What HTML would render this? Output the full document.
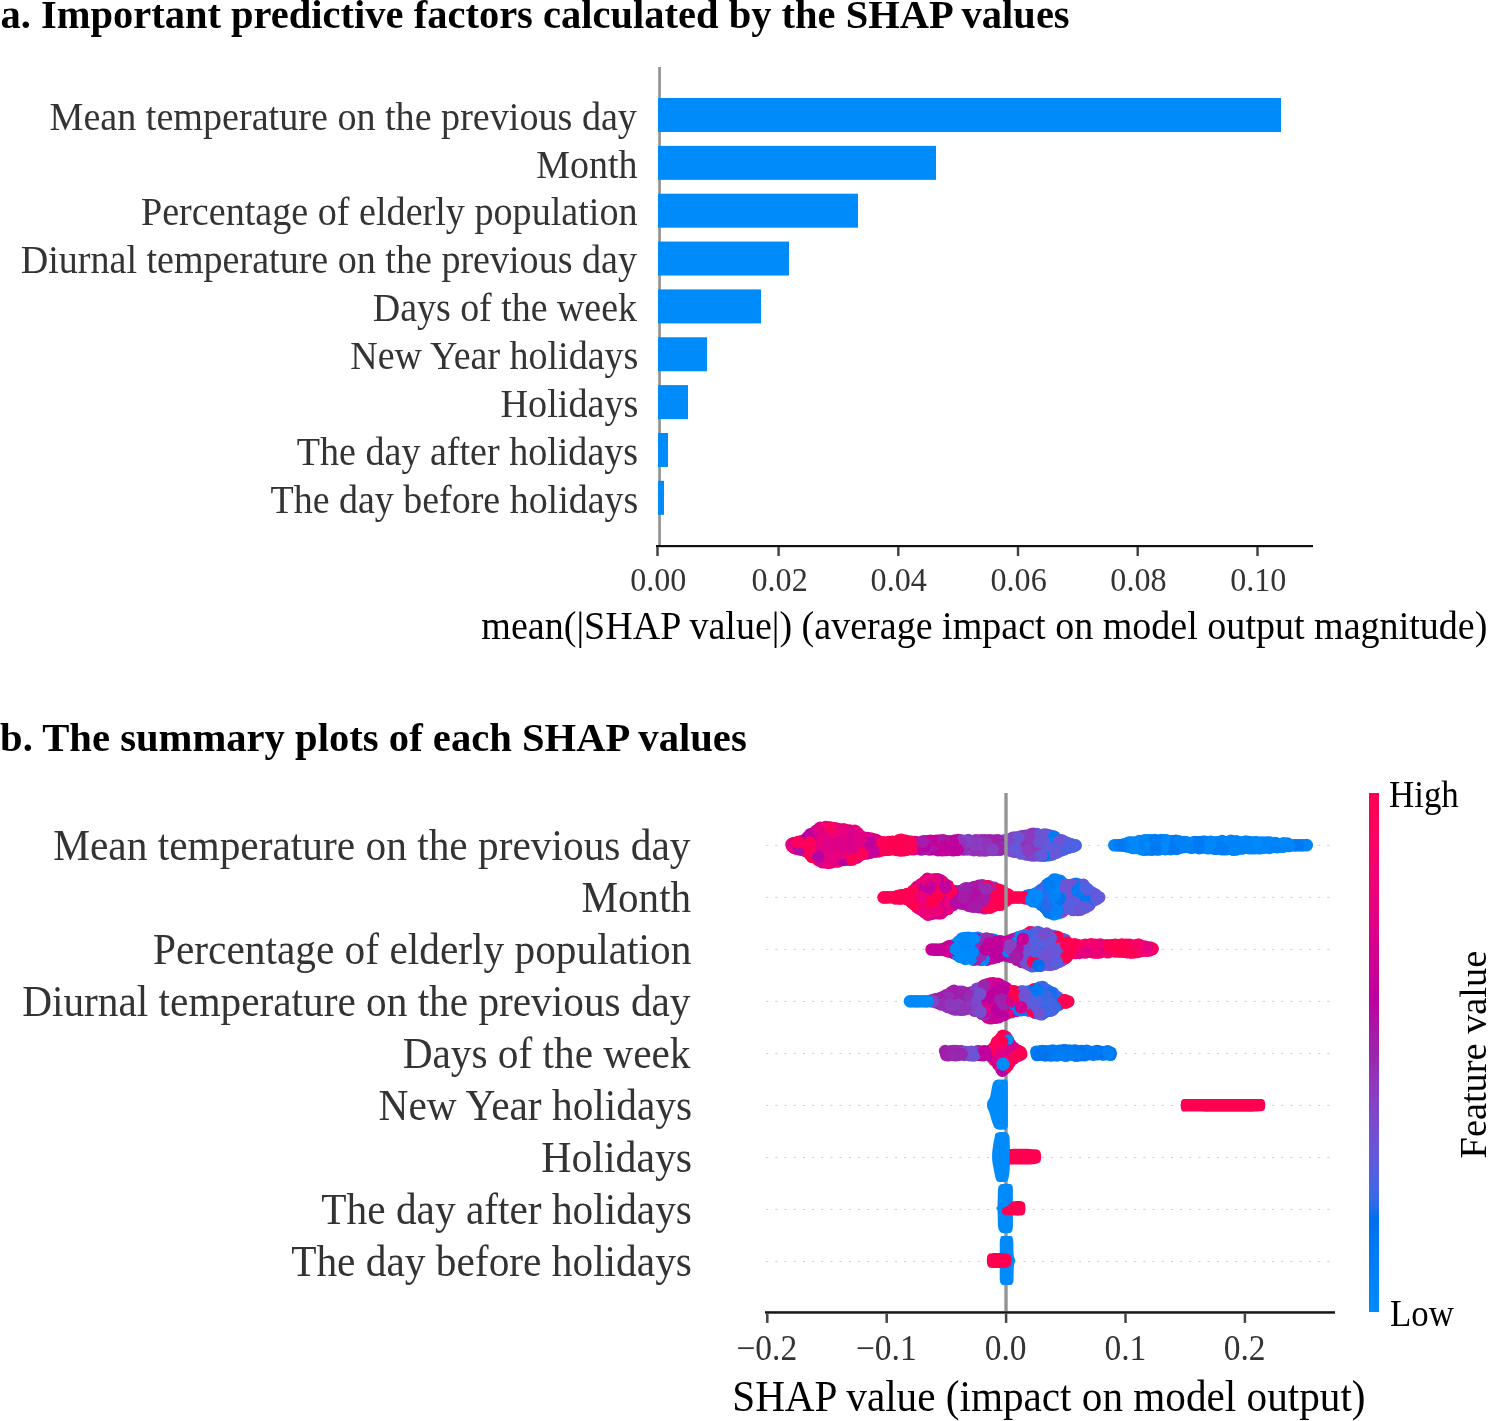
<!DOCTYPE html>
<html><head><meta charset="utf-8"><title>SHAP figure</title>
<style>
html,body{margin:0;padding:0;background:#fff;}
body{width:1490px;height:1421px;overflow:hidden;}
svg{display:block;font-family:"Liberation Serif", serif;}
svg{will-change:transform;}
</style></head><body>
<svg width="1490" height="1421" viewBox="0 0 1490 1421">
<rect width="1490" height="1421" fill="#fff"/>
<defs><linearGradient id="cb" x1="0" y1="0" x2="0" y2="1"><stop offset="0.000" stop-color="#ff0051"/><stop offset="0.020" stop-color="#ff0056"/><stop offset="0.040" stop-color="#ff005a"/><stop offset="0.060" stop-color="#fd005e"/><stop offset="0.080" stop-color="#fb0063"/><stop offset="0.100" stop-color="#f90067"/><stop offset="0.120" stop-color="#f6006b"/><stop offset="0.140" stop-color="#f30070"/><stop offset="0.160" stop-color="#f00074"/><stop offset="0.180" stop-color="#ed0078"/><stop offset="0.200" stop-color="#e9007c"/><stop offset="0.220" stop-color="#e60080"/><stop offset="0.240" stop-color="#e20084"/><stop offset="0.260" stop-color="#de0088"/><stop offset="0.280" stop-color="#d9008b"/><stop offset="0.300" stop-color="#d5008f"/><stop offset="0.320" stop-color="#d00093"/><stop offset="0.340" stop-color="#cb0096"/><stop offset="0.360" stop-color="#c60099"/><stop offset="0.380" stop-color="#c0009c"/><stop offset="0.400" stop-color="#bb00a0"/><stop offset="0.420" stop-color="#b508a3"/><stop offset="0.440" stop-color="#af11a5"/><stop offset="0.460" stop-color="#a819a8"/><stop offset="0.480" stop-color="#a21eaa"/><stop offset="0.500" stop-color="#9b23ad"/><stop offset="0.520" stop-color="#972bb2"/><stop offset="0.540" stop-color="#9332b7"/><stop offset="0.560" stop-color="#8e38bc"/><stop offset="0.580" stop-color="#893dc1"/><stop offset="0.600" stop-color="#8443c6"/><stop offset="0.620" stop-color="#7e48ca"/><stop offset="0.640" stop-color="#784ccf"/><stop offset="0.660" stop-color="#7251d3"/><stop offset="0.680" stop-color="#6a55d7"/><stop offset="0.700" stop-color="#6359da"/><stop offset="0.720" stop-color="#5a5dde"/><stop offset="0.740" stop-color="#5061e1"/><stop offset="0.760" stop-color="#4565e5"/><stop offset="0.780" stop-color="#3769e8"/><stop offset="0.800" stop-color="#236cea"/><stop offset="0.820" stop-color="#006fed"/><stop offset="0.840" stop-color="#0073ef"/><stop offset="0.860" stop-color="#0076f1"/><stop offset="0.880" stop-color="#0079f3"/><stop offset="0.900" stop-color="#007cf5"/><stop offset="0.920" stop-color="#007ff7"/><stop offset="0.940" stop-color="#0082f8"/><stop offset="0.960" stop-color="#0085f9"/><stop offset="0.980" stop-color="#0088fa"/><stop offset="1.000" stop-color="#008bfb"/></linearGradient></defs>
<text transform="translate(0.38,28.20) scale(1.0004,1.0000)" font-size="40.5" font-weight="bold" fill="#000">a. Important predictive factors calculated by the SHAP values</text>
<rect x="658.20" y="67.00" width="2.70" height="478.50" fill="#949494"/>
<rect x="658.00" y="98.00" width="623.00" height="34.00" fill="#008bfb"/>
<rect x="658.00" y="145.85" width="278.00" height="34.00" fill="#008bfb"/>
<rect x="658.00" y="193.70" width="200.00" height="34.00" fill="#008bfb"/>
<rect x="658.00" y="241.55" width="131.00" height="34.00" fill="#008bfb"/>
<rect x="658.00" y="289.40" width="103.00" height="34.00" fill="#008bfb"/>
<rect x="658.00" y="337.25" width="49.00" height="34.00" fill="#008bfb"/>
<rect x="658.00" y="385.10" width="30.00" height="34.00" fill="#008bfb"/>
<rect x="658.00" y="432.95" width="10.00" height="34.00" fill="#008bfb"/>
<rect x="658.00" y="480.80" width="6.00" height="34.00" fill="#008bfb"/>
<text transform="translate(49.56,129.75) scale(0.9346,1.0000)" font-size="40.8" font-weight="normal" fill="#333333">Mean temperature on the previous day</text>
<text transform="translate(536.26,177.60) scale(0.9300,1.0000)" font-size="40.8" font-weight="normal" fill="#333333">Month</text>
<text transform="translate(140.96,225.45) scale(0.9349,1.0000)" font-size="40.8" font-weight="normal" fill="#333333">Percentage of elderly population</text>
<text transform="translate(20.66,273.30) scale(0.9334,1.0000)" font-size="40.8" font-weight="normal" fill="#333333">Diurnal temperature on the previous day</text>
<text transform="translate(372.76,321.15) scale(0.9292,1.0000)" font-size="40.8" font-weight="normal" fill="#333333">Days of the week</text>
<text transform="translate(350.26,369.00) scale(0.9315,1.0000)" font-size="40.8" font-weight="normal" fill="#333333">New Year holidays</text>
<text transform="translate(500.56,416.85) scale(0.9355,1.0000)" font-size="40.8" font-weight="normal" fill="#333333">Holidays</text>
<text transform="translate(296.84,464.70) scale(0.9331,1.0000)" font-size="40.8" font-weight="normal" fill="#333333">The day after holidays</text>
<text transform="translate(270.54,512.55) scale(0.9303,1.0000)" font-size="40.8" font-weight="normal" fill="#333333">The day before holidays</text>
<rect x="656.00" y="545.00" width="657.00" height="2.20" fill="#111111"/>
<rect x="656.30" y="547.00" width="2.40" height="9.00" fill="#404040"/>
<text transform="translate(630.14,590.90) scale(0.9300,1.0000)" font-size="34.6" font-weight="normal" fill="#333333">0.00</text>
<rect x="777.40" y="547.00" width="2.40" height="9.00" fill="#404040"/>
<text transform="translate(751.49,590.90) scale(0.9300,1.0000)" font-size="34.6" font-weight="normal" fill="#333333">0.02</text>
<rect x="897.10" y="547.00" width="2.40" height="9.00" fill="#404040"/>
<text transform="translate(870.54,590.90) scale(0.9300,1.0000)" font-size="34.6" font-weight="normal" fill="#333333">0.04</text>
<rect x="1016.80" y="547.00" width="2.40" height="9.00" fill="#404040"/>
<text transform="translate(990.48,590.90) scale(0.9300,1.0000)" font-size="34.6" font-weight="normal" fill="#333333">0.06</text>
<rect x="1136.50" y="547.00" width="2.40" height="9.00" fill="#404040"/>
<text transform="translate(1110.34,590.90) scale(0.9300,1.0000)" font-size="34.6" font-weight="normal" fill="#333333">0.08</text>
<rect x="1256.30" y="547.00" width="2.40" height="9.00" fill="#404040"/>
<text transform="translate(1230.14,590.90) scale(0.9300,1.0000)" font-size="34.6" font-weight="normal" fill="#333333">0.10</text>
<text transform="translate(481.34,638.80) scale(0.9516,1.0000)" font-size="40" font-weight="normal" fill="#000">mean(|SHAP value|) (average impact on model output magnitude)</text>
<text transform="translate(0.03,750.70) scale(1.0039,1.0000)" font-size="40.5" font-weight="bold" fill="#000">b. The summary plots of each SHAP values</text>
<text transform="translate(53.16,860.20) scale(0.9404,1.0000)" font-size="44" font-weight="normal" fill="#333333">Mean temperature on the previous day</text>
<text transform="translate(581.57,912.16) scale(0.9333,1.0000)" font-size="44" font-weight="normal" fill="#333333">Month</text>
<text transform="translate(152.96,964.12) scale(0.9396,1.0000)" font-size="44" font-weight="normal" fill="#333333">Percentage of elderly population</text>
<text transform="translate(22.16,1016.08) scale(0.9386,1.0000)" font-size="44" font-weight="normal" fill="#333333">Diurnal temperature on the previous day</text>
<text transform="translate(402.66,1068.04) scale(0.9389,1.0000)" font-size="44" font-weight="normal" fill="#333333">Days of the week</text>
<text transform="translate(378.56,1120.00) scale(0.9399,1.0000)" font-size="44" font-weight="normal" fill="#333333">New Year holidays</text>
<text transform="translate(541.25,1171.96) scale(0.9495,1.0000)" font-size="44" font-weight="normal" fill="#333333">Holidays</text>
<text transform="translate(321.37,1223.92) scale(0.9392,1.0000)" font-size="44" font-weight="normal" fill="#333333">The day after holidays</text>
<text transform="translate(291.17,1275.88) scale(0.9402,1.0000)" font-size="44" font-weight="normal" fill="#333333">The day before holidays</text>
<line x1="766" y1="845.40" x2="1335" y2="845.40" stroke="#cfcfcf" stroke-width="1" stroke-dasharray="2.2,7.0"/>
<line x1="766" y1="897.41" x2="1335" y2="897.41" stroke="#cfcfcf" stroke-width="1" stroke-dasharray="2.2,7.0"/>
<line x1="766" y1="949.42" x2="1335" y2="949.42" stroke="#cfcfcf" stroke-width="1" stroke-dasharray="2.2,7.0"/>
<line x1="766" y1="1001.43" x2="1335" y2="1001.43" stroke="#cfcfcf" stroke-width="1" stroke-dasharray="2.2,7.0"/>
<line x1="766" y1="1053.44" x2="1335" y2="1053.44" stroke="#cfcfcf" stroke-width="1" stroke-dasharray="2.2,7.0"/>
<line x1="766" y1="1105.45" x2="1335" y2="1105.45" stroke="#cfcfcf" stroke-width="1" stroke-dasharray="2.2,7.0"/>
<line x1="766" y1="1157.46" x2="1335" y2="1157.46" stroke="#cfcfcf" stroke-width="1" stroke-dasharray="2.2,7.0"/>
<line x1="766" y1="1209.47" x2="1335" y2="1209.47" stroke="#cfcfcf" stroke-width="1" stroke-dasharray="2.2,7.0"/>
<line x1="766" y1="1261.48" x2="1335" y2="1261.48" stroke="#cfcfcf" stroke-width="1" stroke-dasharray="2.2,7.0"/>
<circle cx="958.3" cy="840.1" r="6.3" fill="#b409a3"/>
<circle cx="1129.0" cy="846.4" r="6.3" fill="#0083f8"/>
<circle cx="877.6" cy="846.6" r="6.3" fill="#e50080"/>
<circle cx="940.5" cy="847.2" r="6.3" fill="#a31daa"/>
<circle cx="1052.6" cy="854.4" r="6.3" fill="#5c5cdd"/>
<circle cx="955.5" cy="846.3" r="6.3" fill="#af10a5"/>
<circle cx="854.4" cy="851.5" r="6.3" fill="#dc0089"/>
<circle cx="1246.3" cy="845.2" r="6.3" fill="#0085f9"/>
<circle cx="1147.9" cy="840.4" r="6.3" fill="#007ef6"/>
<circle cx="1158.2" cy="849.5" r="6.3" fill="#0079f3"/>
<circle cx="1024.0" cy="846.1" r="6.3" fill="#8c3abe"/>
<circle cx="1226.1" cy="842.4" r="6.3" fill="#0085f9"/>
<circle cx="870.4" cy="838.9" r="6.3" fill="#c60099"/>
<circle cx="1264.8" cy="847.2" r="6.3" fill="#0086f9"/>
<circle cx="1228.8" cy="848.7" r="6.3" fill="#0087fa"/>
<circle cx="859.3" cy="849.8" r="6.3" fill="#e20083"/>
<circle cx="836.7" cy="861.5" r="6.3" fill="#ee0077"/>
<circle cx="981.9" cy="847.2" r="6.3" fill="#8a3cc0"/>
<circle cx="807.8" cy="848.7" r="6.3" fill="#fd005f"/>
<circle cx="854.2" cy="835.2" r="6.3" fill="#e00085"/>
<circle cx="990.0" cy="840.2" r="6.3" fill="#9c23ad"/>
<circle cx="1030.5" cy="855.0" r="6.3" fill="#8344c7"/>
<circle cx="1161.1" cy="840.1" r="6.3" fill="#0089fa"/>
<circle cx="1013.1" cy="844.6" r="6.3" fill="#7d49cb"/>
<circle cx="877.5" cy="851.5" r="6.3" fill="#e50081"/>
<circle cx="1126.5" cy="843.8" r="6.3" fill="#0086f9"/>
<circle cx="857.0" cy="844.1" r="6.3" fill="#e20083"/>
<circle cx="1059.0" cy="843.6" r="6.3" fill="#3d67e6"/>
<circle cx="1257.4" cy="848.0" r="6.3" fill="#0085f9"/>
<circle cx="1056.7" cy="841.8" r="6.3" fill="#3e67e6"/>
<circle cx="837.9" cy="843.0" r="6.3" fill="#dd0088"/>
<circle cx="825.8" cy="831.8" r="6.3" fill="#d7008d"/>
<circle cx="884.7" cy="842.5" r="6.3" fill="#ff0052"/>
<circle cx="814.6" cy="857.4" r="6.3" fill="#b408a3"/>
<circle cx="1186.5" cy="842.3" r="6.3" fill="#0082f8"/>
<circle cx="966.5" cy="846.6" r="6.3" fill="#9b24ae"/>
<circle cx="1238.8" cy="848.4" r="6.3" fill="#0089fa"/>
<circle cx="1204.2" cy="844.9" r="6.3" fill="#0078f3"/>
<circle cx="1142.3" cy="845.3" r="6.3" fill="#0089fa"/>
<circle cx="827.9" cy="859.4" r="6.3" fill="#d7008d"/>
<circle cx="943.1" cy="846.2" r="6.3" fill="#c60099"/>
<circle cx="799.8" cy="842.0" r="6.3" fill="#fc0060"/>
<circle cx="796.8" cy="844.9" r="6.3" fill="#da008b"/>
<circle cx="914.7" cy="846.4" r="6.3" fill="#b704a1"/>
<circle cx="1236.0" cy="849.5" r="6.3" fill="#0086f9"/>
<circle cx="854.7" cy="830.7" r="6.3" fill="#e00086"/>
<circle cx="1155.3" cy="847.3" r="6.3" fill="#0089fa"/>
<circle cx="1000.3" cy="844.6" r="6.3" fill="#9b24ad"/>
<circle cx="1150.9" cy="849.3" r="6.3" fill="#0079f3"/>
<circle cx="993.9" cy="846.2" r="6.3" fill="#9926af"/>
<circle cx="849.1" cy="838.5" r="6.3" fill="#fe005c"/>
<circle cx="979.7" cy="850.4" r="6.3" fill="#8b3bbf"/>
<circle cx="1028.7" cy="846.3" r="6.3" fill="#615adb"/>
<circle cx="1219.8" cy="842.4" r="6.3" fill="#007bf4"/>
<circle cx="1002.8" cy="845.6" r="6.3" fill="#8740c3"/>
<circle cx="1230.1" cy="848.5" r="6.3" fill="#0089fa"/>
<circle cx="898.8" cy="840.4" r="6.3" fill="#ff0054"/>
<circle cx="1010.6" cy="839.1" r="6.3" fill="#774dcf"/>
<circle cx="817.1" cy="834.0" r="6.3" fill="#df0086"/>
<circle cx="1132.4" cy="847.9" r="6.3" fill="#0089fa"/>
<circle cx="845.8" cy="833.4" r="6.3" fill="#e50081"/>
<circle cx="1005.9" cy="845.3" r="6.3" fill="#8443c6"/>
<circle cx="1227.7" cy="842.1" r="6.3" fill="#007df5"/>
<circle cx="831.1" cy="841.5" r="6.3" fill="#db0089"/>
<circle cx="921.3" cy="849.5" r="6.3" fill="#ab16a7"/>
<circle cx="913.6" cy="849.2" r="6.3" fill="#b605a2"/>
<circle cx="984.2" cy="842.9" r="6.3" fill="#9134b9"/>
<circle cx="818.4" cy="860.1" r="6.3" fill="#fd005f"/>
<circle cx="1033.6" cy="833.7" r="6.3" fill="#6657d9"/>
<circle cx="1136.6" cy="845.7" r="6.3" fill="#0089fa"/>
<circle cx="848.6" cy="834.4" r="6.3" fill="#e10085"/>
<circle cx="1144.5" cy="849.8" r="6.3" fill="#0083f8"/>
<circle cx="1194.6" cy="842.1" r="6.3" fill="#007df5"/>
<circle cx="846.4" cy="851.6" r="6.3" fill="#c0009d"/>
<circle cx="873.2" cy="851.8" r="6.3" fill="#ff0051"/>
<circle cx="1126.9" cy="846.4" r="6.3" fill="#0087fa"/>
<circle cx="994.5" cy="840.5" r="6.3" fill="#9c23ad"/>
<circle cx="901.9" cy="843.7" r="6.3" fill="#ff0051"/>
<circle cx="1050.0" cy="842.7" r="6.3" fill="#0079f3"/>
<circle cx="826.4" cy="834.6" r="6.3" fill="#dd0088"/>
<circle cx="1017.5" cy="840.8" r="6.3" fill="#6757d8"/>
<circle cx="1035.8" cy="848.2" r="6.3" fill="#605bdc"/>
<circle cx="1041.7" cy="841.8" r="6.3" fill="#6a55d7"/>
<circle cx="975.8" cy="844.4" r="6.3" fill="#9233b8"/>
<circle cx="893.0" cy="846.5" r="6.3" fill="#ff0051"/>
<circle cx="831.3" cy="833.8" r="6.3" fill="#d30090"/>
<circle cx="1222.7" cy="845.4" r="6.3" fill="#0078f2"/>
<circle cx="836.1" cy="840.0" r="6.3" fill="#d4008f"/>
<circle cx="1226.2" cy="849.2" r="6.3" fill="#0088fa"/>
<circle cx="835.9" cy="849.6" r="6.3" fill="#da008b"/>
<circle cx="796.8" cy="848.7" r="6.3" fill="#fc0060"/>
<circle cx="1004.6" cy="840.4" r="6.3" fill="#7f47ca"/>
<circle cx="1015.4" cy="841.4" r="6.3" fill="#6b55d7"/>
<circle cx="830.6" cy="830.7" r="6.3" fill="#ee0076"/>
<circle cx="984.7" cy="840.2" r="6.3" fill="#952db4"/>
<circle cx="827.7" cy="840.9" r="6.3" fill="#d6008e"/>
<circle cx="1032.9" cy="855.5" r="6.3" fill="#7350d2"/>
<circle cx="1020.5" cy="836.6" r="6.3" fill="#6856d8"/>
<circle cx="1139.6" cy="844.3" r="6.3" fill="#0085f9"/>
<circle cx="942.3" cy="850.2" r="6.3" fill="#aa17a7"/>
<circle cx="1139.3" cy="841.1" r="6.3" fill="#0084f9"/>
<circle cx="1047.1" cy="850.5" r="6.3" fill="#5f5bdc"/>
<circle cx="1032.9" cy="841.8" r="6.3" fill="#6757d8"/>
<circle cx="1020.3" cy="842.7" r="6.3" fill="#6658d9"/>
<circle cx="1241.5" cy="844.9" r="6.3" fill="#0084f9"/>
<circle cx="1195.0" cy="846.4" r="6.3" fill="#007ff7"/>
<circle cx="1228.0" cy="845.2" r="6.3" fill="#0082f8"/>
<circle cx="820.0" cy="846.8" r="6.3" fill="#be009e"/>
<circle cx="895.5" cy="845.5" r="6.3" fill="#ff0054"/>
<circle cx="815.9" cy="831.3" r="6.3" fill="#de0087"/>
<circle cx="1301.0" cy="845.2" r="6.3" fill="#007df5"/>
<circle cx="848.8" cy="851.4" r="6.3" fill="#ff005b"/>
<circle cx="816.1" cy="854.5" r="6.3" fill="#b30ba3"/>
<circle cx="963.0" cy="849.4" r="6.3" fill="#9d22ac"/>
<circle cx="1025.7" cy="835.9" r="6.3" fill="#6558d9"/>
<circle cx="1052.2" cy="842.7" r="6.3" fill="#595ede"/>
<circle cx="1165.2" cy="845.0" r="6.3" fill="#008afb"/>
<circle cx="954.9" cy="843.5" r="6.3" fill="#bf009d"/>
<circle cx="864.7" cy="838.1" r="6.3" fill="#e10085"/>
<circle cx="1051.7" cy="847.1" r="6.3" fill="#555fe0"/>
<circle cx="873.1" cy="849.1" r="6.3" fill="#bf009d"/>
<circle cx="1269.7" cy="842.6" r="6.3" fill="#0085f9"/>
<circle cx="812.7" cy="840.8" r="6.3" fill="#d5008e"/>
<circle cx="1233.5" cy="845.0" r="6.3" fill="#008bfb"/>
<circle cx="1025.6" cy="846.5" r="6.3" fill="#972bb2"/>
<circle cx="1027.7" cy="842.0" r="6.3" fill="#9430b6"/>
<circle cx="932.2" cy="849.2" r="6.3" fill="#c1009c"/>
<circle cx="1057.3" cy="839.2" r="6.3" fill="#4565e4"/>
<circle cx="820.5" cy="860.5" r="6.3" fill="#e40081"/>
<circle cx="813.3" cy="833.7" r="6.3" fill="#c2009b"/>
<circle cx="1044.6" cy="848.4" r="6.3" fill="#007cf5"/>
<circle cx="1253.8" cy="848.2" r="6.3" fill="#0082f8"/>
<circle cx="1174.0" cy="841.2" r="6.3" fill="#007ef6"/>
<circle cx="1039.6" cy="855.3" r="6.3" fill="#7251d2"/>
<circle cx="898.2" cy="844.1" r="6.3" fill="#ff0051"/>
<circle cx="925.0" cy="848.5" r="6.3" fill="#ab16a7"/>
<circle cx="919.5" cy="843.1" r="6.3" fill="#bc009f"/>
<circle cx="830.3" cy="848.0" r="6.3" fill="#d9008c"/>
<circle cx="832.8" cy="839.9" r="6.3" fill="#d40090"/>
<circle cx="828.3" cy="831.8" r="6.3" fill="#e7007f"/>
<circle cx="1174.1" cy="844.7" r="6.3" fill="#0078f3"/>
<circle cx="828.4" cy="838.7" r="6.3" fill="#e50080"/>
<circle cx="851.5" cy="834.3" r="6.3" fill="#ff0058"/>
<circle cx="1279.9" cy="844.3" r="6.3" fill="#0086fa"/>
<circle cx="1114.4" cy="845.2" r="6.3" fill="#0084f9"/>
<circle cx="989.5" cy="847.2" r="6.3" fill="#8f37bb"/>
<circle cx="1202.2" cy="847.2" r="6.3" fill="#007ef6"/>
<circle cx="839.5" cy="836.2" r="6.3" fill="#d4008f"/>
<circle cx="839.4" cy="839.3" r="6.3" fill="#d5008f"/>
<circle cx="1030.6" cy="845.1" r="6.3" fill="#952fb5"/>
<circle cx="986.7" cy="847.0" r="6.3" fill="#8c3bbf"/>
<circle cx="833.5" cy="861.2" r="6.3" fill="#ee0076"/>
<circle cx="1027.9" cy="839.4" r="6.3" fill="#8c3bbf"/>
<circle cx="851.3" cy="840.7" r="6.3" fill="#de0087"/>
<circle cx="1007.6" cy="842.7" r="6.3" fill="#8640c4"/>
<circle cx="804.8" cy="843.5" r="6.3" fill="#de0087"/>
<circle cx="1183.9" cy="845.1" r="6.3" fill="#0080f7"/>
<circle cx="831.3" cy="851.4" r="6.3" fill="#d6008e"/>
<circle cx="815.1" cy="850.6" r="6.3" fill="#c3009b"/>
<circle cx="1254.8" cy="842.3" r="6.3" fill="#0086f9"/>
<circle cx="815.1" cy="843.7" r="6.3" fill="#be009e"/>
<circle cx="1220.0" cy="844.6" r="6.3" fill="#007cf5"/>
<circle cx="971.9" cy="849.4" r="6.3" fill="#9b23ad"/>
<circle cx="1012.8" cy="837.9" r="6.3" fill="#8740c4"/>
<circle cx="852.2" cy="844.6" r="6.3" fill="#ff0052"/>
<circle cx="879.6" cy="850.9" r="6.3" fill="#ff0051"/>
<circle cx="1007.0" cy="849.7" r="6.3" fill="#7f47ca"/>
<circle cx="810.7" cy="850.8" r="6.3" fill="#fe005d"/>
<circle cx="1210.5" cy="841.9" r="6.3" fill="#0084f9"/>
<circle cx="1131.7" cy="842.6" r="6.3" fill="#0085f9"/>
<circle cx="870.6" cy="849.1" r="6.3" fill="#c70098"/>
<circle cx="1005.8" cy="848.6" r="6.3" fill="#784cce"/>
<circle cx="825.6" cy="827.1" r="6.3" fill="#d9008c"/>
<circle cx="1181.9" cy="845.4" r="6.3" fill="#007cf5"/>
<circle cx="838.7" cy="861.1" r="6.3" fill="#ff005b"/>
<circle cx="1179.6" cy="847.3" r="6.3" fill="#007bf4"/>
<circle cx="861.4" cy="844.5" r="6.3" fill="#dd0088"/>
<circle cx="1153.0" cy="846.7" r="6.3" fill="#0086f9"/>
<circle cx="958.8" cy="846.5" r="6.3" fill="#a21eaa"/>
<circle cx="869.5" cy="846.0" r="6.3" fill="#be009d"/>
<circle cx="1262.6" cy="847.7" r="6.3" fill="#0087fa"/>
<circle cx="805.3" cy="850.9" r="6.3" fill="#ff005b"/>
<circle cx="822.7" cy="862.2" r="6.3" fill="#db008a"/>
<circle cx="1028.3" cy="853.9" r="6.3" fill="#8c3bbf"/>
<circle cx="860.3" cy="852.0" r="6.3" fill="#da008b"/>
<circle cx="930.1" cy="844.6" r="6.3" fill="#a918a8"/>
<circle cx="838.4" cy="856.7" r="6.3" fill="#fc0062"/>
<circle cx="825.1" cy="851.9" r="6.3" fill="#d30090"/>
<circle cx="1233.3" cy="849.7" r="6.3" fill="#0086f9"/>
<circle cx="984.0" cy="847.0" r="6.3" fill="#8443c6"/>
<circle cx="1282.8" cy="846.7" r="6.3" fill="#0089fa"/>
<circle cx="1023.8" cy="850.4" r="6.3" fill="#9035ba"/>
<circle cx="1036.0" cy="841.9" r="6.3" fill="#6956d7"/>
<circle cx="1295.0" cy="845.2" r="6.3" fill="#007ff7"/>
<circle cx="817.4" cy="848.8" r="6.3" fill="#bf009d"/>
<circle cx="1248.7" cy="842.1" r="6.3" fill="#0088fa"/>
<circle cx="950.0" cy="847.1" r="6.3" fill="#b20ca4"/>
<circle cx="1056.7" cy="852.5" r="6.3" fill="#5d5cdd"/>
<circle cx="1129.1" cy="842.5" r="6.3" fill="#0083f8"/>
<circle cx="1049.5" cy="851.3" r="6.3" fill="#4c63e3"/>
<circle cx="1225.3" cy="844.6" r="6.3" fill="#007df6"/>
<circle cx="898.1" cy="849.5" r="6.3" fill="#ff0051"/>
<circle cx="987.5" cy="840.9" r="6.3" fill="#a01fab"/>
<circle cx="1169.1" cy="845.2" r="6.3" fill="#0084f9"/>
<circle cx="817.5" cy="830.1" r="6.3" fill="#dd0089"/>
<circle cx="843.5" cy="852.7" r="6.3" fill="#ff0051"/>
<circle cx="862.8" cy="847.8" r="6.3" fill="#db008a"/>
<circle cx="940.1" cy="840.5" r="6.3" fill="#cc0095"/>
<circle cx="1049.5" cy="839.5" r="6.3" fill="#5d5cdd"/>
<circle cx="901.6" cy="847.4" r="6.3" fill="#ff0052"/>
<circle cx="1166.2" cy="840.4" r="6.3" fill="#0082f8"/>
<circle cx="978.4" cy="841.0" r="6.3" fill="#8e38bc"/>
<circle cx="952.5" cy="846.9" r="6.3" fill="#b010a5"/>
<circle cx="1007.1" cy="846.1" r="6.3" fill="#8443c6"/>
<circle cx="917.3" cy="842.5" r="6.3" fill="#b30aa3"/>
<circle cx="1237.9" cy="842.0" r="6.3" fill="#0087fa"/>
<circle cx="849.5" cy="859.7" r="6.3" fill="#c0009d"/>
<circle cx="841.8" cy="841.7" r="6.3" fill="#ea007b"/>
<circle cx="856.7" cy="850.1" r="6.3" fill="#d9008b"/>
<circle cx="1026.3" cy="842.4" r="6.3" fill="#9134b9"/>
<circle cx="831.0" cy="862.4" r="6.3" fill="#d7008d"/>
<circle cx="1243.6" cy="842.2" r="6.3" fill="#0083f8"/>
<circle cx="1148.1" cy="844.7" r="6.3" fill="#0084f9"/>
<circle cx="1306.8" cy="845.1" r="6.3" fill="#0084f9"/>
<circle cx="1049.9" cy="835.6" r="6.3" fill="#6e53d5"/>
<circle cx="1275.4" cy="843.0" r="6.3" fill="#0088fa"/>
<circle cx="999.3" cy="841.2" r="6.3" fill="#a41ca9"/>
<circle cx="1010.1" cy="847.1" r="6.3" fill="#8245c8"/>
<circle cx="818.3" cy="851.8" r="6.3" fill="#fc0061"/>
<circle cx="1134.9" cy="848.0" r="6.3" fill="#0088fa"/>
<circle cx="1002.4" cy="841.3" r="6.3" fill="#8146c9"/>
<circle cx="979.4" cy="844.1" r="6.3" fill="#893dc1"/>
<circle cx="981.4" cy="849.1" r="6.3" fill="#893dc1"/>
<circle cx="1031.2" cy="851.2" r="6.3" fill="#5f5bdc"/>
<circle cx="1038.6" cy="850.9" r="6.3" fill="#7450d1"/>
<circle cx="955.8" cy="849.2" r="6.3" fill="#b30aa3"/>
<circle cx="1171.5" cy="841.0" r="6.3" fill="#0089fa"/>
<circle cx="1015.0" cy="844.9" r="6.3" fill="#794cce"/>
<circle cx="966.0" cy="849.3" r="6.3" fill="#9f20ab"/>
<circle cx="825.8" cy="859.1" r="6.3" fill="#da008b"/>
<circle cx="1197.3" cy="847.1" r="6.3" fill="#007ff7"/>
<circle cx="1037.0" cy="834.1" r="6.3" fill="#6c54d6"/>
<circle cx="801.9" cy="849.7" r="6.3" fill="#fe005d"/>
<circle cx="1051.8" cy="850.2" r="6.3" fill="#4665e4"/>
<circle cx="1041.8" cy="844.8" r="6.3" fill="#007bf4"/>
<circle cx="984.0" cy="850.4" r="6.3" fill="#8b3cc0"/>
<circle cx="1217.6" cy="842.2" r="6.3" fill="#007ef6"/>
<circle cx="828.6" cy="848.8" r="6.3" fill="#e7007e"/>
<circle cx="953.9" cy="840.8" r="6.3" fill="#bb009f"/>
<circle cx="972.0" cy="847.1" r="6.3" fill="#a21eaa"/>
<circle cx="932.5" cy="841.0" r="6.3" fill="#c0009c"/>
<circle cx="997.4" cy="845.6" r="6.3" fill="#9c22ac"/>
<circle cx="1186.1" cy="846.7" r="6.3" fill="#007ef6"/>
<circle cx="845.7" cy="859.4" r="6.3" fill="#b508a3"/>
<circle cx="1204.1" cy="847.5" r="6.3" fill="#0088fa"/>
<circle cx="1072.0" cy="845.5" r="6.3" fill="#3d67e6"/>
<circle cx="1189.1" cy="843.2" r="6.3" fill="#0079f3"/>
<circle cx="838.6" cy="832.2" r="6.3" fill="#ff005b"/>
<circle cx="833.1" cy="846.2" r="6.3" fill="#ed0077"/>
<circle cx="934.8" cy="844.8" r="6.3" fill="#ad14a6"/>
<circle cx="1211.8" cy="842.1" r="6.3" fill="#0088fa"/>
<circle cx="822.5" cy="847.6" r="6.3" fill="#e9007d"/>
<circle cx="922.4" cy="846.2" r="6.3" fill="#be009e"/>
<circle cx="1197.3" cy="842.3" r="6.3" fill="#007bf4"/>
<circle cx="815.5" cy="847.2" r="6.3" fill="#bd009e"/>
<circle cx="827.7" cy="855.8" r="6.3" fill="#e9007c"/>
<circle cx="811.9" cy="844.4" r="6.3" fill="#fb0062"/>
<circle cx="1165.3" cy="849.1" r="6.3" fill="#0083f8"/>
<circle cx="1057.6" cy="849.1" r="6.3" fill="#3b68e7"/>
<circle cx="824.9" cy="841.9" r="6.3" fill="#db008a"/>
<circle cx="974.4" cy="847.0" r="6.3" fill="#8146c8"/>
<circle cx="995.3" cy="843.0" r="6.3" fill="#962cb3"/>
<circle cx="844.0" cy="833.9" r="6.3" fill="#ff0057"/>
<circle cx="864.4" cy="845.7" r="6.3" fill="#ba00a0"/>
<circle cx="943.4" cy="843.0" r="6.3" fill="#a31daa"/>
<circle cx="835.6" cy="856.9" r="6.3" fill="#fe005d"/>
<circle cx="1041.7" cy="838.3" r="6.3" fill="#6c54d6"/>
<circle cx="936.8" cy="845.4" r="6.3" fill="#c3009b"/>
<circle cx="1230.3" cy="845.9" r="6.3" fill="#0087fa"/>
<circle cx="1031.5" cy="848.1" r="6.3" fill="#8a3cc0"/>
<circle cx="1046.7" cy="834.9" r="6.3" fill="#6259db"/>
<circle cx="832.8" cy="853.8" r="6.3" fill="#dc0089"/>
<circle cx="814.5" cy="840.5" r="6.3" fill="#dd0088"/>
<circle cx="1204.9" cy="841.7" r="6.3" fill="#007cf5"/>
<circle cx="1013.1" cy="847.2" r="6.3" fill="#784ccf"/>
<circle cx="974.6" cy="840.9" r="6.3" fill="#8344c6"/>
<circle cx="1075.7" cy="845.4" r="6.3" fill="#4266e5"/>
<circle cx="1171.2" cy="845.5" r="6.3" fill="#007bf4"/>
<circle cx="1176.4" cy="845.4" r="6.3" fill="#0078f3"/>
<circle cx="820.3" cy="827.7" r="6.3" fill="#d4008f"/>
<circle cx="1054.7" cy="848.8" r="6.3" fill="#3968e7"/>
<circle cx="853.8" cy="854.6" r="6.3" fill="#b40aa3"/>
<circle cx="1015.4" cy="837.5" r="6.3" fill="#7f47ca"/>
<circle cx="1150.5" cy="840.6" r="6.3" fill="#007ef6"/>
<circle cx="1117.0" cy="845.2" r="6.3" fill="#008afb"/>
<circle cx="916.2" cy="847.7" r="6.3" fill="#c0009c"/>
<circle cx="1061.9" cy="850.1" r="6.3" fill="#5261e1"/>
<circle cx="1010.2" cy="842.3" r="6.3" fill="#8542c5"/>
<circle cx="836.6" cy="847.0" r="6.3" fill="#dd0088"/>
<circle cx="1287.4" cy="843.5" r="6.3" fill="#0086fa"/>
<circle cx="1148.3" cy="849.4" r="6.3" fill="#0079f3"/>
<circle cx="1168.0" cy="848.2" r="6.3" fill="#008afb"/>
<circle cx="866.9" cy="846.0" r="6.3" fill="#c70098"/>
<circle cx="968.8" cy="846.6" r="6.3" fill="#9c22ad"/>
<circle cx="888.0" cy="845.8" r="6.3" fill="#ff0051"/>
<circle cx="991.7" cy="841.4" r="6.3" fill="#9d22ac"/>
<circle cx="898.9" cy="846.6" r="6.3" fill="#ff0051"/>
<circle cx="1038.9" cy="835.3" r="6.3" fill="#744fd1"/>
<circle cx="1158.4" cy="844.5" r="6.3" fill="#007af4"/>
<circle cx="833.2" cy="843.1" r="6.3" fill="#e7007e"/>
<circle cx="1018.4" cy="844.6" r="6.3" fill="#972bb2"/>
<circle cx="908.6" cy="845.0" r="6.3" fill="#ff0051"/>
<circle cx="830.8" cy="837.2" r="6.3" fill="#de0087"/>
<circle cx="821.0" cy="853.2" r="6.3" fill="#ec0079"/>
<circle cx="1271.7" cy="846.4" r="6.3" fill="#0086f9"/>
<circle cx="871.8" cy="845.3" r="6.3" fill="#bd009e"/>
<circle cx="810.4" cy="834.3" r="6.3" fill="#bd009e"/>
<circle cx="862.5" cy="840.5" r="6.3" fill="#e00086"/>
<circle cx="1269.9" cy="847.9" r="6.3" fill="#0086f9"/>
<circle cx="1046.1" cy="838.3" r="6.3" fill="#6a56d7"/>
<circle cx="1052.5" cy="836.2" r="6.3" fill="#605adb"/>
<circle cx="812.8" cy="849.1" r="6.3" fill="#fd005f"/>
<circle cx="901.2" cy="839.9" r="6.3" fill="#ff0054"/>
<circle cx="1026.6" cy="854.5" r="6.3" fill="#7d49cb"/>
<circle cx="909.0" cy="849.0" r="6.3" fill="#ff0056"/>
<circle cx="1160.2" cy="848.9" r="6.3" fill="#0082f8"/>
<circle cx="1069.9" cy="847.0" r="6.3" fill="#4964e3"/>
<circle cx="934.3" cy="848.9" r="6.3" fill="#ba00a0"/>
<circle cx="1020.6" cy="846.1" r="6.3" fill="#9331b7"/>
<circle cx="851.2" cy="851.6" r="6.3" fill="#ff0051"/>
<circle cx="1249.1" cy="845.9" r="6.3" fill="#0082f8"/>
<circle cx="820.1" cy="831.7" r="6.3" fill="#d9008c"/>
<circle cx="1041.9" cy="852.3" r="6.3" fill="#0075f1"/>
<circle cx="1163.1" cy="840.3" r="6.3" fill="#0088fa"/>
<circle cx="856.4" cy="836.0" r="6.3" fill="#da008b"/>
<circle cx="832.8" cy="828.4" r="6.3" fill="#c3009b"/>
<circle cx="1026.1" cy="850.5" r="6.3" fill="#9233b9"/>
<circle cx="848.8" cy="856.1" r="6.3" fill="#ff0053"/>
<circle cx="882.5" cy="850.1" r="6.3" fill="#ff0057"/>
<circle cx="1266.9" cy="842.6" r="6.3" fill="#0085f9"/>
<circle cx="918.7" cy="848.3" r="6.3" fill="#bd009e"/>
<circle cx="1057.6" cy="845.9" r="6.3" fill="#5161e1"/>
<circle cx="846.2" cy="848.6" r="6.3" fill="#dc0089"/>
<circle cx="1040.9" cy="847.8" r="6.3" fill="#6558d9"/>
<circle cx="867.6" cy="838.0" r="6.3" fill="#db008a"/>
<circle cx="825.3" cy="855.7" r="6.3" fill="#dc0089"/>
<circle cx="916.5" cy="846.2" r="6.3" fill="#bb009f"/>
<circle cx="882.5" cy="846.6" r="6.3" fill="#ff0051"/>
<circle cx="919.5" cy="845.3" r="6.3" fill="#bc009f"/>
<circle cx="1018.6" cy="848.4" r="6.3" fill="#6d53d5"/>
<circle cx="817.3" cy="837.1" r="6.3" fill="#db0089"/>
<circle cx="888.8" cy="842.1" r="6.3" fill="#ff0056"/>
<circle cx="1155.7" cy="843.8" r="6.3" fill="#0079f3"/>
<circle cx="1246.1" cy="847.7" r="6.3" fill="#0086f9"/>
<circle cx="1189.9" cy="847.3" r="6.3" fill="#008afb"/>
<circle cx="1241.7" cy="842.6" r="6.3" fill="#008afb"/>
<circle cx="1070.6" cy="844.0" r="6.3" fill="#4166e6"/>
<circle cx="1184.0" cy="842.0" r="6.3" fill="#0087fa"/>
<circle cx="844.2" cy="837.4" r="6.3" fill="#e20083"/>
<circle cx="874.8" cy="847.0" r="6.3" fill="#e30082"/>
<circle cx="1142.5" cy="841.6" r="6.3" fill="#0082f8"/>
<circle cx="1290.1" cy="845.2" r="6.3" fill="#0084f9"/>
<circle cx="825.7" cy="845.3" r="6.3" fill="#d4008f"/>
<circle cx="791.6" cy="844.1" r="6.3" fill="#e50081"/>
<circle cx="1236.3" cy="841.4" r="6.3" fill="#0083f8"/>
<circle cx="1141.6" cy="849.3" r="6.3" fill="#0086f9"/>
<circle cx="904.2" cy="840.9" r="6.3" fill="#ff0054"/>
<circle cx="851.8" cy="837.7" r="6.3" fill="#e20083"/>
<circle cx="1152.4" cy="843.5" r="6.3" fill="#007bf4"/>
<circle cx="1243.6" cy="848.0" r="6.3" fill="#0085f9"/>
<circle cx="856.9" cy="857.5" r="6.3" fill="#bc009f"/>
<circle cx="1303.5" cy="845.2" r="6.3" fill="#0085f9"/>
<circle cx="1020.5" cy="849.1" r="6.3" fill="#893dc1"/>
<circle cx="968.7" cy="849.3" r="6.3" fill="#8f37bb"/>
<circle cx="857.7" cy="833.1" r="6.3" fill="#e30082"/>
<circle cx="854.0" cy="837.4" r="6.3" fill="#ff0055"/>
<circle cx="973.8" cy="850.1" r="6.3" fill="#8b3bbf"/>
<circle cx="864.3" cy="853.2" r="6.3" fill="#c4009a"/>
<circle cx="838.5" cy="852.9" r="6.3" fill="#d30090"/>
<circle cx="858.9" cy="855.8" r="6.3" fill="#ff005b"/>
<circle cx="818.2" cy="844.2" r="6.3" fill="#ff005b"/>
<circle cx="989.5" cy="849.5" r="6.3" fill="#8245c8"/>
<circle cx="1170.5" cy="849.1" r="6.3" fill="#0080f7"/>
<circle cx="1010.2" cy="850.6" r="6.3" fill="#8443c6"/>
<circle cx="975.7" cy="846.1" r="6.3" fill="#7d49cb"/>
<circle cx="846.8" cy="845.2" r="6.3" fill="#ff0059"/>
<circle cx="880.1" cy="842.0" r="6.3" fill="#ff0054"/>
<circle cx="869.8" cy="852.8" r="6.3" fill="#c5009a"/>
<circle cx="929.1" cy="849.4" r="6.3" fill="#bc009f"/>
<circle cx="867.3" cy="842.3" r="6.3" fill="#c50099"/>
<circle cx="1192.1" cy="842.7" r="6.3" fill="#0087fa"/>
<circle cx="831.7" cy="845.4" r="6.3" fill="#e6007f"/>
<circle cx="991.5" cy="846.9" r="6.3" fill="#962cb3"/>
<circle cx="1021.5" cy="839.3" r="6.3" fill="#7151d3"/>
<circle cx="858.8" cy="842.8" r="6.3" fill="#db008a"/>
<circle cx="833.1" cy="849.9" r="6.3" fill="#d30090"/>
<circle cx="848.7" cy="845.5" r="6.3" fill="#df0086"/>
<circle cx="1042.0" cy="835.4" r="6.3" fill="#5e5cdc"/>
<circle cx="1031.6" cy="834.0" r="6.3" fill="#9134b9"/>
<circle cx="1008.5" cy="840.4" r="6.3" fill="#7b4acd"/>
<circle cx="1033.0" cy="852.1" r="6.3" fill="#615adb"/>
<circle cx="1266.9" cy="847.2" r="6.3" fill="#0088fa"/>
<circle cx="817.9" cy="841.6" r="6.3" fill="#b703a1"/>
<circle cx="979.6" cy="847.2" r="6.3" fill="#952eb5"/>
<circle cx="844.4" cy="841.6" r="6.3" fill="#ff005c"/>
<circle cx="791.9" cy="846.0" r="6.3" fill="#e30083"/>
<circle cx="846.0" cy="856.6" r="6.3" fill="#b802a1"/>
<circle cx="849.8" cy="830.6" r="6.3" fill="#ff0057"/>
<circle cx="1163.1" cy="844.8" r="6.3" fill="#008afb"/>
<circle cx="844.3" cy="856.9" r="6.3" fill="#c1009c"/>
<circle cx="981.1" cy="840.2" r="6.3" fill="#972ab1"/>
<circle cx="821.2" cy="835.6" r="6.3" fill="#e60080"/>
<circle cx="802.0" cy="845.7" r="6.3" fill="#ff0057"/>
<circle cx="1054.8" cy="841.8" r="6.3" fill="#4365e5"/>
<circle cx="940.9" cy="849.7" r="6.3" fill="#ce0094"/>
<circle cx="1222.2" cy="841.1" r="6.3" fill="#0085f9"/>
<circle cx="812.0" cy="856.7" r="6.3" fill="#ff0057"/>
<circle cx="1072.7" cy="846.6" r="6.3" fill="#5161e1"/>
<circle cx="808.0" cy="851.9" r="6.3" fill="#ff005b"/>
<circle cx="968.3" cy="840.0" r="6.3" fill="#8146c9"/>
<circle cx="1137.5" cy="847.3" r="6.3" fill="#0089fa"/>
<circle cx="1049.6" cy="846.2" r="6.3" fill="#3c67e7"/>
<circle cx="1150.4" cy="843.4" r="6.3" fill="#0088fa"/>
<circle cx="1179.1" cy="844.4" r="6.3" fill="#007af4"/>
<circle cx="1152.1" cy="840.5" r="6.3" fill="#007ff7"/>
<circle cx="825.7" cy="837.2" r="6.3" fill="#d9008c"/>
<circle cx="937.9" cy="850.1" r="6.3" fill="#b703a1"/>
<circle cx="880.7" cy="845.0" r="6.3" fill="#ff0052"/>
<circle cx="1285.2" cy="844.9" r="6.3" fill="#0083f8"/>
<circle cx="1044.0" cy="850.8" r="6.3" fill="#5e5cdc"/>
<circle cx="969.3" cy="844.0" r="6.3" fill="#9a26af"/>
<circle cx="864.9" cy="850.3" r="6.3" fill="#c1009c"/>
<circle cx="1025.8" cy="838.6" r="6.3" fill="#6e53d5"/>
<circle cx="1222.4" cy="849.2" r="6.3" fill="#0079f3"/>
<circle cx="970.9" cy="843.3" r="6.3" fill="#942fb5"/>
<circle cx="976.3" cy="849.1" r="6.3" fill="#962db3"/>
<circle cx="877.5" cy="844.4" r="6.3" fill="#ff0055"/>
<circle cx="854.0" cy="845.3" r="6.3" fill="#e50080"/>
<circle cx="836.5" cy="832.3" r="6.3" fill="#ff0058"/>
<circle cx="867.2" cy="853.4" r="6.3" fill="#bf009d"/>
<circle cx="822.6" cy="858.3" r="6.3" fill="#de0088"/>
<circle cx="823.4" cy="844.7" r="6.3" fill="#d4008f"/>
<circle cx="1046.0" cy="855.3" r="6.3" fill="#5b5dde"/>
<circle cx="1046.1" cy="843.7" r="6.3" fill="#5c5cdd"/>
<circle cx="1272.6" cy="843.9" r="6.3" fill="#0089fa"/>
<circle cx="820.1" cy="842.5" r="6.3" fill="#d4008f"/>
<circle cx="1208.2" cy="848.2" r="6.3" fill="#0083f8"/>
<circle cx="805.5" cy="839.6" r="6.3" fill="#c2009b"/>
<circle cx="960.2" cy="846.8" r="6.3" fill="#972cb3"/>
<circle cx="1033.7" cy="837.8" r="6.3" fill="#6f52d4"/>
<circle cx="903.2" cy="844.4" r="6.3" fill="#ff0054"/>
<circle cx="1054.7" cy="845.9" r="6.3" fill="#4166e5"/>
<circle cx="926.9" cy="845.4" r="6.3" fill="#b605a2"/>
<circle cx="840.9" cy="859.4" r="6.3" fill="#e40081"/>
<circle cx="1014.8" cy="851.7" r="6.3" fill="#8146c8"/>
<circle cx="1133.8" cy="842.7" r="6.3" fill="#0089fa"/>
<circle cx="894.1" cy="848.6" r="6.3" fill="#ff0057"/>
<circle cx="828.9" cy="835.3" r="6.3" fill="#d8008c"/>
<circle cx="856.2" cy="839.7" r="6.3" fill="#da008a"/>
<circle cx="1207.3" cy="842.7" r="6.3" fill="#0089fa"/>
<circle cx="853.9" cy="848.5" r="6.3" fill="#dc0089"/>
<circle cx="822.5" cy="838.7" r="6.3" fill="#ed0077"/>
<circle cx="1243.5" cy="846.0" r="6.3" fill="#008afb"/>
<circle cx="1213.2" cy="848.3" r="6.3" fill="#008afb"/>
<circle cx="1169.1" cy="841.4" r="6.3" fill="#0089fa"/>
<circle cx="1039.4" cy="844.1" r="6.3" fill="#8d39bd"/>
<circle cx="809.4" cy="839.3" r="6.3" fill="#c2009b"/>
<circle cx="924.5" cy="841.3" r="6.3" fill="#ac14a6"/>
<circle cx="815.5" cy="833.5" r="6.3" fill="#de0088"/>
<circle cx="1036.9" cy="837.1" r="6.3" fill="#6757d8"/>
<circle cx="1217.2" cy="848.4" r="6.3" fill="#007bf4"/>
<circle cx="1049.0" cy="855.1" r="6.3" fill="#4764e4"/>
<circle cx="1285.8" cy="845.7" r="6.3" fill="#0086f9"/>
<circle cx="1280.1" cy="846.3" r="6.3" fill="#0087fa"/>
<circle cx="841.0" cy="834.2" r="6.3" fill="#d6008e"/>
<circle cx="844.0" cy="845.2" r="6.3" fill="#e30082"/>
<circle cx="1059.3" cy="851.1" r="6.3" fill="#555fe0"/>
<circle cx="848.3" cy="847.7" r="6.3" fill="#e00086"/>
<circle cx="945.3" cy="841.4" r="6.3" fill="#bf009d"/>
<circle cx="834.0" cy="834.9" r="6.3" fill="#ee0077"/>
<circle cx="966.4" cy="842.9" r="6.3" fill="#9036ba"/>
<circle cx="1207.7" cy="845.4" r="6.3" fill="#0082f8"/>
<circle cx="1212.3" cy="845.4" r="6.3" fill="#008afb"/>
<circle cx="1236.0" cy="844.9" r="6.3" fill="#0088fa"/>
<circle cx="854.3" cy="858.0" r="6.3" fill="#b605a2"/>
<circle cx="890.2" cy="849.5" r="6.3" fill="#ff0051"/>
<circle cx="976.2" cy="840.2" r="6.3" fill="#9233b9"/>
<circle cx="875.8" cy="839.8" r="6.3" fill="#e30082"/>
<circle cx="926.5" cy="848.7" r="6.3" fill="#a61ba9"/>
<circle cx="873.3" cy="841.6" r="6.3" fill="#ff0059"/>
<circle cx="825.9" cy="862.1" r="6.3" fill="#d4008f"/>
<circle cx="1062.2" cy="840.5" r="6.3" fill="#6a56d7"/>
<circle cx="890.5" cy="846.3" r="6.3" fill="#ff0051"/>
<circle cx="793.8" cy="843.1" r="6.3" fill="#e30082"/>
<circle cx="939.5" cy="844.3" r="6.3" fill="#c3009b"/>
<circle cx="951.0" cy="849.3" r="6.3" fill="#cd0094"/>
<circle cx="887.6" cy="849.8" r="6.3" fill="#ff0051"/>
<circle cx="835.3" cy="828.2" r="6.3" fill="#fb0063"/>
<circle cx="802.0" cy="841.0" r="6.3" fill="#da008b"/>
<circle cx="1018.8" cy="851.8" r="6.3" fill="#8a3dc0"/>
<circle cx="950.1" cy="841.5" r="6.3" fill="#af11a5"/>
<circle cx="852.3" cy="855.8" r="6.3" fill="#c2009b"/>
<circle cx="856.5" cy="854.6" r="6.3" fill="#e10085"/>
<circle cx="1036.8" cy="851.5" r="6.3" fill="#962db4"/>
<circle cx="1064.4" cy="849.3" r="6.3" fill="#4066e6"/>
<circle cx="986.4" cy="850.3" r="6.3" fill="#9134b9"/>
<circle cx="905.8" cy="846.6" r="6.3" fill="#ff0051"/>
<circle cx="885.7" cy="846.5" r="6.3" fill="#ff0051"/>
<circle cx="970.8" cy="841.3" r="6.3" fill="#8e38bc"/>
<circle cx="1293.9" cy="845.2" r="6.3" fill="#0089fa"/>
<circle cx="864.3" cy="842.1" r="6.3" fill="#e40082"/>
<circle cx="828.6" cy="827.6" r="6.3" fill="#ed0077"/>
<circle cx="914.8" cy="842.0" r="6.3" fill="#b901a0"/>
<circle cx="1231.0" cy="840.8" r="6.3" fill="#0087fa"/>
<circle cx="947.7" cy="844.3" r="6.3" fill="#c3009b"/>
<circle cx="950.3" cy="844.1" r="6.3" fill="#ae13a6"/>
<circle cx="1264.1" cy="842.9" r="6.3" fill="#0086fa"/>
<circle cx="841.7" cy="837.5" r="6.3" fill="#d5008f"/>
<circle cx="1044.0" cy="838.0" r="6.3" fill="#5c5cdd"/>
<circle cx="1277.2" cy="847.1" r="6.3" fill="#0085f9"/>
<circle cx="1181.3" cy="847.4" r="6.3" fill="#007ff6"/>
<circle cx="844.3" cy="848.2" r="6.3" fill="#de0088"/>
<circle cx="961.1" cy="840.6" r="6.3" fill="#9233b8"/>
<circle cx="1277.7" cy="844.0" r="6.3" fill="#0087fa"/>
<circle cx="823.3" cy="851.8" r="6.3" fill="#e50081"/>
<circle cx="812.2" cy="836.4" r="6.3" fill="#c3009b"/>
<circle cx="946.0" cy="850.0" r="6.3" fill="#cf0093"/>
<circle cx="1033.8" cy="845.1" r="6.3" fill="#8c3bbf"/>
<circle cx="861.5" cy="850.7" r="6.3" fill="#ff0057"/>
<circle cx="927.6" cy="841.2" r="6.3" fill="#a819a8"/>
<circle cx="827.7" cy="852.1" r="6.3" fill="#d5008f"/>
<circle cx="991.6" cy="844.0" r="6.3" fill="#8e37bc"/>
<circle cx="905.7" cy="840.9" r="6.3" fill="#ff0051"/>
<circle cx="809.7" cy="854.0" r="6.3" fill="#fc0061"/>
<circle cx="1013.2" cy="842.1" r="6.3" fill="#8542c5"/>
<circle cx="1215.9" cy="842.5" r="6.3" fill="#0086fa"/>
<circle cx="1259.9" cy="848.2" r="6.3" fill="#0087fa"/>
<circle cx="1051.7" cy="839.9" r="6.3" fill="#575edf"/>
<circle cx="1191.9" cy="847.8" r="6.3" fill="#0080f7"/>
<circle cx="963.5" cy="846.9" r="6.3" fill="#952db4"/>
<circle cx="1180.9" cy="842.3" r="6.3" fill="#0080f7"/>
<circle cx="1039.4" cy="837.7" r="6.3" fill="#6956d7"/>
<circle cx="997.9" cy="840.3" r="6.3" fill="#9c22ac"/>
<circle cx="997.5" cy="849.4" r="6.3" fill="#a31daa"/>
<circle cx="1260.1" cy="843.1" r="6.3" fill="#0084f9"/>
<circle cx="906.5" cy="849.7" r="6.3" fill="#ff0054"/>
<circle cx="1123.5" cy="845.8" r="6.3" fill="#0080f7"/>
<circle cx="1044.2" cy="834.5" r="6.3" fill="#6d54d5"/>
<circle cx="1152.1" cy="849.6" r="6.3" fill="#007df5"/>
<circle cx="849.1" cy="842.0" r="6.3" fill="#ff0055"/>
<circle cx="981.0" cy="844.3" r="6.3" fill="#8344c7"/>
<circle cx="804.9" cy="846.2" r="6.3" fill="#fb0062"/>
<circle cx="935.1" cy="841.1" r="6.3" fill="#c4009a"/>
<circle cx="990.3" cy="842.9" r="6.3" fill="#9f20ab"/>
<circle cx="947.4" cy="841.2" r="6.3" fill="#b010a5"/>
<circle cx="962.9" cy="843.2" r="6.3" fill="#942fb5"/>
<circle cx="812.7" cy="852.4" r="6.3" fill="#fd005e"/>
<circle cx="1124.0" cy="844.2" r="6.3" fill="#0083f8"/>
<circle cx="1176.8" cy="848.9" r="6.3" fill="#0080f7"/>
<circle cx="821.0" cy="850.2" r="6.3" fill="#e40082"/>
<circle cx="1215.6" cy="844.8" r="6.3" fill="#007df6"/>
<circle cx="1061.6" cy="847.5" r="6.3" fill="#4665e4"/>
<circle cx="821.3" cy="840.1" r="6.3" fill="#d6008e"/>
<circle cx="995.3" cy="849.7" r="6.3" fill="#8f37bb"/>
<circle cx="1013.2" cy="851.3" r="6.3" fill="#7b4bcd"/>
<circle cx="905.8" cy="843.6" r="6.3" fill="#ff0051"/>
<circle cx="948.0" cy="847.3" r="6.3" fill="#c60099"/>
<circle cx="836.4" cy="843.9" r="6.3" fill="#d20091"/>
<circle cx="846.9" cy="837.3" r="6.3" fill="#ff0056"/>
<circle cx="835.5" cy="836.3" r="6.3" fill="#d7008d"/>
<circle cx="1022.8" cy="838.7" r="6.3" fill="#9233b8"/>
<circle cx="843.7" cy="829.3" r="6.3" fill="#ff0052"/>
<circle cx="877.1" cy="841.1" r="6.3" fill="#da008b"/>
<circle cx="1121.2" cy="845.2" r="6.3" fill="#007df6"/>
<circle cx="957.7" cy="843.9" r="6.3" fill="#b20ca4"/>
<circle cx="1054.2" cy="836.7" r="6.3" fill="#007cf5"/>
<circle cx="1157.7" cy="841.1" r="6.3" fill="#007ef6"/>
<circle cx="1001.9" cy="848.9" r="6.3" fill="#7c4acc"/>
<circle cx="823.0" cy="855.8" r="6.3" fill="#df0087"/>
<circle cx="1239.2" cy="845.7" r="6.3" fill="#0089fa"/>
<circle cx="814.8" cy="837.1" r="6.3" fill="#d30090"/>
<circle cx="1044.2" cy="844.2" r="6.3" fill="#6857d8"/>
<circle cx="794.1" cy="847.7" r="6.3" fill="#e50080"/>
<circle cx="1039.5" cy="848.4" r="6.3" fill="#605bdc"/>
<circle cx="1065.5" cy="842.2" r="6.3" fill="#605bdc"/>
<circle cx="875.4" cy="843.3" r="6.3" fill="#ff0051"/>
<circle cx="852.0" cy="831.7" r="6.3" fill="#e40081"/>
<circle cx="1062.7" cy="844.4" r="6.3" fill="#3e67e6"/>
<circle cx="908.6" cy="841.5" r="6.3" fill="#ff0052"/>
<circle cx="1140.0" cy="847.9" r="6.3" fill="#0088fa"/>
<circle cx="892.6" cy="841.8" r="6.3" fill="#ff0051"/>
<circle cx="807.4" cy="841.5" r="6.3" fill="#fc0061"/>
<circle cx="838.7" cy="846.2" r="6.3" fill="#ec0079"/>
<circle cx="841.9" cy="856.6" r="6.3" fill="#fc0060"/>
<circle cx="807.8" cy="837.3" r="6.3" fill="#b901a0"/>
<circle cx="1251.4" cy="845.7" r="6.3" fill="#0083f8"/>
<circle cx="1000.3" cy="849.6" r="6.3" fill="#9a25ae"/>
<circle cx="828.3" cy="862.9" r="6.3" fill="#ed0077"/>
<circle cx="1144.7" cy="840.2" r="6.3" fill="#0089fa"/>
<circle cx="1218.2" cy="844.4" r="6.3" fill="#0081f7"/>
<circle cx="1283.5" cy="843.4" r="6.3" fill="#0089fa"/>
<circle cx="930.3" cy="840.8" r="6.3" fill="#c80098"/>
<circle cx="1059.2" cy="847.6" r="6.3" fill="#4964e4"/>
<circle cx="1065.0" cy="845.1" r="6.3" fill="#595ede"/>
<circle cx="843.7" cy="859.8" r="6.3" fill="#ba00a0"/>
<circle cx="1067.6" cy="843.2" r="6.3" fill="#595ede"/>
<circle cx="986.8" cy="843.6" r="6.3" fill="#9134b9"/>
<circle cx="911.3" cy="841.8" r="6.3" fill="#ff0056"/>
<circle cx="1023.8" cy="843.0" r="6.3" fill="#9332b7"/>
<circle cx="1261.4" cy="842.5" r="6.3" fill="#0085f9"/>
<circle cx="1044.2" cy="855.6" r="6.3" fill="#0076f1"/>
<circle cx="841.8" cy="853.1" r="6.3" fill="#ea007b"/>
<circle cx="948.1" cy="849.5" r="6.3" fill="#c60099"/>
<circle cx="822.9" cy="831.0" r="6.3" fill="#e6007f"/>
<circle cx="1033.5" cy="848.2" r="6.3" fill="#8d39bd"/>
<circle cx="955.3" cy="840.9" r="6.3" fill="#ba00a0"/>
<circle cx="845.7" cy="840.6" r="6.3" fill="#e40081"/>
<circle cx="911.4" cy="848.9" r="6.3" fill="#ff0054"/>
<circle cx="851.3" cy="848.0" r="6.3" fill="#da008b"/>
<circle cx="799.8" cy="844.6" r="6.3" fill="#fc0062"/>
<circle cx="862.8" cy="837.4" r="6.3" fill="#e00086"/>
<circle cx="866.9" cy="848.6" r="6.3" fill="#be009e"/>
<circle cx="932.4" cy="845.2" r="6.3" fill="#a918a8"/>
<circle cx="992.6" cy="850.0" r="6.3" fill="#8740c3"/>
<circle cx="822.8" cy="828.2" r="6.3" fill="#ee0077"/>
<circle cx="1298.0" cy="845.2" r="6.3" fill="#0079f3"/>
<circle cx="1202.8" cy="841.8" r="6.3" fill="#0080f7"/>
<circle cx="874.7" cy="851.3" r="6.3" fill="#c60099"/>
<circle cx="1022.9" cy="836.2" r="6.3" fill="#952eb5"/>
<circle cx="1209.3" cy="847.5" r="6.3" fill="#0089fa"/>
<circle cx="1249.7" cy="848.2" r="6.3" fill="#008bfb"/>
<circle cx="1023.4" cy="852.8" r="6.3" fill="#9134b9"/>
<circle cx="1137.0" cy="842.2" r="6.3" fill="#0087fa"/>
<circle cx="1199.1" cy="848.1" r="6.3" fill="#007cf5"/>
<circle cx="1215.5" cy="848.7" r="6.3" fill="#007cf5"/>
<circle cx="960.5" cy="849.0" r="6.3" fill="#9133b9"/>
<circle cx="900.5" cy="850.5" r="6.3" fill="#ff0051"/>
<circle cx="1031.3" cy="838.4" r="6.3" fill="#7151d3"/>
<circle cx="904.4" cy="846.9" r="6.3" fill="#ff0051"/>
<circle cx="833.2" cy="858.4" r="6.3" fill="#e7007e"/>
<circle cx="1144.6" cy="844.4" r="6.3" fill="#0083f8"/>
<circle cx="799.2" cy="849.2" r="6.3" fill="#b30ba3"/>
<circle cx="838.4" cy="829.1" r="6.3" fill="#e6007f"/>
<circle cx="1036.1" cy="855.3" r="6.3" fill="#8046c9"/>
<circle cx="1031.7" cy="841.8" r="6.3" fill="#9233b8"/>
<circle cx="924.7" cy="846.0" r="6.3" fill="#bc009f"/>
<circle cx="1150.5" cy="846.6" r="6.3" fill="#0087fa"/>
<circle cx="825.4" cy="848.4" r="6.3" fill="#e6007f"/>
<circle cx="1252.2" cy="847.3" r="6.3" fill="#0086fa"/>
<circle cx="871.9" cy="838.7" r="6.3" fill="#de0088"/>
<circle cx="974.2" cy="844.5" r="6.3" fill="#8c3abe"/>
<circle cx="1175.8" cy="840.9" r="6.3" fill="#0079f3"/>
<circle cx="1220.9" cy="848.6" r="6.3" fill="#007cf5"/>
<circle cx="1288.7" cy="846.0" r="6.3" fill="#0086fa"/>
<circle cx="1184.6" cy="847.0" r="6.3" fill="#0081f7"/>
<circle cx="1055.1" cy="852.8" r="6.3" fill="#6757d9"/>
<circle cx="1233.3" cy="841.7" r="6.3" fill="#0082f8"/>
<circle cx="1119.0" cy="845.2" r="6.3" fill="#007bf4"/>
<circle cx="823.5" cy="834.1" r="6.3" fill="#df0086"/>
<circle cx="962.7" cy="840.8" r="6.3" fill="#8344c7"/>
<circle cx="910.8" cy="845.0" r="6.3" fill="#ff0056"/>
<circle cx="830.5" cy="858.1" r="6.3" fill="#e6007f"/>
<circle cx="965.4" cy="841.3" r="6.3" fill="#8244c7"/>
<circle cx="961.3" cy="843.3" r="6.3" fill="#9035ba"/>
<circle cx="1047.3" cy="846.3" r="6.3" fill="#5a5dde"/>
<circle cx="1245.8" cy="841.5" r="6.3" fill="#0088fa"/>
<circle cx="1160.4" cy="844.6" r="6.3" fill="#0083f8"/>
<circle cx="859.0" cy="835.4" r="6.3" fill="#e00085"/>
<circle cx="895.9" cy="842.1" r="6.3" fill="#ff0051"/>
<circle cx="821.2" cy="857.9" r="6.3" fill="#e60080"/>
<circle cx="809.7" cy="842.5" r="6.3" fill="#ff005a"/>
<circle cx="1021.1" cy="853.5" r="6.3" fill="#6658d9"/>
<circle cx="852.4" cy="859.5" r="6.3" fill="#ff0056"/>
<circle cx="1199.5" cy="842.3" r="6.3" fill="#007af4"/>
<circle cx="841.3" cy="848.7" r="6.3" fill="#ed0078"/>
<circle cx="832.8" cy="832.5" r="6.3" fill="#ee0076"/>
<circle cx="1044.3" cy="842.3" r="6.3" fill="#605bdc"/>
<circle cx="1241.6" cy="848.5" r="6.3" fill="#0084f9"/>
<circle cx="797.9" cy="842.0" r="6.3" fill="#fd005f"/>
<circle cx="944.9" cy="843.7" r="6.3" fill="#a41caa"/>
<circle cx="1274.9" cy="846.9" r="6.3" fill="#0083f8"/>
<circle cx="1068.3" cy="847.8" r="6.3" fill="#4b63e3"/>
<circle cx="859.5" cy="845.9" r="6.3" fill="#e40081"/>
<circle cx="1060.0" cy="840.4" r="6.3" fill="#6b55d7"/>
<circle cx="1173.7" cy="848.2" r="6.3" fill="#007af4"/>
<circle cx="1036.3" cy="844.9" r="6.3" fill="#8f37bb"/>
<circle cx="1210.4" cy="844.4" r="6.3" fill="#0088fa"/>
<circle cx="936.8" cy="840.8" r="6.3" fill="#c5009a"/>
<circle cx="856.8" cy="846.8" r="6.3" fill="#dc0089"/>
<circle cx="896.2" cy="849.9" r="6.3" fill="#ff0051"/>
<circle cx="862.4" cy="854.0" r="6.3" fill="#ff005a"/>
<circle cx="1027.9" cy="850.1" r="6.3" fill="#8b3cc0"/>
<circle cx="846.9" cy="830.5" r="6.3" fill="#d9008b"/>
<circle cx="809.4" cy="846.4" r="6.3" fill="#fe005e"/>
<circle cx="1038.6" cy="841.6" r="6.3" fill="#6d54d5"/>
<circle cx="822.5" cy="842.0" r="6.3" fill="#ed0077"/>
<circle cx="841.6" cy="830.2" r="6.3" fill="#e9007c"/>
<circle cx="922.6" cy="841.6" r="6.3" fill="#a61ba9"/>
<circle cx="830.4" cy="827.6" r="6.3" fill="#fc0061"/>
<circle cx="837.9" cy="849.8" r="6.3" fill="#d5008f"/>
<circle cx="1162.5" cy="848.4" r="6.3" fill="#008afb"/>
<circle cx="1156.0" cy="849.1" r="6.3" fill="#0079f3"/>
<circle cx="1015.3" cy="848.1" r="6.3" fill="#6359da"/>
<circle cx="885.1" cy="849.5" r="6.3" fill="#ff0058"/>
<circle cx="1029.0" cy="835.6" r="6.3" fill="#8b3bbf"/>
<circle cx="835.4" cy="854.3" r="6.3" fill="#e60080"/>
<circle cx="853.7" cy="841.5" r="6.3" fill="#d9008b"/>
<circle cx="869.6" cy="842.6" r="6.3" fill="#c1009c"/>
<circle cx="1018.6" cy="837.6" r="6.3" fill="#6d54d5"/>
<circle cx="1041.3" cy="855.6" r="6.3" fill="#6359da"/>
<circle cx="818.4" cy="856.6" r="6.3" fill="#b703a1"/>
<circle cx="891.2" cy="843.0" r="6.3" fill="#ff0051"/>
<circle cx="1154.9" cy="840.1" r="6.3" fill="#007cf5"/>
<circle cx="1251.1" cy="842.6" r="6.3" fill="#0084f9"/>
<circle cx="860.2" cy="839.7" r="6.3" fill="#e20083"/>
<circle cx="830.8" cy="855.9" r="6.3" fill="#e7007f"/>
<circle cx="952.8" cy="842.9" r="6.3" fill="#bf009d"/>
<circle cx="1256.6" cy="842.3" r="6.3" fill="#0089fa"/>
<circle cx="943.4" cy="840.2" r="6.3" fill="#aa17a7"/>
<circle cx="827.6" cy="844.5" r="6.3" fill="#de0088"/>
<circle cx="883.3" cy="842.5" r="6.3" fill="#ff0053"/>
<circle cx="807.5" cy="845.0" r="6.3" fill="#ff0056"/>
<circle cx="953.1" cy="850.3" r="6.3" fill="#bf009d"/>
<circle cx="1178.8" cy="841.3" r="6.3" fill="#007ff6"/>
<circle cx="957.5" cy="849.9" r="6.3" fill="#bf009d"/>
<circle cx="944.6" cy="846.2" r="6.3" fill="#c4009a"/>
<circle cx="903.6" cy="850.2" r="6.3" fill="#ff0056"/>
<circle cx="841.7" cy="845.4" r="6.3" fill="#dc0089"/>
<circle cx="883.5" cy="897.4" r="6.3" fill="#ff0053"/>
<circle cx="932.4" cy="894.5" r="6.3" fill="#ff0051"/>
<circle cx="966.8" cy="900.6" r="6.3" fill="#ac15a7"/>
<circle cx="989.5" cy="890.9" r="6.3" fill="#972ab2"/>
<circle cx="945.5" cy="894.7" r="6.3" fill="#c4009a"/>
<circle cx="1000.4" cy="890.3" r="6.3" fill="#ff0056"/>
<circle cx="927.9" cy="896.5" r="6.3" fill="#ed0078"/>
<circle cx="1072.0" cy="888.5" r="6.3" fill="#0077f2"/>
<circle cx="1041.6" cy="901.6" r="6.3" fill="#0079f3"/>
<circle cx="972.0" cy="888.0" r="6.3" fill="#a71aa9"/>
<circle cx="992.2" cy="891.1" r="6.3" fill="#9b24ad"/>
<circle cx="944.8" cy="891.0" r="6.3" fill="#ff0052"/>
<circle cx="978.8" cy="899.8" r="6.3" fill="#a71aa8"/>
<circle cx="986.7" cy="896.2" r="6.3" fill="#ff0051"/>
<circle cx="1083.4" cy="896.5" r="6.3" fill="#6558d9"/>
<circle cx="1088.0" cy="897.1" r="6.3" fill="#6e53d5"/>
<circle cx="986.4" cy="903.6" r="6.3" fill="#ff0056"/>
<circle cx="1041.5" cy="904.8" r="6.3" fill="#007bf4"/>
<circle cx="978.6" cy="903.9" r="6.3" fill="#b20da4"/>
<circle cx="1062.1" cy="885.9" r="6.3" fill="#565fe0"/>
<circle cx="1052.1" cy="881.7" r="6.3" fill="#0083f8"/>
<circle cx="994.5" cy="891.2" r="6.3" fill="#ff0056"/>
<circle cx="1066.8" cy="901.0" r="6.3" fill="#575fdf"/>
<circle cx="996.6" cy="900.5" r="6.3" fill="#ff0051"/>
<circle cx="916.5" cy="887.4" r="6.3" fill="#ff0056"/>
<circle cx="911.7" cy="892.7" r="6.3" fill="#ff0055"/>
<circle cx="1090.2" cy="903.0" r="6.3" fill="#0075f1"/>
<circle cx="927.4" cy="878.9" r="6.3" fill="#df0087"/>
<circle cx="941.9" cy="912.4" r="6.3" fill="#df0087"/>
<circle cx="1094.2" cy="896.5" r="6.3" fill="#784ccf"/>
<circle cx="1085.2" cy="898.3" r="6.3" fill="#7350d2"/>
<circle cx="893.3" cy="897.2" r="6.3" fill="#ff0056"/>
<circle cx="900.8" cy="895.2" r="6.3" fill="#ff0051"/>
<circle cx="943.0" cy="894.8" r="6.3" fill="#ff0053"/>
<circle cx="897.9" cy="896.1" r="6.3" fill="#ff0051"/>
<circle cx="1047.1" cy="884.6" r="6.3" fill="#306ae9"/>
<circle cx="992.7" cy="906.2" r="6.3" fill="#ff0051"/>
<circle cx="1002.5" cy="902.0" r="6.3" fill="#ff0051"/>
<circle cx="996.9" cy="904.7" r="6.3" fill="#ff0053"/>
<circle cx="1026.5" cy="896.4" r="6.3" fill="#ff0051"/>
<circle cx="1095.4" cy="894.5" r="6.3" fill="#7052d4"/>
<circle cx="934.1" cy="905.8" r="6.3" fill="#bc009f"/>
<circle cx="929.5" cy="880.0" r="6.3" fill="#ea007b"/>
<circle cx="1044.4" cy="892.0" r="6.3" fill="#0078f3"/>
<circle cx="950.4" cy="896.3" r="6.3" fill="#e8007d"/>
<circle cx="1074.9" cy="898.2" r="6.3" fill="#625adb"/>
<circle cx="1078.6" cy="884.7" r="6.3" fill="#007bf4"/>
<circle cx="984.7" cy="908.3" r="6.3" fill="#9829b1"/>
<circle cx="947.9" cy="894.2" r="6.3" fill="#ff0055"/>
<circle cx="1049.2" cy="883.2" r="6.3" fill="#007ef6"/>
<circle cx="1054.9" cy="902.6" r="6.3" fill="#0075f0"/>
<circle cx="937.8" cy="901.6" r="6.3" fill="#bd009e"/>
<circle cx="958.8" cy="901.7" r="6.3" fill="#a51ba9"/>
<circle cx="908.2" cy="894.1" r="6.3" fill="#ff0051"/>
<circle cx="926.5" cy="890.4" r="6.3" fill="#ec0079"/>
<circle cx="964.2" cy="889.2" r="6.3" fill="#9926af"/>
<circle cx="1007.8" cy="899.2" r="6.3" fill="#ff0051"/>
<circle cx="1057.3" cy="895.1" r="6.3" fill="#0088fa"/>
<circle cx="921.2" cy="890.3" r="6.3" fill="#ee0076"/>
<circle cx="1028.9" cy="898.6" r="6.3" fill="#0081f8"/>
<circle cx="935.3" cy="901.7" r="6.3" fill="#c5009a"/>
<circle cx="940.4" cy="895.2" r="6.3" fill="#c1009c"/>
<circle cx="1054.8" cy="883.3" r="6.3" fill="#0086f9"/>
<circle cx="1077.6" cy="902.6" r="6.3" fill="#6359da"/>
<circle cx="1051.7" cy="909.0" r="6.3" fill="#007cf5"/>
<circle cx="1056.5" cy="906.7" r="6.3" fill="#0078f2"/>
<circle cx="1044.4" cy="906.7" r="6.3" fill="#316ae8"/>
<circle cx="937.4" cy="891.8" r="6.3" fill="#bf009d"/>
<circle cx="931.7" cy="910.4" r="6.3" fill="#dd0088"/>
<circle cx="988.7" cy="904.1" r="6.3" fill="#ff0051"/>
<circle cx="966.5" cy="896.3" r="6.3" fill="#a41caa"/>
<circle cx="1032.9" cy="901.2" r="6.3" fill="#0082f8"/>
<circle cx="968.4" cy="902.1" r="6.3" fill="#aa17a7"/>
<circle cx="942.9" cy="909.5" r="6.3" fill="#e50080"/>
<circle cx="1000.4" cy="896.4" r="6.3" fill="#ff0051"/>
<circle cx="917.2" cy="898.6" r="6.3" fill="#ff0056"/>
<circle cx="942.3" cy="885.0" r="6.3" fill="#c60099"/>
<circle cx="916.1" cy="895.1" r="6.3" fill="#ff0054"/>
<circle cx="978.8" cy="885.7" r="6.3" fill="#b010a5"/>
<circle cx="934.5" cy="891.7" r="6.3" fill="#ff0056"/>
<circle cx="898.5" cy="897.9" r="6.3" fill="#ff0051"/>
<circle cx="943.2" cy="901.8" r="6.3" fill="#ee0076"/>
<circle cx="966.1" cy="892.8" r="6.3" fill="#a31daa"/>
<circle cx="958.5" cy="891.9" r="6.3" fill="#972bb2"/>
<circle cx="947.4" cy="901.5" r="6.3" fill="#ec0078"/>
<circle cx="887.7" cy="897.4" r="6.3" fill="#ff0055"/>
<circle cx="1062.2" cy="893.8" r="6.3" fill="#4d62e2"/>
<circle cx="1076.1" cy="909.4" r="6.3" fill="#7251d2"/>
<circle cx="1057.7" cy="913.2" r="6.3" fill="#0086fa"/>
<circle cx="934.9" cy="883.4" r="6.3" fill="#e8007e"/>
<circle cx="925.0" cy="909.8" r="6.3" fill="#ec0079"/>
<circle cx="992.6" cy="888.1" r="6.3" fill="#a41ca9"/>
<circle cx="942.1" cy="881.7" r="6.3" fill="#bf009d"/>
<circle cx="929.2" cy="914.2" r="6.3" fill="#dc0089"/>
<circle cx="939.6" cy="884.0" r="6.3" fill="#c4009a"/>
<circle cx="942.7" cy="892.1" r="6.3" fill="#ff0055"/>
<circle cx="925.2" cy="895.1" r="6.3" fill="#ee0077"/>
<circle cx="999.5" cy="901.3" r="6.3" fill="#ff0058"/>
<circle cx="1020.1" cy="897.5" r="6.3" fill="#ff0051"/>
<circle cx="981.8" cy="893.0" r="6.3" fill="#aa16a7"/>
<circle cx="974.4" cy="894.2" r="6.3" fill="#b010a5"/>
<circle cx="994.6" cy="901.4" r="6.3" fill="#ff0051"/>
<circle cx="918.6" cy="886.1" r="6.3" fill="#d5008f"/>
<circle cx="947.7" cy="885.7" r="6.3" fill="#ff0051"/>
<circle cx="1089.0" cy="905.4" r="6.3" fill="#6857d8"/>
<circle cx="999.2" cy="893.0" r="6.3" fill="#ff0051"/>
<circle cx="1039.7" cy="891.3" r="6.3" fill="#0079f3"/>
<circle cx="1046.2" cy="888.1" r="6.3" fill="#4864e4"/>
<circle cx="935.0" cy="913.0" r="6.3" fill="#d30090"/>
<circle cx="919.3" cy="896.4" r="6.3" fill="#ed0078"/>
<circle cx="944.8" cy="909.9" r="6.3" fill="#c50099"/>
<circle cx="934.6" cy="910.3" r="6.3" fill="#d30090"/>
<circle cx="948.0" cy="908.7" r="6.3" fill="#ed0077"/>
<circle cx="947.4" cy="897.2" r="6.3" fill="#ec0079"/>
<circle cx="923.8" cy="891.7" r="6.3" fill="#e6007f"/>
<circle cx="1093.9" cy="900.4" r="6.3" fill="#585edf"/>
<circle cx="1034.1" cy="898.1" r="6.3" fill="#0088fa"/>
<circle cx="1061.5" cy="890.2" r="6.3" fill="#605adb"/>
<circle cx="962.9" cy="892.8" r="6.3" fill="#a31daa"/>
<circle cx="940.6" cy="899.2" r="6.3" fill="#ff0056"/>
<circle cx="940.6" cy="886.9" r="6.3" fill="#ff0054"/>
<circle cx="958.6" cy="895.2" r="6.3" fill="#ad14a6"/>
<circle cx="1056.7" cy="902.5" r="6.3" fill="#0078f3"/>
<circle cx="971.9" cy="894.9" r="6.3" fill="#9a25ae"/>
<circle cx="1059.2" cy="888.9" r="6.3" fill="#0086f9"/>
<circle cx="976.1" cy="890.1" r="6.3" fill="#a51ba9"/>
<circle cx="930.0" cy="905.4" r="6.3" fill="#e50080"/>
<circle cx="1039.3" cy="898.9" r="6.3" fill="#0082f8"/>
<circle cx="987.3" cy="893.3" r="6.3" fill="#9a25ae"/>
<circle cx="934.7" cy="886.9" r="6.3" fill="#bc009f"/>
<circle cx="960.9" cy="891.1" r="6.3" fill="#a31daa"/>
<circle cx="896.7" cy="896.5" r="6.3" fill="#ff0054"/>
<circle cx="1062.0" cy="883.1" r="6.3" fill="#5061e2"/>
<circle cx="942.2" cy="887.9" r="6.3" fill="#c3009b"/>
<circle cx="913.4" cy="890.7" r="6.3" fill="#ff0053"/>
<circle cx="991.4" cy="902.2" r="6.3" fill="#ff0055"/>
<circle cx="981.7" cy="906.6" r="6.3" fill="#af11a5"/>
<circle cx="1056.4" cy="883.9" r="6.3" fill="#0083f8"/>
<circle cx="1049.0" cy="890.6" r="6.3" fill="#0089fa"/>
<circle cx="997.5" cy="893.4" r="6.3" fill="#ff0052"/>
<circle cx="921.6" cy="903.9" r="6.3" fill="#e7007f"/>
<circle cx="1080.1" cy="885.1" r="6.3" fill="#0075f1"/>
<circle cx="1078.2" cy="909.9" r="6.3" fill="#007bf5"/>
<circle cx="1067.1" cy="896.9" r="6.3" fill="#5061e1"/>
<circle cx="1046.1" cy="901.8" r="6.3" fill="#4465e5"/>
<circle cx="924.0" cy="904.9" r="6.3" fill="#ed0077"/>
<circle cx="981.8" cy="896.2" r="6.3" fill="#a31daa"/>
<circle cx="981.4" cy="904.5" r="6.3" fill="#b10ea4"/>
<circle cx="1067.5" cy="908.0" r="6.3" fill="#6359da"/>
<circle cx="1086.4" cy="895.6" r="6.3" fill="#6d54d5"/>
<circle cx="1039.3" cy="895.7" r="6.3" fill="#007af4"/>
<circle cx="1044.8" cy="887.4" r="6.3" fill="#316ae8"/>
<circle cx="1080.8" cy="892.2" r="6.3" fill="#0075f1"/>
<circle cx="988.9" cy="896.1" r="6.3" fill="#ff0051"/>
<circle cx="984.0" cy="888.9" r="6.3" fill="#ab16a7"/>
<circle cx="1051.2" cy="884.2" r="6.3" fill="#0075f1"/>
<circle cx="950.5" cy="905.7" r="6.3" fill="#e6007f"/>
<circle cx="932.4" cy="884.0" r="6.3" fill="#eb007a"/>
<circle cx="1072.5" cy="903.0" r="6.3" fill="#774dcf"/>
<circle cx="960.2" cy="898.4" r="6.3" fill="#b00fa5"/>
<circle cx="927.6" cy="892.7" r="6.3" fill="#c4009a"/>
<circle cx="904.2" cy="898.0" r="6.3" fill="#ff0054"/>
<circle cx="953.8" cy="904.6" r="6.3" fill="#da008b"/>
<circle cx="1046.9" cy="892.1" r="6.3" fill="#3968e7"/>
<circle cx="1070.8" cy="897.7" r="6.3" fill="#4b63e3"/>
<circle cx="1073.0" cy="910.0" r="6.3" fill="#6a55d7"/>
<circle cx="979.6" cy="907.3" r="6.3" fill="#b30aa3"/>
<circle cx="968.5" cy="892.2" r="6.3" fill="#972bb2"/>
<circle cx="1077.6" cy="887.6" r="6.3" fill="#0077f2"/>
<circle cx="1080.6" cy="901.6" r="6.3" fill="#7450d2"/>
<circle cx="990.0" cy="893.4" r="6.3" fill="#9927b0"/>
<circle cx="1051.6" cy="902.1" r="6.3" fill="#4864e4"/>
<circle cx="1059.0" cy="884.9" r="6.3" fill="#0086f9"/>
<circle cx="974.0" cy="887.1" r="6.3" fill="#a21eaa"/>
<circle cx="945.6" cy="905.7" r="6.3" fill="#ea007c"/>
<circle cx="917.0" cy="907.0" r="6.3" fill="#ff0053"/>
<circle cx="1060.5" cy="909.1" r="6.3" fill="#0088fa"/>
<circle cx="952.4" cy="891.3" r="6.3" fill="#bd009e"/>
<circle cx="966.3" cy="904.1" r="6.3" fill="#b30aa3"/>
<circle cx="1062.3" cy="904.6" r="6.3" fill="#6359da"/>
<circle cx="1060.4" cy="912.4" r="6.3" fill="#0088fa"/>
<circle cx="1080.6" cy="898.1" r="6.3" fill="#6657d9"/>
<circle cx="955.3" cy="899.3" r="6.3" fill="#a51ca9"/>
<circle cx="1065.4" cy="906.5" r="6.3" fill="#6558d9"/>
<circle cx="918.9" cy="905.4" r="6.3" fill="#e40082"/>
<circle cx="922.6" cy="900.5" r="6.3" fill="#ed0078"/>
<circle cx="927.2" cy="902.9" r="6.3" fill="#eb007a"/>
<circle cx="940.8" cy="913.2" r="6.3" fill="#e9007c"/>
<circle cx="1080.1" cy="894.6" r="6.3" fill="#0077f2"/>
<circle cx="1075.9" cy="891.6" r="6.3" fill="#0075f1"/>
<circle cx="1049.8" cy="897.5" r="6.3" fill="#007cf5"/>
<circle cx="977.0" cy="894.3" r="6.3" fill="#ad13a6"/>
<circle cx="1056.4" cy="879.9" r="6.3" fill="#0089fa"/>
<circle cx="971.3" cy="906.2" r="6.3" fill="#a41daa"/>
<circle cx="936.9" cy="905.4" r="6.3" fill="#eb007a"/>
<circle cx="1009.5" cy="897.5" r="6.3" fill="#ff0051"/>
<circle cx="911.3" cy="895.5" r="6.3" fill="#ff0051"/>
<circle cx="1036.2" cy="893.2" r="6.3" fill="#0082f8"/>
<circle cx="890.5" cy="897.3" r="6.3" fill="#ff0051"/>
<circle cx="917.1" cy="903.1" r="6.3" fill="#ff0051"/>
<circle cx="1048.5" cy="900.4" r="6.3" fill="#286bea"/>
<circle cx="1051.3" cy="898.4" r="6.3" fill="#007df5"/>
<circle cx="987.7" cy="900.0" r="6.3" fill="#ff0054"/>
<circle cx="1092.8" cy="893.3" r="6.3" fill="#6558d9"/>
<circle cx="922.4" cy="910.3" r="6.3" fill="#be009e"/>
<circle cx="1083.7" cy="892.6" r="6.3" fill="#774dcf"/>
<circle cx="930.4" cy="882.7" r="6.3" fill="#e7007e"/>
<circle cx="991.4" cy="899.3" r="6.3" fill="#ff0051"/>
<circle cx="906.8" cy="899.1" r="6.3" fill="#ff0051"/>
<circle cx="1067.0" cy="893.9" r="6.3" fill="#4f61e2"/>
<circle cx="994.8" cy="898.9" r="6.3" fill="#ff0051"/>
<circle cx="974.5" cy="902.7" r="6.3" fill="#a61aa9"/>
<circle cx="1014.9" cy="897.5" r="6.3" fill="#ff0056"/>
<circle cx="919.4" cy="890.4" r="6.3" fill="#e8007d"/>
<circle cx="1085.7" cy="902.6" r="6.3" fill="#007bf5"/>
<circle cx="965.8" cy="888.2" r="6.3" fill="#962db4"/>
<circle cx="968.8" cy="895.3" r="6.3" fill="#9e21ac"/>
<circle cx="1064.8" cy="891.1" r="6.3" fill="#6459da"/>
<circle cx="1075.7" cy="883.7" r="6.3" fill="#007af4"/>
<circle cx="1073.2" cy="906.0" r="6.3" fill="#7152d3"/>
<circle cx="1064.3" cy="894.6" r="6.3" fill="#5d5cdd"/>
<circle cx="1072.8" cy="891.6" r="6.3" fill="#007af4"/>
<circle cx="1044.9" cy="902.1" r="6.3" fill="#306ae9"/>
<circle cx="992.6" cy="895.5" r="6.3" fill="#ff0051"/>
<circle cx="1041.2" cy="889.9" r="6.3" fill="#3868e7"/>
<circle cx="925.1" cy="883.8" r="6.3" fill="#e8007d"/>
<circle cx="944.7" cy="884.1" r="6.3" fill="#b802a1"/>
<circle cx="945.6" cy="903.1" r="6.3" fill="#d40090"/>
<circle cx="1070.6" cy="889.1" r="6.3" fill="#744fd1"/>
<circle cx="944.9" cy="899.1" r="6.3" fill="#e9007d"/>
<circle cx="932.3" cy="913.6" r="6.3" fill="#de0087"/>
<circle cx="990.2" cy="907.6" r="6.3" fill="#ff0052"/>
<circle cx="1070.5" cy="900.6" r="6.3" fill="#625adb"/>
<circle cx="1060.3" cy="880.9" r="6.3" fill="#0081f7"/>
<circle cx="918.9" cy="900.6" r="6.3" fill="#ea007b"/>
<circle cx="1049.8" cy="893.2" r="6.3" fill="#0076f2"/>
<circle cx="1083.3" cy="889.5" r="6.3" fill="#007af4"/>
<circle cx="1030.5" cy="895.1" r="6.3" fill="#0085f9"/>
<circle cx="931.7" cy="891.2" r="6.3" fill="#c60099"/>
<circle cx="1085.0" cy="891.1" r="6.3" fill="#6459da"/>
<circle cx="1012.1" cy="897.5" r="6.3" fill="#ff0051"/>
<circle cx="1063.0" cy="900.3" r="6.3" fill="#5f5bdc"/>
<circle cx="1091.7" cy="896.1" r="6.3" fill="#5460e0"/>
<circle cx="1027.9" cy="895.5" r="6.3" fill="#007bf4"/>
<circle cx="1061.7" cy="896.8" r="6.3" fill="#5b5dde"/>
<circle cx="906.9" cy="894.1" r="6.3" fill="#ff0052"/>
<circle cx="942.9" cy="906.0" r="6.3" fill="#eb007a"/>
<circle cx="940.5" cy="902.7" r="6.3" fill="#c2009c"/>
<circle cx="1075.8" cy="887.9" r="6.3" fill="#007bf5"/>
<circle cx="930.4" cy="897.8" r="6.3" fill="#c60099"/>
<circle cx="969.0" cy="905.7" r="6.3" fill="#ad13a6"/>
<circle cx="940.2" cy="905.7" r="6.3" fill="#c60099"/>
<circle cx="1002.0" cy="899.5" r="6.3" fill="#ff0051"/>
<circle cx="1074.9" cy="906.0" r="6.3" fill="#784ccf"/>
<circle cx="1080.1" cy="905.4" r="6.3" fill="#7052d4"/>
<circle cx="1023.4" cy="897.5" r="6.3" fill="#ff0051"/>
<circle cx="884.9" cy="897.5" r="6.3" fill="#ff0056"/>
<circle cx="984.4" cy="904.3" r="6.3" fill="#b00fa4"/>
<circle cx="1005.1" cy="901.3" r="6.3" fill="#ff0054"/>
<circle cx="1051.9" cy="913.3" r="6.3" fill="#0077f2"/>
<circle cx="977.3" cy="903.0" r="6.3" fill="#a61ba9"/>
<circle cx="964.0" cy="903.9" r="6.3" fill="#ab15a7"/>
<circle cx="943.2" cy="898.7" r="6.3" fill="#be009e"/>
<circle cx="978.5" cy="889.5" r="6.3" fill="#b00fa5"/>
<circle cx="1051.5" cy="905.3" r="6.3" fill="#007af4"/>
<circle cx="935.0" cy="898.8" r="6.3" fill="#b802a1"/>
<circle cx="976.8" cy="905.8" r="6.3" fill="#9d22ac"/>
<circle cx="1078.6" cy="906.4" r="6.3" fill="#6e53d5"/>
<circle cx="938.0" cy="887.2" r="6.3" fill="#ff0052"/>
<circle cx="1043.3" cy="898.5" r="6.3" fill="#2a6bea"/>
<circle cx="1057.9" cy="891.4" r="6.3" fill="#0088fa"/>
<circle cx="1090.8" cy="899.2" r="6.3" fill="#6b55d6"/>
<circle cx="1062.4" cy="911.6" r="6.3" fill="#744fd1"/>
<circle cx="1087.9" cy="893.6" r="6.3" fill="#4e62e2"/>
<circle cx="940.8" cy="880.6" r="6.3" fill="#ed0077"/>
<circle cx="911.3" cy="902.0" r="6.3" fill="#ff0051"/>
<circle cx="963.0" cy="900.8" r="6.3" fill="#a21eaa"/>
<circle cx="1083.4" cy="905.4" r="6.3" fill="#007df5"/>
<circle cx="1052.3" cy="891.3" r="6.3" fill="#0085f9"/>
<circle cx="1041.2" cy="897.2" r="6.3" fill="#0078f3"/>
<circle cx="929.0" cy="890.4" r="6.3" fill="#e8007e"/>
<circle cx="1043.6" cy="894.7" r="6.3" fill="#4365e5"/>
<circle cx="933.0" cy="902.0" r="6.3" fill="#ff0053"/>
<circle cx="1059.7" cy="903.1" r="6.3" fill="#0074f0"/>
<circle cx="1077.4" cy="894.5" r="6.3" fill="#0078f3"/>
<circle cx="927.5" cy="906.9" r="6.3" fill="#be009e"/>
<circle cx="981.0" cy="889.8" r="6.3" fill="#b409a3"/>
<circle cx="973.5" cy="891.6" r="6.3" fill="#9927af"/>
<circle cx="1001.9" cy="896.2" r="6.3" fill="#ff0053"/>
<circle cx="921.8" cy="893.6" r="6.3" fill="#e7007e"/>
<circle cx="1049.6" cy="907.5" r="6.3" fill="#007bf5"/>
<circle cx="1074.5" cy="895.2" r="6.3" fill="#0076f2"/>
<circle cx="994.2" cy="887.9" r="6.3" fill="#972bb2"/>
<circle cx="950.8" cy="899.3" r="6.3" fill="#eb0079"/>
<circle cx="1083.5" cy="884.9" r="6.3" fill="#7052d4"/>
<circle cx="932.6" cy="898.0" r="6.3" fill="#bf009d"/>
<circle cx="924.8" cy="912.2" r="6.3" fill="#bc009f"/>
<circle cx="1054.0" cy="914.3" r="6.3" fill="#0088fa"/>
<circle cx="936.8" cy="883.9" r="6.3" fill="#bb009f"/>
<circle cx="971.8" cy="891.0" r="6.3" fill="#a71aa8"/>
<circle cx="1054.5" cy="887.2" r="6.3" fill="#0088fa"/>
<circle cx="1067.6" cy="887.0" r="6.3" fill="#6558da"/>
<circle cx="1038.8" cy="902.6" r="6.3" fill="#007bf4"/>
<circle cx="922.5" cy="886.4" r="6.3" fill="#ed0077"/>
<circle cx="1048.8" cy="904.7" r="6.3" fill="#1a6deb"/>
<circle cx="1025.7" cy="898.4" r="6.3" fill="#ff0051"/>
<circle cx="1003.2" cy="891.4" r="6.3" fill="#ff0051"/>
<circle cx="987.4" cy="907.4" r="6.3" fill="#ff0055"/>
<circle cx="921.6" cy="884.0" r="6.3" fill="#ea007b"/>
<circle cx="978.5" cy="896.2" r="6.3" fill="#af10a5"/>
<circle cx="895.9" cy="898.5" r="6.3" fill="#ff0051"/>
<circle cx="976.1" cy="898.0" r="6.3" fill="#b30ba3"/>
<circle cx="932.2" cy="886.5" r="6.3" fill="#b801a1"/>
<circle cx="1059.2" cy="906.3" r="6.3" fill="#0083f8"/>
<circle cx="929.6" cy="909.5" r="6.3" fill="#ee0077"/>
<circle cx="1078.2" cy="898.5" r="6.3" fill="#007cf5"/>
<circle cx="984.0" cy="892.5" r="6.3" fill="#9e21ac"/>
<circle cx="1082.7" cy="901.2" r="6.3" fill="#0077f2"/>
<circle cx="939.9" cy="890.6" r="6.3" fill="#ff0051"/>
<circle cx="914.5" cy="893.0" r="6.3" fill="#ff0054"/>
<circle cx="1033.9" cy="894.5" r="6.3" fill="#0088fa"/>
<circle cx="1065.5" cy="884.8" r="6.3" fill="#7052d4"/>
<circle cx="938.2" cy="894.7" r="6.3" fill="#ff0051"/>
<circle cx="953.7" cy="897.8" r="6.3" fill="#ec0079"/>
<circle cx="1041.6" cy="892.6" r="6.3" fill="#4864e4"/>
<circle cx="994.1" cy="894.7" r="6.3" fill="#ff0057"/>
<circle cx="955.8" cy="891.4" r="6.3" fill="#ab15a7"/>
<circle cx="1072.6" cy="894.8" r="6.3" fill="#774dcf"/>
<circle cx="989.5" cy="899.7" r="6.3" fill="#ff0055"/>
<circle cx="1074.8" cy="903.0" r="6.3" fill="#6259db"/>
<circle cx="1071.9" cy="899.1" r="6.3" fill="#6658d9"/>
<circle cx="997.6" cy="889.5" r="6.3" fill="#ff0053"/>
<circle cx="982.1" cy="885.3" r="6.3" fill="#a31daa"/>
<circle cx="1057.1" cy="899.2" r="6.3" fill="#007cf5"/>
<circle cx="1048.7" cy="912.4" r="6.3" fill="#0077f2"/>
<circle cx="1090.3" cy="891.8" r="6.3" fill="#5e5bdc"/>
<circle cx="922.0" cy="906.9" r="6.3" fill="#e8007e"/>
<circle cx="1054.1" cy="879.5" r="6.3" fill="#0082f8"/>
<circle cx="1080.6" cy="909.6" r="6.3" fill="#764ed0"/>
<circle cx="1061.6" cy="907.6" r="6.3" fill="#585edf"/>
<circle cx="1064.6" cy="899.8" r="6.3" fill="#555fe0"/>
<circle cx="1017.6" cy="897.5" r="6.3" fill="#ff0053"/>
<circle cx="926.9" cy="900.3" r="6.3" fill="#e7007f"/>
<circle cx="948.4" cy="904.1" r="6.3" fill="#d5008e"/>
<circle cx="1051.3" cy="889.2" r="6.3" fill="#0081f8"/>
<circle cx="931.6" cy="879.8" r="6.3" fill="#db0089"/>
<circle cx="1054.6" cy="898.1" r="6.3" fill="#0084f9"/>
<circle cx="1054.4" cy="890.8" r="6.3" fill="#0082f8"/>
<circle cx="911.0" cy="899.3" r="6.3" fill="#ff0056"/>
<circle cx="952.4" cy="900.4" r="6.3" fill="#d5008f"/>
<circle cx="1057.4" cy="887.5" r="6.3" fill="#0084f9"/>
<circle cx="1066.8" cy="890.7" r="6.3" fill="#5c5ddd"/>
<circle cx="914.0" cy="897.8" r="6.3" fill="#ff0054"/>
<circle cx="961.6" cy="903.5" r="6.3" fill="#b20ca4"/>
<circle cx="1046.2" cy="908.7" r="6.3" fill="#0077f2"/>
<circle cx="968.0" cy="888.5" r="6.3" fill="#9c22ac"/>
<circle cx="1070.3" cy="885.2" r="6.3" fill="#744fd1"/>
<circle cx="1049.7" cy="885.8" r="6.3" fill="#007cf5"/>
<circle cx="984.3" cy="896.6" r="6.3" fill="#b508a3"/>
<circle cx="935.5" cy="894.0" r="6.3" fill="#ff0053"/>
<circle cx="900.6" cy="898.6" r="6.3" fill="#ff0051"/>
<circle cx="1072.1" cy="884.7" r="6.3" fill="#7052d4"/>
<circle cx="938.0" cy="913.2" r="6.3" fill="#d9008c"/>
<circle cx="982.5" cy="900.7" r="6.3" fill="#a31daa"/>
<circle cx="976.8" cy="887.2" r="6.3" fill="#ac15a7"/>
<circle cx="957.8" cy="898.5" r="6.3" fill="#b10ea4"/>
<circle cx="1070.8" cy="892.8" r="6.3" fill="#6e53d5"/>
<circle cx="1031.1" cy="900.1" r="6.3" fill="#0086f9"/>
<circle cx="955.5" cy="895.5" r="6.3" fill="#9e21ac"/>
<circle cx="919.9" cy="892.8" r="6.3" fill="#dd0088"/>
<circle cx="1064.3" cy="909.5" r="6.3" fill="#764ed0"/>
<circle cx="925.0" cy="881.2" r="6.3" fill="#e8007e"/>
<circle cx="937.8" cy="879.3" r="6.3" fill="#c4009a"/>
<circle cx="934.8" cy="879.4" r="6.3" fill="#e6007f"/>
<circle cx="979.0" cy="893.3" r="6.3" fill="#af10a5"/>
<circle cx="1058.9" cy="896.1" r="6.3" fill="#0087fa"/>
<circle cx="903.2" cy="895.4" r="6.3" fill="#ff0051"/>
<circle cx="1055.2" cy="906.8" r="6.3" fill="#0089fa"/>
<circle cx="988.9" cy="886.2" r="6.3" fill="#962db3"/>
<circle cx="1064.8" cy="902.7" r="6.3" fill="#575fdf"/>
<circle cx="1088.7" cy="900.7" r="6.3" fill="#0077f2"/>
<circle cx="1079.9" cy="888.3" r="6.3" fill="#007df5"/>
<circle cx="1035.9" cy="898.7" r="6.3" fill="#0087fa"/>
<circle cx="974.3" cy="898.5" r="6.3" fill="#b00fa5"/>
<circle cx="924.0" cy="902.6" r="6.3" fill="#c2009b"/>
<circle cx="950.3" cy="889.4" r="6.3" fill="#ff0051"/>
<circle cx="1036.0" cy="901.5" r="6.3" fill="#0085f9"/>
<circle cx="961.3" cy="894.1" r="6.3" fill="#9c22ad"/>
<circle cx="927.2" cy="886.0" r="6.3" fill="#ee0076"/>
<circle cx="984.6" cy="899.8" r="6.3" fill="#a818a8"/>
<circle cx="971.6" cy="899.1" r="6.3" fill="#ac15a7"/>
<circle cx="1077.5" cy="890.7" r="6.3" fill="#007bf5"/>
<circle cx="916.8" cy="892.3" r="6.3" fill="#ff0051"/>
<circle cx="1047.0" cy="895.1" r="6.3" fill="#007bf5"/>
<circle cx="927.8" cy="914.6" r="6.3" fill="#e50080"/>
<circle cx="1060.4" cy="891.8" r="6.3" fill="#0087fa"/>
<circle cx="919.3" cy="908.5" r="6.3" fill="#ec0079"/>
<circle cx="953.2" cy="894.0" r="6.3" fill="#bd009e"/>
<circle cx="1051.5" cy="895.2" r="6.3" fill="#0081f8"/>
<circle cx="914.1" cy="901.4" r="6.3" fill="#ff0051"/>
<circle cx="1046.0" cy="898.1" r="6.3" fill="#2e6ae9"/>
<circle cx="947.7" cy="889.8" r="6.3" fill="#ff0053"/>
<circle cx="1000.2" cy="904.8" r="6.3" fill="#ff0051"/>
<circle cx="984.6" cy="886.0" r="6.3" fill="#972bb2"/>
<circle cx="930.3" cy="895.3" r="6.3" fill="#c60099"/>
<circle cx="1069.6" cy="908.0" r="6.3" fill="#5e5bdc"/>
<circle cx="950.5" cy="902.8" r="6.3" fill="#ee0077"/>
<circle cx="950.8" cy="891.5" r="6.3" fill="#ff0052"/>
<circle cx="971.0" cy="901.4" r="6.3" fill="#ab16a7"/>
<circle cx="1067.5" cy="904.4" r="6.3" fill="#5f5bdc"/>
<circle cx="924.8" cy="898.8" r="6.3" fill="#e8007d"/>
<circle cx="1008.2" cy="894.6" r="6.3" fill="#ff0051"/>
<circle cx="987.3" cy="886.3" r="6.3" fill="#ff0055"/>
<circle cx="1099.1" cy="897.3" r="6.3" fill="#615adb"/>
<circle cx="1059.7" cy="898.9" r="6.3" fill="#0075f0"/>
<circle cx="940.6" cy="910.0" r="6.3" fill="#d9008b"/>
<circle cx="1055.2" cy="910.0" r="6.3" fill="#0089fa"/>
<circle cx="968.6" cy="898.9" r="6.3" fill="#b10ea4"/>
<circle cx="937.2" cy="910.3" r="6.3" fill="#ed0077"/>
<circle cx="955.8" cy="902.6" r="6.3" fill="#b409a3"/>
<circle cx="932.9" cy="906.0" r="6.3" fill="#ec0079"/>
<circle cx="1096.6" cy="899.0" r="6.3" fill="#625adb"/>
<circle cx="1005.7" cy="897.4" r="6.3" fill="#ff0052"/>
<circle cx="936.8" cy="898.1" r="6.3" fill="#ff0051"/>
<circle cx="1082.8" cy="908.2" r="6.3" fill="#6956d7"/>
<circle cx="1085.7" cy="907.2" r="6.3" fill="#605bdc"/>
<circle cx="924.7" cy="887.3" r="6.3" fill="#ba00a0"/>
<circle cx="945.5" cy="887.3" r="6.3" fill="#c2009c"/>
<circle cx="914.1" cy="904.3" r="6.3" fill="#ff0051"/>
<circle cx="974.1" cy="906.7" r="6.3" fill="#a71aa9"/>
<circle cx="926.5" cy="910.9" r="6.3" fill="#ed0078"/>
<circle cx="996.7" cy="897.7" r="6.3" fill="#ff0053"/>
<circle cx="1005.7" cy="894.2" r="6.3" fill="#ff0052"/>
<circle cx="909.2" cy="898.8" r="6.3" fill="#ff0056"/>
<circle cx="986.4" cy="888.7" r="6.3" fill="#972bb2"/>
<circle cx="1087.6" cy="889.3" r="6.3" fill="#5e5cdc"/>
<circle cx="963.3" cy="897.4" r="6.3" fill="#a61ba9"/>
<circle cx="927.6" cy="882.6" r="6.3" fill="#ec0078"/>
<circle cx="1037.0" cy="895.7" r="6.3" fill="#0089fa"/>
<circle cx="1065.6" cy="887.8" r="6.3" fill="#6d54d5"/>
<circle cx="1047.5" cy="906.2" r="6.3" fill="#236cea"/>
<circle cx="930.4" cy="902.1" r="6.3" fill="#ff0051"/>
<circle cx="994.0" cy="905.5" r="6.3" fill="#ff0052"/>
<circle cx="1057.5" cy="910.5" r="6.3" fill="#0081f7"/>
<circle cx="1070.5" cy="904.0" r="6.3" fill="#585edf"/>
<circle cx="1085.0" cy="887.4" r="6.3" fill="#4e62e2"/>
<circle cx="1054.3" cy="895.1" r="6.3" fill="#0083f8"/>
<circle cx="930.3" cy="887.3" r="6.3" fill="#c50099"/>
<circle cx="921.7" cy="897.5" r="6.3" fill="#ed0078"/>
<rect x="1004.30" y="793.00" width="3.40" height="518.00" fill="#959595"/>
<circle cx="1037.9" cy="932.1" r="6.3" fill="#595ede"/>
<circle cx="1106.7" cy="948.1" r="6.3" fill="#f7006a"/>
<circle cx="988.7" cy="954.7" r="6.3" fill="#c70098"/>
<circle cx="1050.6" cy="964.7" r="6.3" fill="#7e48ca"/>
<circle cx="1054.3" cy="956.6" r="6.3" fill="#6956d7"/>
<circle cx="1027.2" cy="934.4" r="6.3" fill="#ff0054"/>
<circle cx="991.5" cy="939.5" r="6.3" fill="#952eb4"/>
<circle cx="1100.8" cy="947.8" r="6.3" fill="#de0087"/>
<circle cx="1126.7" cy="944.9" r="6.3" fill="#ff0055"/>
<circle cx="975.6" cy="944.6" r="6.3" fill="#982ab1"/>
<circle cx="1035.3" cy="957.5" r="6.3" fill="#6e53d5"/>
<circle cx="1003.7" cy="942.7" r="6.3" fill="#ad14a6"/>
<circle cx="1036.1" cy="935.9" r="6.3" fill="#5d5cdd"/>
<circle cx="967.6" cy="945.8" r="6.3" fill="#008bfb"/>
<circle cx="1023.2" cy="943.2" r="6.3" fill="#b409a3"/>
<circle cx="1032.6" cy="958.1" r="6.3" fill="#6d54d6"/>
<circle cx="986.9" cy="959.6" r="6.3" fill="#bd009f"/>
<circle cx="1056.0" cy="954.4" r="6.3" fill="#6956d8"/>
<circle cx="1058.3" cy="953.8" r="6.3" fill="#605bdc"/>
<circle cx="1040.2" cy="936.6" r="6.3" fill="#0070ed"/>
<circle cx="1001.1" cy="948.3" r="6.3" fill="#a818a8"/>
<circle cx="1014.9" cy="938.7" r="6.3" fill="#b408a3"/>
<circle cx="1075.2" cy="949.3" r="6.3" fill="#e60080"/>
<circle cx="1017.1" cy="959.8" r="6.3" fill="#b20ca4"/>
<circle cx="999.9" cy="941.3" r="6.3" fill="#bc009f"/>
<circle cx="1056.8" cy="941.1" r="6.3" fill="#2d6be9"/>
<circle cx="1079.2" cy="952.9" r="6.3" fill="#dd0088"/>
<circle cx="1132.6" cy="948.6" r="6.3" fill="#e10084"/>
<circle cx="1046.7" cy="940.5" r="6.3" fill="#6359da"/>
<circle cx="1011.6" cy="946.6" r="6.3" fill="#8740c3"/>
<circle cx="996.5" cy="952.1" r="6.3" fill="#ba00a0"/>
<circle cx="1069.5" cy="947.4" r="6.3" fill="#ff0054"/>
<circle cx="1139.1" cy="944.9" r="6.3" fill="#e20084"/>
<circle cx="981.1" cy="959.7" r="6.3" fill="#9927af"/>
<circle cx="952.2" cy="945.7" r="6.3" fill="#c3009b"/>
<circle cx="1030.5" cy="953.9" r="6.3" fill="#6b55d6"/>
<circle cx="1134.9" cy="948.3" r="6.3" fill="#f90066"/>
<circle cx="983.1" cy="942.0" r="6.3" fill="#c1009c"/>
<circle cx="1093.3" cy="952.4" r="6.3" fill="#f80068"/>
<circle cx="1040.6" cy="965.7" r="6.3" fill="#595ede"/>
<circle cx="1064.5" cy="951.4" r="6.3" fill="#7c49cc"/>
<circle cx="1048.1" cy="935.0" r="6.3" fill="#565fdf"/>
<circle cx="1050.6" cy="935.6" r="6.3" fill="#5b5dde"/>
<circle cx="955.8" cy="954.0" r="6.3" fill="#0088fa"/>
<circle cx="968.4" cy="954.5" r="6.3" fill="#cd0094"/>
<circle cx="1119.4" cy="945.4" r="6.3" fill="#ff0054"/>
<circle cx="1033.8" cy="942.8" r="6.3" fill="#794cce"/>
<circle cx="988.5" cy="958.2" r="6.3" fill="#c80098"/>
<circle cx="1012.1" cy="953.5" r="6.3" fill="#ae12a6"/>
<circle cx="1020.4" cy="944.2" r="6.3" fill="#b00fa4"/>
<circle cx="1098.2" cy="952.4" r="6.3" fill="#f5006c"/>
<circle cx="1012.7" cy="943.1" r="6.3" fill="#8443c6"/>
<circle cx="1088.4" cy="948.6" r="6.3" fill="#f90066"/>
<circle cx="1096.0" cy="947.9" r="6.3" fill="#de0087"/>
<circle cx="1025.8" cy="958.7" r="6.3" fill="#6956d7"/>
<circle cx="958.4" cy="946.3" r="6.3" fill="#0089fa"/>
<circle cx="1045.5" cy="937.5" r="6.3" fill="#246cea"/>
<circle cx="1059.8" cy="950.6" r="6.3" fill="#7250d2"/>
<circle cx="981.8" cy="951.6" r="6.3" fill="#9927af"/>
<circle cx="1066.6" cy="950.0" r="6.3" fill="#ff0057"/>
<circle cx="1031.0" cy="960.9" r="6.3" fill="#1d6deb"/>
<circle cx="1129.6" cy="944.8" r="6.3" fill="#f5006e"/>
<circle cx="1062.2" cy="948.8" r="6.3" fill="#794cce"/>
<circle cx="1066.8" cy="953.4" r="6.3" fill="#ff0051"/>
<circle cx="1071.8" cy="949.3" r="6.3" fill="#f5006d"/>
<circle cx="968.6" cy="941.2" r="6.3" fill="#0089fa"/>
<circle cx="1137.0" cy="948.5" r="6.3" fill="#df0087"/>
<circle cx="1103.8" cy="951.1" r="6.3" fill="#f90066"/>
<circle cx="980.4" cy="938.8" r="6.3" fill="#c2009c"/>
<circle cx="1053.5" cy="936.1" r="6.3" fill="#595ede"/>
<circle cx="1006.7" cy="955.8" r="6.3" fill="#b30ba3"/>
<circle cx="993.9" cy="939.9" r="6.3" fill="#008bfb"/>
<circle cx="1115.5" cy="951.4" r="6.3" fill="#ff0051"/>
<circle cx="1141.8" cy="946.8" r="6.3" fill="#df0086"/>
<circle cx="991.1" cy="943.7" r="6.3" fill="#bd009e"/>
<circle cx="1107.9" cy="952.3" r="6.3" fill="#f7006a"/>
<circle cx="960.4" cy="944.1" r="6.3" fill="#0087fa"/>
<circle cx="976.6" cy="951.9" r="6.3" fill="#952eb5"/>
<circle cx="1024.6" cy="944.5" r="6.3" fill="#774dcf"/>
<circle cx="977.8" cy="937.7" r="6.3" fill="#0088fa"/>
<circle cx="972.9" cy="949.2" r="6.3" fill="#0088fa"/>
<circle cx="977.9" cy="949.2" r="6.3" fill="#a020ab"/>
<circle cx="1014.7" cy="953.5" r="6.3" fill="#c5009a"/>
<circle cx="1064.7" cy="958.5" r="6.3" fill="#7151d3"/>
<circle cx="1139.8" cy="948.4" r="6.3" fill="#e40082"/>
<circle cx="971.1" cy="948.7" r="6.3" fill="#ce0094"/>
<circle cx="1054.1" cy="946.5" r="6.3" fill="#794cce"/>
<circle cx="1040.8" cy="957.8" r="6.3" fill="#6259da"/>
<circle cx="1001.7" cy="945.4" r="6.3" fill="#b010a5"/>
<circle cx="1142.4" cy="950.9" r="6.3" fill="#ff0056"/>
<circle cx="1118.7" cy="951.4" r="6.3" fill="#ff0054"/>
<circle cx="1074.1" cy="944.4" r="6.3" fill="#ff0051"/>
<circle cx="1108.1" cy="948.0" r="6.3" fill="#ff0051"/>
<circle cx="1059.0" cy="944.1" r="6.3" fill="#7450d1"/>
<circle cx="1009.9" cy="956.6" r="6.3" fill="#b20da4"/>
<circle cx="1124.8" cy="945.0" r="6.3" fill="#ff0052"/>
<circle cx="979.1" cy="958.6" r="6.3" fill="#9c23ad"/>
<circle cx="1004.6" cy="954.1" r="6.3" fill="#a41ca9"/>
<circle cx="1004.2" cy="945.9" r="6.3" fill="#ab16a7"/>
<circle cx="1043.2" cy="951.9" r="6.3" fill="#5d5cdd"/>
<circle cx="1062.5" cy="939.0" r="6.3" fill="#6e53d5"/>
<circle cx="971.3" cy="951.6" r="6.3" fill="#008bfb"/>
<circle cx="1049.4" cy="945.7" r="6.3" fill="#6c55d6"/>
<circle cx="1029.9" cy="950.2" r="6.3" fill="#6c54d6"/>
<circle cx="1030.8" cy="936.1" r="6.3" fill="#0f6eec"/>
<circle cx="1046.7" cy="933.6" r="6.3" fill="#7c49cc"/>
<circle cx="985.7" cy="952.0" r="6.3" fill="#c60099"/>
<circle cx="1053.4" cy="950.3" r="6.3" fill="#7a4bce"/>
<circle cx="1023.3" cy="957.2" r="6.3" fill="#b40aa3"/>
<circle cx="984.4" cy="939.1" r="6.3" fill="#0089fa"/>
<circle cx="1152.4" cy="949.1" r="6.3" fill="#f5006d"/>
<circle cx="1137.8" cy="951.9" r="6.3" fill="#fa0065"/>
<circle cx="1035.4" cy="961.7" r="6.3" fill="#326ae8"/>
<circle cx="1014.6" cy="946.7" r="6.3" fill="#873fc3"/>
<circle cx="958.1" cy="942.3" r="6.3" fill="#008afb"/>
<circle cx="947.7" cy="951.1" r="6.3" fill="#c70098"/>
<circle cx="1097.7" cy="945.1" r="6.3" fill="#e30083"/>
<circle cx="988.9" cy="950.8" r="6.3" fill="#bc009f"/>
<circle cx="989.6" cy="939.5" r="6.3" fill="#a01fab"/>
<circle cx="986.2" cy="941.4" r="6.3" fill="#bc009f"/>
<circle cx="1006.8" cy="948.3" r="6.3" fill="#a41daa"/>
<circle cx="986.7" cy="946.1" r="6.3" fill="#c0009c"/>
<circle cx="960.1" cy="956.7" r="6.3" fill="#0089fa"/>
<circle cx="955.5" cy="945.0" r="6.3" fill="#0089fa"/>
<circle cx="1080.1" cy="949.3" r="6.3" fill="#e10084"/>
<circle cx="1012.4" cy="939.6" r="6.3" fill="#a918a8"/>
<circle cx="963.5" cy="954.4" r="6.3" fill="#008bfb"/>
<circle cx="1057.1" cy="943.7" r="6.3" fill="#6657d9"/>
<circle cx="963.1" cy="957.6" r="6.3" fill="#008bfb"/>
<circle cx="978.7" cy="941.2" r="6.3" fill="#9e21ac"/>
<circle cx="965.4" cy="958.9" r="6.3" fill="#0089fa"/>
<circle cx="1032.3" cy="966.2" r="6.3" fill="#2a6bea"/>
<circle cx="983.0" cy="955.8" r="6.3" fill="#a01fab"/>
<circle cx="985.5" cy="954.8" r="6.3" fill="#c70098"/>
<circle cx="1110.8" cy="951.1" r="6.3" fill="#ff0056"/>
<circle cx="1077.1" cy="952.6" r="6.3" fill="#e7007e"/>
<circle cx="1027.7" cy="952.0" r="6.3" fill="#7d49cb"/>
<circle cx="1041.1" cy="944.5" r="6.3" fill="#6b55d7"/>
<circle cx="1070.1" cy="951.4" r="6.3" fill="#ff0051"/>
<circle cx="991.3" cy="954.6" r="6.3" fill="#bf009d"/>
<circle cx="973.6" cy="959.7" r="6.3" fill="#008bfb"/>
<circle cx="1152.5" cy="948.6" r="6.3" fill="#f3006f"/>
<circle cx="1018.1" cy="937.6" r="6.3" fill="#a51ca9"/>
<circle cx="989.6" cy="947.0" r="6.3" fill="#c1009c"/>
<circle cx="1009.0" cy="952.1" r="6.3" fill="#ac14a6"/>
<circle cx="1058.8" cy="938.2" r="6.3" fill="#615adb"/>
<circle cx="1018.0" cy="951.9" r="6.3" fill="#c2009c"/>
<circle cx="949.4" cy="946.3" r="6.3" fill="#c4009a"/>
<circle cx="1027.3" cy="937.8" r="6.3" fill="#2f6ae9"/>
<circle cx="963.6" cy="946.8" r="6.3" fill="#008bfb"/>
<circle cx="1062.2" cy="946.0" r="6.3" fill="#6b55d6"/>
<circle cx="1064.0" cy="947.7" r="6.3" fill="#6b55d6"/>
<circle cx="949.3" cy="951.4" r="6.3" fill="#c3009b"/>
<circle cx="1027.9" cy="959.2" r="6.3" fill="#6a56d7"/>
<circle cx="1051.5" cy="956.4" r="6.3" fill="#3669e8"/>
<circle cx="942.3" cy="949.6" r="6.3" fill="#c1009c"/>
<circle cx="968.2" cy="937.8" r="6.3" fill="#008bfb"/>
<circle cx="1054.6" cy="963.9" r="6.3" fill="#6459da"/>
<circle cx="994.4" cy="950.6" r="6.3" fill="#b802a1"/>
<circle cx="1036.0" cy="946.6" r="6.3" fill="#7052d3"/>
<circle cx="1048.3" cy="937.8" r="6.3" fill="#3b68e7"/>
<circle cx="1005.2" cy="950.0" r="6.3" fill="#a819a8"/>
<circle cx="1129.0" cy="948.3" r="6.3" fill="#f5006d"/>
<circle cx="1087.6" cy="945.2" r="6.3" fill="#f90066"/>
<circle cx="1045.4" cy="964.5" r="6.3" fill="#615adb"/>
<circle cx="1041.2" cy="954.8" r="6.3" fill="#794cce"/>
<circle cx="970.1" cy="938.2" r="6.3" fill="#008bfb"/>
<circle cx="937.2" cy="949.7" r="6.3" fill="#c1009c"/>
<circle cx="1030.9" cy="946.7" r="6.3" fill="#754fd1"/>
<circle cx="1022.8" cy="936.0" r="6.3" fill="#8b3bbf"/>
<circle cx="1038.3" cy="957.6" r="6.3" fill="#555fe0"/>
<circle cx="1024.9" cy="952.8" r="6.3" fill="#6d54d5"/>
<circle cx="1082.1" cy="945.8" r="6.3" fill="#f20071"/>
<circle cx="1045.5" cy="961.1" r="6.3" fill="#6d54d5"/>
<circle cx="1075.2" cy="953.0" r="6.3" fill="#e60080"/>
<circle cx="1002.2" cy="955.1" r="6.3" fill="#b10ea4"/>
<circle cx="984.5" cy="948.1" r="6.3" fill="#0089fa"/>
<circle cx="1043.9" cy="936.5" r="6.3" fill="#3569e8"/>
<circle cx="957.5" cy="950.4" r="6.3" fill="#008bfb"/>
<circle cx="1071.6" cy="952.9" r="6.3" fill="#ff0055"/>
<circle cx="1065.0" cy="943.3" r="6.3" fill="#7052d4"/>
<circle cx="1135.0" cy="952.1" r="6.3" fill="#ff0052"/>
<circle cx="993.7" cy="947.5" r="6.3" fill="#bd009e"/>
<circle cx="1149.4" cy="950.3" r="6.3" fill="#f3006f"/>
<circle cx="1018.2" cy="941.2" r="6.3" fill="#ac15a6"/>
<circle cx="1019.6" cy="940.2" r="6.3" fill="#a61ba9"/>
<circle cx="999.0" cy="945.7" r="6.3" fill="#c1009c"/>
<circle cx="953.2" cy="952.6" r="6.3" fill="#ba00a0"/>
<circle cx="1014.6" cy="949.6" r="6.3" fill="#7c49cc"/>
<circle cx="1023.5" cy="947.3" r="6.3" fill="#b30ba3"/>
<circle cx="1092.6" cy="948.5" r="6.3" fill="#e7007f"/>
<circle cx="967.8" cy="952.6" r="6.3" fill="#008afb"/>
<circle cx="1058.8" cy="961.9" r="6.3" fill="#7250d2"/>
<circle cx="1032.5" cy="932.6" r="6.3" fill="#6d54d5"/>
<circle cx="978.5" cy="951.8" r="6.3" fill="#9e21ac"/>
<circle cx="1051.5" cy="961.0" r="6.3" fill="#6a56d7"/>
<circle cx="1040.6" cy="961.1" r="6.3" fill="#6259da"/>
<circle cx="1059.2" cy="957.8" r="6.3" fill="#7450d2"/>
<circle cx="1089.9" cy="951.5" r="6.3" fill="#f5006c"/>
<circle cx="975.9" cy="938.8" r="6.3" fill="#b802a1"/>
<circle cx="1076.5" cy="944.9" r="6.3" fill="#ff0056"/>
<circle cx="993.4" cy="957.9" r="6.3" fill="#bc009f"/>
<circle cx="1095.9" cy="952.4" r="6.3" fill="#f5006d"/>
<circle cx="1131.9" cy="945.8" r="6.3" fill="#f5006d"/>
<circle cx="1144.6" cy="946.6" r="6.3" fill="#e6007f"/>
<circle cx="1110.7" cy="945.4" r="6.3" fill="#ff0053"/>
<circle cx="1043.4" cy="947.0" r="6.3" fill="#1d6deb"/>
<circle cx="975.4" cy="941.0" r="6.3" fill="#c5009a"/>
<circle cx="1019.5" cy="948.7" r="6.3" fill="#ab16a7"/>
<circle cx="1123.6" cy="951.6" r="6.3" fill="#ff0056"/>
<circle cx="1019.5" cy="956.3" r="6.3" fill="#a818a8"/>
<circle cx="1028.6" cy="956.0" r="6.3" fill="#605bdc"/>
<circle cx="1150.2" cy="947.6" r="6.3" fill="#ff0051"/>
<circle cx="1007.1" cy="944.4" r="6.3" fill="#ad13a6"/>
<circle cx="1012.6" cy="957.0" r="6.3" fill="#aa17a7"/>
<circle cx="1121.9" cy="944.6" r="6.3" fill="#ff0051"/>
<circle cx="1085.2" cy="952.5" r="6.3" fill="#f6006c"/>
<circle cx="1024.7" cy="948.1" r="6.3" fill="#6d54d5"/>
<circle cx="984.0" cy="945.8" r="6.3" fill="#008bfb"/>
<circle cx="1001.7" cy="952.1" r="6.3" fill="#b30aa3"/>
<circle cx="1119.0" cy="948.7" r="6.3" fill="#ff0051"/>
<circle cx="1054.0" cy="959.8" r="6.3" fill="#754ed0"/>
<circle cx="1038.9" cy="961.6" r="6.3" fill="#1d6deb"/>
<circle cx="1040.3" cy="947.2" r="6.3" fill="#6856d8"/>
<circle cx="1147.1" cy="950.8" r="6.3" fill="#f6006c"/>
<circle cx="962.1" cy="938.5" r="6.3" fill="#008bfb"/>
<circle cx="1100.1" cy="952.2" r="6.3" fill="#e40081"/>
<circle cx="981.4" cy="941.5" r="6.3" fill="#0089fa"/>
<circle cx="1040.5" cy="933.4" r="6.3" fill="#3e67e6"/>
<circle cx="1020.4" cy="936.8" r="6.3" fill="#008bfb"/>
<circle cx="1051.3" cy="942.7" r="6.3" fill="#6558d9"/>
<circle cx="1002.3" cy="941.8" r="6.3" fill="#b10fa4"/>
<circle cx="1064.7" cy="954.9" r="6.3" fill="#7d49cb"/>
<circle cx="996.3" cy="944.5" r="6.3" fill="#ba00a0"/>
<circle cx="939.9" cy="949.6" r="6.3" fill="#c80098"/>
<circle cx="964.8" cy="938.0" r="6.3" fill="#0088fa"/>
<circle cx="963.6" cy="950.5" r="6.3" fill="#0088fa"/>
<circle cx="931.6" cy="949.5" r="6.3" fill="#cb0096"/>
<circle cx="1048.6" cy="960.7" r="6.3" fill="#5e5cdd"/>
<circle cx="991.5" cy="950.4" r="6.3" fill="#bb009f"/>
<circle cx="1038.2" cy="954.9" r="6.3" fill="#3c67e7"/>
<circle cx="1023.5" cy="954.4" r="6.3" fill="#ac14a6"/>
<circle cx="1043.0" cy="944.0" r="6.3" fill="#3968e7"/>
<circle cx="981.4" cy="945.3" r="6.3" fill="#008bfb"/>
<circle cx="1056.0" cy="958.3" r="6.3" fill="#764ed0"/>
<circle cx="1116.9" cy="948.3" r="6.3" fill="#ff0051"/>
<circle cx="1052.1" cy="950.3" r="6.3" fill="#006fed"/>
<circle cx="993.7" cy="953.1" r="6.3" fill="#c70099"/>
<circle cx="975.6" cy="955.6" r="6.3" fill="#9829b1"/>
<circle cx="1043.4" cy="954.2" r="6.3" fill="#066fec"/>
<circle cx="1113.5" cy="949.0" r="6.3" fill="#ff0056"/>
<circle cx="999.9" cy="955.6" r="6.3" fill="#c1009c"/>
<circle cx="1091.0" cy="944.3" r="6.3" fill="#ff0056"/>
<circle cx="1077.5" cy="948.1" r="6.3" fill="#f7006a"/>
<circle cx="1110.5" cy="948.8" r="6.3" fill="#ff0057"/>
<circle cx="1093.2" cy="945.1" r="6.3" fill="#f4006f"/>
<circle cx="1059.7" cy="947.5" r="6.3" fill="#764ed0"/>
<circle cx="1062.0" cy="956.7" r="6.3" fill="#615adb"/>
<circle cx="991.5" cy="958.2" r="6.3" fill="#c70099"/>
<circle cx="1064.8" cy="939.8" r="6.3" fill="#5f5bdc"/>
<circle cx="1057.0" cy="951.8" r="6.3" fill="#6259da"/>
<circle cx="1139.6" cy="951.1" r="6.3" fill="#f5006d"/>
<circle cx="1046.0" cy="943.6" r="6.3" fill="#3e67e6"/>
<circle cx="1051.2" cy="946.6" r="6.3" fill="#7a4bcd"/>
<circle cx="1032.7" cy="951.3" r="6.3" fill="#774dcf"/>
<circle cx="947.9" cy="946.8" r="6.3" fill="#c5009a"/>
<circle cx="1144.4" cy="949.9" r="6.3" fill="#f5006d"/>
<circle cx="1030.5" cy="943.8" r="6.3" fill="#6b55d6"/>
<circle cx="959.7" cy="952.7" r="6.3" fill="#008afb"/>
<circle cx="975.8" cy="948.5" r="6.3" fill="#9b24ad"/>
<circle cx="1114.1" cy="951.0" r="6.3" fill="#ff0054"/>
<circle cx="1102.9" cy="947.6" r="6.3" fill="#e7007f"/>
<circle cx="1020.1" cy="952.1" r="6.3" fill="#b30aa3"/>
<circle cx="1048.3" cy="957.2" r="6.3" fill="#7a4bcd"/>
<circle cx="998.8" cy="948.2" r="6.3" fill="#bf009d"/>
<circle cx="1068.8" cy="944.2" r="6.3" fill="#ff0055"/>
<circle cx="1017.0" cy="945.2" r="6.3" fill="#c3009b"/>
<circle cx="960.1" cy="949.3" r="6.3" fill="#0089fa"/>
<circle cx="971.4" cy="942.6" r="6.3" fill="#d00093"/>
<circle cx="978.4" cy="956.1" r="6.3" fill="#972ab1"/>
<circle cx="977.8" cy="945.3" r="6.3" fill="#9a25ae"/>
<circle cx="1030.6" cy="965.0" r="6.3" fill="#3d67e6"/>
<circle cx="1054.2" cy="942.1" r="6.3" fill="#585edf"/>
<circle cx="1090.8" cy="947.6" r="6.3" fill="#f7006a"/>
<circle cx="968.9" cy="957.9" r="6.3" fill="#0087fa"/>
<circle cx="1061.3" cy="952.8" r="6.3" fill="#7350d2"/>
<circle cx="991.9" cy="947.0" r="6.3" fill="#bd009e"/>
<circle cx="1021.9" cy="962.0" r="6.3" fill="#a41caa"/>
<circle cx="1030.0" cy="932.4" r="6.3" fill="#ff0051"/>
<circle cx="984.2" cy="951.6" r="6.3" fill="#ba00a0"/>
<circle cx="1045.9" cy="957.5" r="6.3" fill="#7151d3"/>
<circle cx="1058.7" cy="940.8" r="6.3" fill="#7350d2"/>
<circle cx="1135.1" cy="945.6" r="6.3" fill="#f80068"/>
<circle cx="1039.0" cy="950.9" r="6.3" fill="#605adb"/>
<circle cx="1079.3" cy="945.5" r="6.3" fill="#ff0051"/>
<circle cx="1035.0" cy="954.1" r="6.3" fill="#6e53d5"/>
<circle cx="1126.9" cy="952.1" r="6.3" fill="#ff0055"/>
<circle cx="1062.3" cy="941.3" r="6.3" fill="#585edf"/>
<circle cx="1049.3" cy="949.0" r="6.3" fill="#794cce"/>
<circle cx="1028.6" cy="944.6" r="6.3" fill="#7a4bcd"/>
<circle cx="1046.8" cy="947.5" r="6.3" fill="#036fed"/>
<circle cx="1100.4" cy="944.5" r="6.3" fill="#e50080"/>
<circle cx="983.5" cy="959.3" r="6.3" fill="#008bfb"/>
<circle cx="1022.9" cy="949.7" r="6.3" fill="#a61ba9"/>
<circle cx="1121.5" cy="951.5" r="6.3" fill="#ff0054"/>
<circle cx="999.9" cy="951.8" r="6.3" fill="#bd009e"/>
<circle cx="1061.9" cy="960.3" r="6.3" fill="#6558d9"/>
<circle cx="1028.4" cy="948.3" r="6.3" fill="#6b55d6"/>
<circle cx="1066.4" cy="957.3" r="6.3" fill="#ff0051"/>
<circle cx="1032.5" cy="953.9" r="6.3" fill="#565fe0"/>
<circle cx="1053.8" cy="939.7" r="6.3" fill="#6f52d4"/>
<circle cx="1025.0" cy="940.9" r="6.3" fill="#7a4bcd"/>
<circle cx="1085.8" cy="948.5" r="6.3" fill="#f70069"/>
<circle cx="1048.4" cy="964.5" r="6.3" fill="#6856d8"/>
<circle cx="960.1" cy="940.7" r="6.3" fill="#008bfb"/>
<circle cx="1007.7" cy="951.2" r="6.3" fill="#0087fa"/>
<circle cx="1019.5" cy="959.9" r="6.3" fill="#aa17a7"/>
<circle cx="1035.0" cy="933.0" r="6.3" fill="#6a55d7"/>
<circle cx="1071.9" cy="945.3" r="6.3" fill="#ff0051"/>
<circle cx="973.0" cy="956.1" r="6.3" fill="#0088fa"/>
<circle cx="976.2" cy="959.3" r="6.3" fill="#9e21ac"/>
<circle cx="1106.6" cy="951.4" r="6.3" fill="#f30070"/>
<circle cx="1082.3" cy="951.6" r="6.3" fill="#dc0089"/>
<circle cx="1030.0" cy="957.6" r="6.3" fill="#784cce"/>
<circle cx="1036.2" cy="965.8" r="6.3" fill="#5b5dde"/>
<circle cx="1130.0" cy="952.3" r="6.3" fill="#f80068"/>
<circle cx="997.0" cy="941.6" r="6.3" fill="#bb009f"/>
<circle cx="1025.8" cy="962.9" r="6.3" fill="#794cce"/>
<circle cx="994.5" cy="944.0" r="6.3" fill="#c60099"/>
<circle cx="966.2" cy="951.2" r="6.3" fill="#c5009a"/>
<circle cx="1009.8" cy="940.5" r="6.3" fill="#a21eaa"/>
<circle cx="1131.8" cy="952.5" r="6.3" fill="#ff0052"/>
<circle cx="970.2" cy="954.9" r="6.3" fill="#008afb"/>
<circle cx="1028.3" cy="964.3" r="6.3" fill="#744fd1"/>
<circle cx="1121.2" cy="949.0" r="6.3" fill="#ff0056"/>
<circle cx="966.0" cy="946.8" r="6.3" fill="#cc0095"/>
<circle cx="1025.9" cy="956.4" r="6.3" fill="#6d54d5"/>
<circle cx="1052.0" cy="952.9" r="6.3" fill="#5f5bdc"/>
<circle cx="1127.3" cy="948.2" r="6.3" fill="#ff0056"/>
<circle cx="1067.1" cy="942.5" r="6.3" fill="#ff0052"/>
<circle cx="970.9" cy="945.5" r="6.3" fill="#008bfb"/>
<circle cx="1056.5" cy="947.4" r="6.3" fill="#6558d9"/>
<circle cx="973.4" cy="938.4" r="6.3" fill="#0088fa"/>
<circle cx="971.2" cy="958.3" r="6.3" fill="#008bfb"/>
<circle cx="1025.9" cy="937.7" r="6.3" fill="#ff0051"/>
<circle cx="1043.3" cy="962.0" r="6.3" fill="#784dcf"/>
<circle cx="1028.4" cy="941.1" r="6.3" fill="#7350d2"/>
<circle cx="1147.3" cy="947.5" r="6.3" fill="#e40081"/>
<circle cx="1011.5" cy="949.5" r="6.3" fill="#c3009b"/>
<circle cx="944.3" cy="948.7" r="6.3" fill="#cc0095"/>
<circle cx="997.2" cy="949.0" r="6.3" fill="#be009e"/>
<circle cx="973.2" cy="944.8" r="6.3" fill="#c4009b"/>
<circle cx="1035.7" cy="942.8" r="6.3" fill="#7d49cb"/>
<circle cx="944.7" cy="950.1" r="6.3" fill="#ca0096"/>
<circle cx="968.8" cy="948.2" r="6.3" fill="#cc0095"/>
<circle cx="1066.3" cy="945.0" r="6.3" fill="#ff0053"/>
<circle cx="1083.1" cy="948.1" r="6.3" fill="#f80068"/>
<circle cx="1097.6" cy="948.9" r="6.3" fill="#f4006e"/>
<circle cx="986.6" cy="938.5" r="6.3" fill="#962cb3"/>
<circle cx="1039.1" cy="939.7" r="6.3" fill="#784ccf"/>
<circle cx="1014.4" cy="943.3" r="6.3" fill="#008bfb"/>
<circle cx="1041.3" cy="950.6" r="6.3" fill="#565fdf"/>
<circle cx="1029.9" cy="940.5" r="6.3" fill="#6459da"/>
<circle cx="1048.0" cy="942.4" r="6.3" fill="#625adb"/>
<circle cx="1010.1" cy="948.4" r="6.3" fill="#8047c9"/>
<circle cx="1056.8" cy="961.7" r="6.3" fill="#595ede"/>
<circle cx="973.4" cy="941.0" r="6.3" fill="#008bfb"/>
<circle cx="980.4" cy="948.9" r="6.3" fill="#9928b0"/>
<circle cx="981.1" cy="955.2" r="6.3" fill="#962cb3"/>
<circle cx="957.7" cy="955.0" r="6.3" fill="#008afb"/>
<circle cx="962.6" cy="943.0" r="6.3" fill="#008bfb"/>
<circle cx="1123.7" cy="947.8" r="6.3" fill="#ff0051"/>
<circle cx="1115.6" cy="944.7" r="6.3" fill="#ff0051"/>
<circle cx="1057.3" cy="936.7" r="6.3" fill="#ff0051"/>
<circle cx="1033.6" cy="939.5" r="6.3" fill="#585edf"/>
<circle cx="1017.4" cy="948.3" r="6.3" fill="#b10ea4"/>
<circle cx="934.7" cy="949.6" r="6.3" fill="#c4009a"/>
<circle cx="1053.8" cy="952.8" r="6.3" fill="#6657d9"/>
<circle cx="1045.4" cy="951.9" r="6.3" fill="#6b55d6"/>
<circle cx="1050.9" cy="938.1" r="6.3" fill="#6459da"/>
<circle cx="1017.3" cy="955.9" r="6.3" fill="#ae13a6"/>
<circle cx="1041.7" cy="939.6" r="6.3" fill="#6d54d5"/>
<circle cx="1033.0" cy="947.0" r="6.3" fill="#794cce"/>
<circle cx="952.1" cy="950.0" r="6.3" fill="#cd0094"/>
<circle cx="997.0" cy="957.0" r="6.3" fill="#bb009f"/>
<circle cx="955.7" cy="949.1" r="6.3" fill="#008bfb"/>
<circle cx="1038.1" cy="947.0" r="6.3" fill="#6d53d5"/>
<circle cx="1038.7" cy="943.6" r="6.3" fill="#296bea"/>
<circle cx="1043.2" cy="958.3" r="6.3" fill="#625adb"/>
<circle cx="1037.7" cy="936.8" r="6.3" fill="#3a68e7"/>
<circle cx="1106.3" cy="945.3" r="6.3" fill="#f5006e"/>
<circle cx="1085.3" cy="944.8" r="6.3" fill="#f80067"/>
<circle cx="1006.8" cy="941.8" r="6.3" fill="#ce0094"/>
<circle cx="985.7" cy="949.4" r="6.3" fill="#bc009f"/>
<circle cx="1025.8" cy="935.0" r="6.3" fill="#3868e7"/>
<circle cx="965.0" cy="942.7" r="6.3" fill="#0088fa"/>
<circle cx="1087.9" cy="951.8" r="6.3" fill="#e30082"/>
<circle cx="1033.0" cy="961.8" r="6.3" fill="#ff0052"/>
<circle cx="1035.1" cy="951.4" r="6.3" fill="#565fdf"/>
<circle cx="1042.7" cy="941.0" r="6.3" fill="#595ede"/>
<circle cx="1102.8" cy="945.8" r="6.3" fill="#e00086"/>
<circle cx="1033.7" cy="936.3" r="6.3" fill="#3c67e6"/>
<circle cx="1108.8" cy="945.7" r="6.3" fill="#ff0052"/>
<circle cx="1049.0" cy="953.6" r="6.3" fill="#6856d8"/>
<circle cx="1010.2" cy="945.0" r="6.3" fill="#8740c3"/>
<circle cx="1035.8" cy="940.1" r="6.3" fill="#565fdf"/>
<circle cx="989.0" cy="943.7" r="6.3" fill="#c3009b"/>
<circle cx="1042.9" cy="964.3" r="6.3" fill="#6458da"/>
<circle cx="1015.0" cy="957.6" r="6.3" fill="#a41caa"/>
<circle cx="965.8" cy="953.5" r="6.3" fill="#008bfb"/>
<circle cx="1095.5" cy="944.9" r="6.3" fill="#f30070"/>
<circle cx="1043.6" cy="934.2" r="6.3" fill="#754ed0"/>
<circle cx="1022.8" cy="939.0" r="6.3" fill="#c60099"/>
<circle cx="1114.1" cy="945.0" r="6.3" fill="#ff0051"/>
<circle cx="1069.1" cy="954.0" r="6.3" fill="#ff0051"/>
<circle cx="972.6" cy="952.2" r="6.3" fill="#008afb"/>
<circle cx="1038.4" cy="965.3" r="6.3" fill="#0071ee"/>
<circle cx="1137.9" cy="944.7" r="6.3" fill="#f90066"/>
<circle cx="1045.8" cy="955.0" r="6.3" fill="#7251d3"/>
<circle cx="1039.5" cy="1006.3" r="6.3" fill="#3c67e6"/>
<circle cx="1018.8" cy="1006.5" r="6.3" fill="#0079f4"/>
<circle cx="1034.6" cy="996.8" r="6.3" fill="#4a63e3"/>
<circle cx="964.3" cy="997.5" r="6.3" fill="#8e38bc"/>
<circle cx="1040.5" cy="1010.3" r="6.3" fill="#4066e6"/>
<circle cx="978.1" cy="997.1" r="6.3" fill="#784cce"/>
<circle cx="978.0" cy="1006.9" r="6.3" fill="#8442c5"/>
<circle cx="1036.5" cy="992.1" r="6.3" fill="#6b55d6"/>
<circle cx="1039.3" cy="1002.9" r="6.3" fill="#3f66e6"/>
<circle cx="998.0" cy="983.7" r="6.3" fill="#d7008d"/>
<circle cx="1032.5" cy="990.5" r="6.3" fill="#007df6"/>
<circle cx="917.2" cy="1001.2" r="6.3" fill="#0087fa"/>
<circle cx="979.8" cy="1008.9" r="6.3" fill="#8641c4"/>
<circle cx="1027.4" cy="1007.0" r="6.3" fill="#5d5cdd"/>
<circle cx="930.5" cy="1000.9" r="6.3" fill="#a11fab"/>
<circle cx="948.1" cy="1007.0" r="6.3" fill="#9134b9"/>
<circle cx="1008.9" cy="997.1" r="6.3" fill="#db008a"/>
<circle cx="999.9" cy="1016.1" r="6.3" fill="#be009e"/>
<circle cx="1044.1" cy="1012.6" r="6.3" fill="#4465e5"/>
<circle cx="966.6" cy="1000.4" r="6.3" fill="#8a3cc0"/>
<circle cx="1000.3" cy="988.0" r="6.3" fill="#c3009b"/>
<circle cx="967.0" cy="1008.6" r="6.3" fill="#8f37bc"/>
<circle cx="969.3" cy="1000.3" r="6.3" fill="#8c3abe"/>
<circle cx="910.0" cy="1001.2" r="6.3" fill="#008bfb"/>
<circle cx="957.1" cy="999.3" r="6.3" fill="#a41caa"/>
<circle cx="1023.4" cy="1009.8" r="6.3" fill="#ff0051"/>
<circle cx="974.9" cy="1005.5" r="6.3" fill="#8443c6"/>
<circle cx="946.3" cy="1006.1" r="6.3" fill="#9134b9"/>
<circle cx="1007.9" cy="989.9" r="6.3" fill="#ff0057"/>
<circle cx="984.9" cy="987.8" r="6.3" fill="#972bb2"/>
<circle cx="998.5" cy="1017.2" r="6.3" fill="#bc009f"/>
<circle cx="993.5" cy="1014.1" r="6.3" fill="#c4009b"/>
<circle cx="911.9" cy="1001.2" r="6.3" fill="#008bfb"/>
<circle cx="945.3" cy="1002.0" r="6.3" fill="#9b24ad"/>
<circle cx="1037.2" cy="1009.7" r="6.3" fill="#605adb"/>
<circle cx="993.0" cy="1005.2" r="6.3" fill="#c3009b"/>
<circle cx="959.6" cy="1002.7" r="6.3" fill="#8442c5"/>
<circle cx="1011.3" cy="1012.3" r="6.3" fill="#007cf5"/>
<circle cx="1042.0" cy="991.7" r="6.3" fill="#6757d8"/>
<circle cx="1041.9" cy="999.0" r="6.3" fill="#4764e4"/>
<circle cx="979.2" cy="1005.7" r="6.3" fill="#774ed0"/>
<circle cx="1026.3" cy="1000.0" r="6.3" fill="#3b68e7"/>
<circle cx="943.5" cy="1000.0" r="6.3" fill="#7c4acc"/>
<circle cx="1037.3" cy="996.1" r="6.3" fill="#196deb"/>
<circle cx="1063.3" cy="1000.4" r="6.3" fill="#ff0051"/>
<circle cx="949.3" cy="994.2" r="6.3" fill="#952db4"/>
<circle cx="1060.9" cy="1002.3" r="6.3" fill="#ff0056"/>
<circle cx="1047.7" cy="990.6" r="6.3" fill="#3569e8"/>
<circle cx="972.3" cy="1008.5" r="6.3" fill="#a21eaa"/>
<circle cx="1011.2" cy="997.9" r="6.3" fill="#ff0051"/>
<circle cx="1042.6" cy="987.0" r="6.3" fill="#2c6be9"/>
<circle cx="1008.7" cy="993.9" r="6.3" fill="#ff0056"/>
<circle cx="1048.2" cy="994.5" r="6.3" fill="#326ae8"/>
<circle cx="971.8" cy="1004.9" r="6.3" fill="#a41ca9"/>
<circle cx="953.6" cy="998.2" r="6.3" fill="#7a4bcd"/>
<circle cx="1056.1" cy="999.4" r="6.3" fill="#3968e7"/>
<circle cx="964.9" cy="1004.3" r="6.3" fill="#942fb5"/>
<circle cx="990.2" cy="996.0" r="6.3" fill="#cf0093"/>
<circle cx="1018.7" cy="992.4" r="6.3" fill="#ff0051"/>
<circle cx="975.1" cy="999.2" r="6.3" fill="#9f20ab"/>
<circle cx="972.4" cy="995.8" r="6.3" fill="#a020ab"/>
<circle cx="972.4" cy="1002.3" r="6.3" fill="#a01fab"/>
<circle cx="973.9" cy="1002.1" r="6.3" fill="#9c23ad"/>
<circle cx="1034.8" cy="1004.2" r="6.3" fill="#3868e7"/>
<circle cx="1006.2" cy="1009.5" r="6.3" fill="#db008a"/>
<circle cx="1018.9" cy="996.6" r="6.3" fill="#ff0055"/>
<circle cx="940.2" cy="998.3" r="6.3" fill="#9430b6"/>
<circle cx="979.2" cy="1001.8" r="6.3" fill="#7b4acc"/>
<circle cx="1016.1" cy="1003.0" r="6.3" fill="#cf0093"/>
<circle cx="982.6" cy="1006.3" r="6.3" fill="#db008a"/>
<circle cx="923.2" cy="1001.2" r="6.3" fill="#008bfb"/>
<circle cx="971.8" cy="999.4" r="6.3" fill="#972bb2"/>
<circle cx="948.1" cy="1003.3" r="6.3" fill="#9f20ab"/>
<circle cx="1045.5" cy="989.5" r="6.3" fill="#4864e4"/>
<circle cx="932.7" cy="1000.3" r="6.3" fill="#8145c8"/>
<circle cx="977.0" cy="988.7" r="6.3" fill="#8146c8"/>
<circle cx="1011.2" cy="1005.2" r="6.3" fill="#0080f7"/>
<circle cx="1021.1" cy="1010.1" r="6.3" fill="#0080f7"/>
<circle cx="993.4" cy="998.7" r="6.3" fill="#d5008f"/>
<circle cx="958.5" cy="999.2" r="6.3" fill="#8442c6"/>
<circle cx="1032.4" cy="1000.7" r="6.3" fill="#3a68e7"/>
<circle cx="992.7" cy="1009.1" r="6.3" fill="#d30090"/>
<circle cx="1029.2" cy="1010.5" r="6.3" fill="#ff0055"/>
<circle cx="954.4" cy="995.6" r="6.3" fill="#8641c4"/>
<circle cx="1046.7" cy="997.9" r="6.3" fill="#4365e5"/>
<circle cx="1049.4" cy="1006.7" r="6.3" fill="#1d6deb"/>
<circle cx="1058.2" cy="1000.8" r="6.3" fill="#3569e8"/>
<circle cx="979.8" cy="991.8" r="6.3" fill="#8740c3"/>
<circle cx="988.5" cy="1005.7" r="6.3" fill="#c4009a"/>
<circle cx="1014.4" cy="1010.7" r="6.3" fill="#d00092"/>
<circle cx="1039.3" cy="995.9" r="6.3" fill="#4066e6"/>
<circle cx="1023.7" cy="1006.1" r="6.3" fill="#007af4"/>
<circle cx="990.7" cy="990.1" r="6.3" fill="#a41caa"/>
<circle cx="984.6" cy="995.4" r="6.3" fill="#9b23ad"/>
<circle cx="1008.7" cy="1007.9" r="6.3" fill="#d6008e"/>
<circle cx="1027.3" cy="1010.1" r="6.3" fill="#007cf5"/>
<circle cx="987.6" cy="984.2" r="6.3" fill="#c60099"/>
<circle cx="1050.6" cy="995.0" r="6.3" fill="#3569e8"/>
<circle cx="1047.7" cy="1001.1" r="6.3" fill="#3e67e6"/>
<circle cx="1005.3" cy="1014.0" r="6.3" fill="#c60099"/>
<circle cx="992.6" cy="1001.9" r="6.3" fill="#d10091"/>
<circle cx="967.7" cy="993.2" r="6.3" fill="#9332b7"/>
<circle cx="915.4" cy="1001.2" r="6.3" fill="#0086fa"/>
<circle cx="1057.5" cy="997.3" r="6.3" fill="#3968e7"/>
<circle cx="950.6" cy="995.4" r="6.3" fill="#9829b1"/>
<circle cx="1058.7" cy="1004.7" r="6.3" fill="#3369e8"/>
<circle cx="1006.4" cy="992.8" r="6.3" fill="#c3009b"/>
<circle cx="980.1" cy="997.3" r="6.3" fill="#764ed0"/>
<circle cx="1065.1" cy="1000.3" r="6.3" fill="#ff0051"/>
<circle cx="946.0" cy="998.1" r="6.3" fill="#9f20ab"/>
<circle cx="1007.8" cy="1004.7" r="6.3" fill="#007bf4"/>
<circle cx="993.3" cy="983.2" r="6.3" fill="#c70098"/>
<circle cx="940.8" cy="1004.4" r="6.3" fill="#8d39bd"/>
<circle cx="974.4" cy="1010.6" r="6.3" fill="#a11fab"/>
<circle cx="1008.6" cy="1012.3" r="6.3" fill="#ff0052"/>
<circle cx="1024.6" cy="1003.0" r="6.3" fill="#6459da"/>
<circle cx="989.6" cy="986.1" r="6.3" fill="#d10091"/>
<circle cx="997.5" cy="1008.8" r="6.3" fill="#d7008d"/>
<circle cx="995.1" cy="995.5" r="6.3" fill="#c3009b"/>
<circle cx="1065.8" cy="1002.6" r="6.3" fill="#ff0051"/>
<circle cx="1021.2" cy="991.6" r="6.3" fill="#007bf4"/>
<circle cx="987.3" cy="1009.5" r="6.3" fill="#d40090"/>
<circle cx="1052.8" cy="1009.6" r="6.3" fill="#3269e8"/>
<circle cx="1013.7" cy="999.2" r="6.3" fill="#d6008e"/>
<circle cx="946.1" cy="995.4" r="6.3" fill="#a31eaa"/>
<circle cx="1047.4" cy="1005.1" r="6.3" fill="#3968e7"/>
<circle cx="956.5" cy="992.2" r="6.3" fill="#962db3"/>
<circle cx="987.5" cy="1017.4" r="6.3" fill="#d30090"/>
<circle cx="982.4" cy="1002.5" r="6.3" fill="#9b24ae"/>
<circle cx="995.9" cy="1012.9" r="6.3" fill="#bb009f"/>
<circle cx="1053.0" cy="1001.5" r="6.3" fill="#4266e5"/>
<circle cx="995.2" cy="1017.8" r="6.3" fill="#bb009f"/>
<circle cx="951.9" cy="999.6" r="6.3" fill="#794cce"/>
<circle cx="1041.9" cy="1003.2" r="6.3" fill="#4565e5"/>
<circle cx="953.3" cy="1006.5" r="6.3" fill="#8b3cc0"/>
<circle cx="1016.4" cy="1010.8" r="6.3" fill="#d5008f"/>
<circle cx="1000.9" cy="992.7" r="6.3" fill="#bf009d"/>
<circle cx="1018.7" cy="1002.8" r="6.3" fill="#007ef6"/>
<circle cx="990.5" cy="1018.2" r="6.3" fill="#d30090"/>
<circle cx="992.8" cy="1016.7" r="6.3" fill="#d20091"/>
<circle cx="954.2" cy="1002.2" r="6.3" fill="#9b23ad"/>
<circle cx="1014.1" cy="991.3" r="6.3" fill="#ff0051"/>
<circle cx="997.4" cy="1005.2" r="6.3" fill="#cf0093"/>
<circle cx="951.4" cy="992.3" r="6.3" fill="#9b24ad"/>
<circle cx="954.4" cy="1009.4" r="6.3" fill="#8f37bc"/>
<circle cx="1045.0" cy="1003.4" r="6.3" fill="#4465e5"/>
<circle cx="966.2" cy="1005.4" r="6.3" fill="#a31daa"/>
<circle cx="1034.1" cy="1008.7" r="6.3" fill="#ff0058"/>
<circle cx="1059.8" cy="1000.2" r="6.3" fill="#ff0051"/>
<circle cx="1044.4" cy="992.3" r="6.3" fill="#4a63e3"/>
<circle cx="1013.3" cy="1007.2" r="6.3" fill="#d9008b"/>
<circle cx="1023.5" cy="1000.0" r="6.3" fill="#326ae8"/>
<circle cx="1034.1" cy="989.3" r="6.3" fill="#ff0051"/>
<circle cx="1032.6" cy="995.0" r="6.3" fill="#6856d8"/>
<circle cx="997.8" cy="999.3" r="6.3" fill="#9829b1"/>
<circle cx="994.9" cy="986.8" r="6.3" fill="#c1009c"/>
<circle cx="1041.6" cy="1014.3" r="6.3" fill="#2a6bea"/>
<circle cx="938.6" cy="1002.9" r="6.3" fill="#9c23ad"/>
<circle cx="985.9" cy="1003.4" r="6.3" fill="#bf009d"/>
<circle cx="1021.6" cy="996.1" r="6.3" fill="#ff0057"/>
<circle cx="1001.4" cy="1002.4" r="6.3" fill="#9a25ae"/>
<circle cx="998.5" cy="995.4" r="6.3" fill="#9829b1"/>
<circle cx="957.0" cy="1009.5" r="6.3" fill="#8d39bd"/>
<circle cx="956.3" cy="995.6" r="6.3" fill="#9b23ad"/>
<circle cx="998.5" cy="991.3" r="6.3" fill="#c70099"/>
<circle cx="1003.5" cy="1015.1" r="6.3" fill="#bb009f"/>
<circle cx="1052.8" cy="993.0" r="6.3" fill="#286bea"/>
<circle cx="1003.8" cy="997.7" r="6.3" fill="#a21eaa"/>
<circle cx="984.5" cy="999.4" r="6.3" fill="#d9008c"/>
<circle cx="995.2" cy="997.8" r="6.3" fill="#9a25ae"/>
<circle cx="990.4" cy="1006.9" r="6.3" fill="#c4009a"/>
<circle cx="1005.7" cy="987.9" r="6.3" fill="#ba00a0"/>
<circle cx="1031.3" cy="997.7" r="6.3" fill="#236cea"/>
<circle cx="1054.6" cy="995.8" r="6.3" fill="#3b68e7"/>
<circle cx="1005.7" cy="998.8" r="6.3" fill="#a41caa"/>
<circle cx="990.5" cy="999.8" r="6.3" fill="#c1009c"/>
<circle cx="990.9" cy="1014.2" r="6.3" fill="#c3009b"/>
<circle cx="998.2" cy="1002.1" r="6.3" fill="#972ab2"/>
<circle cx="1005.2" cy="996.2" r="6.3" fill="#d5008f"/>
<circle cx="951.4" cy="1002.6" r="6.3" fill="#9e21ac"/>
<circle cx="962.2" cy="1002.7" r="6.3" fill="#9d21ac"/>
<circle cx="938.8" cy="998.9" r="6.3" fill="#a21eaa"/>
<circle cx="958.4" cy="996.2" r="6.3" fill="#962db4"/>
<circle cx="1029.2" cy="995.4" r="6.3" fill="#4565e4"/>
<circle cx="982.6" cy="999.1" r="6.3" fill="#9a25ae"/>
<circle cx="969.7" cy="993.0" r="6.3" fill="#9b24ad"/>
<circle cx="1026.8" cy="992.4" r="6.3" fill="#575fdf"/>
<circle cx="983.1" cy="995.5" r="6.3" fill="#9e21ac"/>
<circle cx="943.0" cy="997.1" r="6.3" fill="#9a25ae"/>
<circle cx="1036.7" cy="1002.4" r="6.3" fill="#3669e8"/>
<circle cx="961.7" cy="998.7" r="6.3" fill="#7d49cb"/>
<circle cx="989.5" cy="1010.3" r="6.3" fill="#b801a1"/>
<circle cx="1010.5" cy="991.1" r="6.3" fill="#ff0052"/>
<circle cx="1046.8" cy="1007.4" r="6.3" fill="#4664e4"/>
<circle cx="981.8" cy="1010.2" r="6.3" fill="#9828b0"/>
<circle cx="971.4" cy="992.5" r="6.3" fill="#9c22ac"/>
<circle cx="1006.6" cy="1006.0" r="6.3" fill="#da008b"/>
<circle cx="1039.7" cy="987.5" r="6.3" fill="#3b68e7"/>
<circle cx="1044.5" cy="998.6" r="6.3" fill="#2f6ae9"/>
<circle cx="1026.7" cy="995.5" r="6.3" fill="#4764e4"/>
<circle cx="1014.2" cy="995.1" r="6.3" fill="#ff0054"/>
<circle cx="1053.1" cy="1004.4" r="6.3" fill="#3f67e6"/>
<circle cx="1055.6" cy="1003.6" r="6.3" fill="#4964e3"/>
<circle cx="1029.8" cy="1003.8" r="6.3" fill="#3c67e7"/>
<circle cx="1032.7" cy="1003.8" r="6.3" fill="#166eeb"/>
<circle cx="982.5" cy="986.9" r="6.3" fill="#9a26af"/>
<circle cx="966.3" cy="996.2" r="6.3" fill="#962db4"/>
<circle cx="982.8" cy="990.0" r="6.3" fill="#a21eaa"/>
<circle cx="1002.9" cy="986.7" r="6.3" fill="#c2009b"/>
<circle cx="982.6" cy="993.4" r="6.3" fill="#9c23ad"/>
<circle cx="1029.6" cy="999.3" r="6.3" fill="#316ae9"/>
<circle cx="995.4" cy="1002.7" r="6.3" fill="#cf0093"/>
<circle cx="982.1" cy="1013.7" r="6.3" fill="#9c23ad"/>
<circle cx="919.9" cy="1001.2" r="6.3" fill="#0089fa"/>
<circle cx="1000.3" cy="1012.9" r="6.3" fill="#c70098"/>
<circle cx="1028.7" cy="991.6" r="6.3" fill="#0075f1"/>
<circle cx="1068.3" cy="1001.5" r="6.3" fill="#ff0053"/>
<circle cx="964.2" cy="992.8" r="6.3" fill="#a31daa"/>
<circle cx="970.3" cy="1005.2" r="6.3" fill="#9232b8"/>
<circle cx="954.0" cy="990.9" r="6.3" fill="#a31daa"/>
<circle cx="984.7" cy="992.5" r="6.3" fill="#972bb2"/>
<circle cx="1018.3" cy="999.1" r="6.3" fill="#ff0055"/>
<circle cx="956.0" cy="1006.7" r="6.3" fill="#8f37bc"/>
<circle cx="964.9" cy="1001.1" r="6.3" fill="#893dc1"/>
<circle cx="990.2" cy="1004.5" r="6.3" fill="#be009e"/>
<circle cx="959.2" cy="991.9" r="6.3" fill="#a41daa"/>
<circle cx="1039.5" cy="999.9" r="6.3" fill="#246cea"/>
<circle cx="976.6" cy="992.9" r="6.3" fill="#8145c8"/>
<circle cx="989.5" cy="992.6" r="6.3" fill="#d00092"/>
<circle cx="962.1" cy="1005.7" r="6.3" fill="#9c23ad"/>
<circle cx="948.1" cy="1000.8" r="6.3" fill="#9926af"/>
<circle cx="1050.8" cy="992.6" r="6.3" fill="#166eec"/>
<circle cx="974.7" cy="994.1" r="6.3" fill="#8641c4"/>
<circle cx="1021.9" cy="999.3" r="6.3" fill="#cf0093"/>
<circle cx="1008.0" cy="1000.8" r="6.3" fill="#da008b"/>
<circle cx="1003.1" cy="993.6" r="6.3" fill="#c5009a"/>
<circle cx="962.3" cy="996.1" r="6.3" fill="#9a26af"/>
<circle cx="998.5" cy="1013.3" r="6.3" fill="#c1009c"/>
<circle cx="1000.3" cy="995.5" r="6.3" fill="#d6008e"/>
<circle cx="992.8" cy="987.0" r="6.3" fill="#9928b0"/>
<circle cx="1006.4" cy="1003.4" r="6.3" fill="#db008a"/>
<circle cx="1050.6" cy="999.1" r="6.3" fill="#1e6deb"/>
<circle cx="1000.5" cy="1005.0" r="6.3" fill="#962cb3"/>
<circle cx="949.0" cy="997.7" r="6.3" fill="#962db4"/>
<circle cx="1052.1" cy="997.3" r="6.3" fill="#216ceb"/>
<circle cx="1015.6" cy="999.0" r="6.3" fill="#d20091"/>
<circle cx="1039.9" cy="991.1" r="6.3" fill="#276cea"/>
<circle cx="959.5" cy="1008.7" r="6.3" fill="#962cb3"/>
<circle cx="1003.9" cy="1007.2" r="6.3" fill="#d5008f"/>
<circle cx="961.5" cy="1009.7" r="6.3" fill="#952eb4"/>
<circle cx="962.1" cy="991.8" r="6.3" fill="#9e21ac"/>
<circle cx="987.7" cy="994.5" r="6.3" fill="#972bb2"/>
<circle cx="1000.3" cy="985.2" r="6.3" fill="#c5009a"/>
<circle cx="987.3" cy="1013.3" r="6.3" fill="#d30090"/>
<circle cx="1047.6" cy="1011.0" r="6.3" fill="#186deb"/>
<circle cx="975.3" cy="991.4" r="6.3" fill="#8343c6"/>
<circle cx="925.9" cy="1001.2" r="6.3" fill="#0088fa"/>
<circle cx="970.0" cy="996.4" r="6.3" fill="#972bb2"/>
<circle cx="987.1" cy="991.1" r="6.3" fill="#9e21ac"/>
<circle cx="988.1" cy="987.5" r="6.3" fill="#952db4"/>
<circle cx="996.0" cy="991.7" r="6.3" fill="#d8008d"/>
<circle cx="985.1" cy="1006.9" r="6.3" fill="#ce0094"/>
<circle cx="1015.5" cy="992.4" r="6.3" fill="#ff0051"/>
<circle cx="969.1" cy="1007.7" r="6.3" fill="#8a3cc0"/>
<circle cx="980.6" cy="988.2" r="6.3" fill="#7b4bcd"/>
<circle cx="1003.4" cy="1010.7" r="6.3" fill="#bc009f"/>
<circle cx="996.0" cy="984.3" r="6.3" fill="#d4008f"/>
<circle cx="957.1" cy="1002.9" r="6.3" fill="#a01fab"/>
<circle cx="1010.4" cy="994.8" r="6.3" fill="#ff0056"/>
<circle cx="1001.2" cy="1008.6" r="6.3" fill="#be009e"/>
<circle cx="1044.8" cy="1010.1" r="6.3" fill="#4565e4"/>
<circle cx="977.1" cy="1000.8" r="6.3" fill="#7b4acc"/>
<circle cx="951.9" cy="1008.4" r="6.3" fill="#962cb3"/>
<circle cx="1011.5" cy="1008.2" r="6.3" fill="#da008b"/>
<circle cx="978.0" cy="1003.3" r="6.3" fill="#7b4acc"/>
<circle cx="1031.3" cy="1008.3" r="6.3" fill="#007ef6"/>
<circle cx="977.1" cy="1011.0" r="6.3" fill="#8343c6"/>
<circle cx="995.6" cy="1006.7" r="6.3" fill="#cf0093"/>
<circle cx="996.2" cy="1010.4" r="6.3" fill="#ba00a0"/>
<circle cx="987.6" cy="1002.0" r="6.3" fill="#d30090"/>
<circle cx="1063.1" cy="1002.3" r="6.3" fill="#ff0051"/>
<circle cx="1045.2" cy="996.1" r="6.3" fill="#4964e3"/>
<circle cx="935.3" cy="999.4" r="6.3" fill="#a020ab"/>
<circle cx="941.1" cy="1000.4" r="6.3" fill="#a21eaa"/>
<circle cx="1050.7" cy="1003.3" r="6.3" fill="#4565e4"/>
<circle cx="993.6" cy="991.6" r="6.3" fill="#9a25ae"/>
<circle cx="993.2" cy="994.1" r="6.3" fill="#bd009e"/>
<circle cx="990.5" cy="983.5" r="6.3" fill="#d5008f"/>
<circle cx="984.6" cy="1014.3" r="6.3" fill="#972bb3"/>
<circle cx="987.9" cy="998.1" r="6.3" fill="#bc009f"/>
<circle cx="1042.1" cy="1006.2" r="6.3" fill="#4266e5"/>
<circle cx="958.4" cy="1005.0" r="6.3" fill="#8a3cc0"/>
<circle cx="1035.3" cy="1012.7" r="6.3" fill="#ff0051"/>
<circle cx="1042.2" cy="995.5" r="6.3" fill="#326ae8"/>
<circle cx="1054.9" cy="1007.1" r="6.3" fill="#3768e7"/>
<circle cx="1021.2" cy="1003.7" r="6.3" fill="#ff0051"/>
<circle cx="1050.3" cy="1010.8" r="6.3" fill="#4764e4"/>
<circle cx="985.4" cy="1010.9" r="6.3" fill="#db008a"/>
<circle cx="1044.9" cy="1006.1" r="6.3" fill="#3f67e6"/>
<circle cx="1030.1" cy="1006.3" r="6.3" fill="#6459da"/>
<circle cx="1037.3" cy="1013.1" r="6.3" fill="#007df6"/>
<circle cx="1002.9" cy="990.1" r="6.3" fill="#b900a0"/>
<circle cx="1034.3" cy="994.1" r="6.3" fill="#6558d9"/>
<circle cx="1002.5" cy="1000.4" r="6.3" fill="#9926af"/>
<circle cx="936.3" cy="1002.4" r="6.3" fill="#9829b0"/>
<circle cx="1034.4" cy="1000.8" r="6.3" fill="#3e67e6"/>
<circle cx="1023.5" cy="991.6" r="6.3" fill="#625adb"/>
<circle cx="984.3" cy="985.2" r="6.3" fill="#9b24ad"/>
<circle cx="1003.2" cy="1003.9" r="6.3" fill="#9926af"/>
<circle cx="1016.1" cy="1005.9" r="6.3" fill="#ff0051"/>
<circle cx="1036.3" cy="998.5" r="6.3" fill="#4565e5"/>
<circle cx="1000.4" cy="998.9" r="6.3" fill="#9e21ac"/>
<circle cx="1014.1" cy="1003.9" r="6.3" fill="#007ef6"/>
<circle cx="1011.8" cy="1001.1" r="6.3" fill="#d10091"/>
<circle cx="980.0" cy="994.1" r="6.3" fill="#764ed0"/>
<circle cx="998.1" cy="988.2" r="6.3" fill="#be009e"/>
<circle cx="1016.0" cy="995.3" r="6.3" fill="#ff0051"/>
<circle cx="1032.6" cy="1010.9" r="6.3" fill="#ff0056"/>
<circle cx="1019.1" cy="1010.0" r="6.3" fill="#007ff6"/>
<circle cx="942.9" cy="1003.7" r="6.3" fill="#962db3"/>
<circle cx="1036.5" cy="1006.6" r="6.3" fill="#5b5ddd"/>
<circle cx="1042.9" cy="1011.0" r="6.3" fill="#3b67e7"/>
<circle cx="964.6" cy="1009.4" r="6.3" fill="#9232b7"/>
<circle cx="1039.8" cy="1013.5" r="6.3" fill="#6d54d5"/>
<circle cx="950.7" cy="1005.0" r="6.3" fill="#8e38bc"/>
<circle cx="932.8" cy="1001.5" r="6.3" fill="#8046c9"/>
<circle cx="980.6" cy="1011.9" r="6.3" fill="#7c4acc"/>
<circle cx="1026.7" cy="1003.3" r="6.3" fill="#5f5bdc"/>
<circle cx="1037.1" cy="989.9" r="6.3" fill="#0079f3"/>
<circle cx="1024.6" cy="996.1" r="6.3" fill="#6d54d5"/>
<circle cx="1021.1" cy="1007.2" r="6.3" fill="#d5008f"/>
<circle cx="927.4" cy="1001.2" r="6.3" fill="#008bfb"/>
<circle cx="995.5" cy="1055.8" r="6.3" fill="#fe005c"/>
<circle cx="1015.2" cy="1050.9" r="6.3" fill="#ff0057"/>
<circle cx="977.6" cy="1051.3" r="6.3" fill="#7b4acd"/>
<circle cx="1008.8" cy="1050.6" r="6.3" fill="#e00086"/>
<circle cx="969.0" cy="1052.4" r="6.3" fill="#7e48cb"/>
<circle cx="1005.1" cy="1068.4" r="6.3" fill="#ff0058"/>
<circle cx="999.9" cy="1046.1" r="6.3" fill="#fe005c"/>
<circle cx="950.8" cy="1051.4" r="6.3" fill="#9f20ac"/>
<circle cx="1084.3" cy="1055.2" r="6.3" fill="#0079f3"/>
<circle cx="1100.1" cy="1051.9" r="6.3" fill="#0074f0"/>
<circle cx="1003.2" cy="1048.8" r="6.3" fill="#e00086"/>
<circle cx="1079.4" cy="1055.2" r="6.3" fill="#007bf4"/>
<circle cx="1003.2" cy="1038.0" r="6.3" fill="#ff0051"/>
<circle cx="1041.8" cy="1054.6" r="6.3" fill="#0070ed"/>
<circle cx="1008.7" cy="1055.4" r="6.3" fill="#fe005c"/>
<circle cx="968.7" cy="1054.9" r="6.3" fill="#7350d2"/>
<circle cx="1002.5" cy="1041.5" r="6.3" fill="#ab15a7"/>
<circle cx="1057.0" cy="1055.4" r="6.3" fill="#007df6"/>
<circle cx="1063.5" cy="1050.2" r="6.3" fill="#007ff6"/>
<circle cx="987.0" cy="1052.2" r="6.3" fill="#b507a2"/>
<circle cx="1110.5" cy="1054.7" r="6.3" fill="#0074f0"/>
<circle cx="1102.6" cy="1054.4" r="6.3" fill="#0074f0"/>
<circle cx="951.2" cy="1054.5" r="6.3" fill="#962cb3"/>
<circle cx="1105.2" cy="1052.1" r="6.3" fill="#007ff7"/>
<circle cx="1002.8" cy="1035.8" r="6.3" fill="#ff0051"/>
<circle cx="1050.1" cy="1051.0" r="6.3" fill="#007df5"/>
<circle cx="1020.6" cy="1052.1" r="6.3" fill="#ff0051"/>
<circle cx="1018.5" cy="1051.1" r="6.3" fill="#ff0051"/>
<circle cx="998.2" cy="1049.9" r="6.3" fill="#e00086"/>
<circle cx="1053.0" cy="1050.5" r="6.3" fill="#007ff7"/>
<circle cx="1046.9" cy="1052.0" r="6.3" fill="#007cf5"/>
<circle cx="1012.9" cy="1054.7" r="6.3" fill="#d5008f"/>
<circle cx="958.0" cy="1051.4" r="6.3" fill="#9828b0"/>
<circle cx="982.8" cy="1055.3" r="6.3" fill="#c1009c"/>
<circle cx="1039.8" cy="1051.5" r="6.3" fill="#0072ee"/>
<circle cx="1008.7" cy="1043.6" r="6.3" fill="#d5008f"/>
<circle cx="995.7" cy="1052.8" r="6.3" fill="#fe005c"/>
<circle cx="1000.3" cy="1041.9" r="6.3" fill="#ff0051"/>
<circle cx="1015.9" cy="1053.2" r="6.3" fill="#ff0052"/>
<circle cx="1097.6" cy="1054.1" r="6.3" fill="#0075f1"/>
<circle cx="1006.0" cy="1037.1" r="6.3" fill="#ff0051"/>
<circle cx="1080.5" cy="1054.7" r="6.3" fill="#0076f2"/>
<circle cx="1063.7" cy="1054.9" r="6.3" fill="#0078f3"/>
<circle cx="1002.1" cy="1065.8" r="6.3" fill="#ff0058"/>
<circle cx="978.7" cy="1051.2" r="6.3" fill="#9927af"/>
<circle cx="997.0" cy="1057.2" r="6.3" fill="#d5008f"/>
<circle cx="1098.8" cy="1053.7" r="6.3" fill="#0078f3"/>
<circle cx="946.2" cy="1054.7" r="6.3" fill="#a31daa"/>
<circle cx="1007.6" cy="1046.9" r="6.3" fill="#fe005c"/>
<circle cx="1059.7" cy="1050.7" r="6.3" fill="#0078f3"/>
<circle cx="1001.0" cy="1038.3" r="6.3" fill="#ff0051"/>
<circle cx="1005.8" cy="1064.1" r="6.3" fill="#ff0058"/>
<circle cx="1045.4" cy="1051.2" r="6.3" fill="#007bf4"/>
<circle cx="1002.5" cy="1046.3" r="6.3" fill="#d5008f"/>
<circle cx="1000.6" cy="1049.5" r="6.3" fill="#e00086"/>
<circle cx="1092.2" cy="1053.9" r="6.3" fill="#0079f3"/>
<circle cx="971.7" cy="1051.8" r="6.3" fill="#7c49cc"/>
<circle cx="977.3" cy="1054.2" r="6.3" fill="#615adb"/>
<circle cx="1070.2" cy="1050.7" r="6.3" fill="#0079f3"/>
<circle cx="961.5" cy="1051.2" r="6.3" fill="#a020ab"/>
<circle cx="998.4" cy="1045.8" r="6.3" fill="#d5008f"/>
<circle cx="966.0" cy="1052.1" r="6.3" fill="#6e53d5"/>
<circle cx="953.5" cy="1051.0" r="6.3" fill="#9829b1"/>
<circle cx="1081.2" cy="1051.0" r="6.3" fill="#0076f1"/>
<circle cx="1010.0" cy="1061.9" r="6.3" fill="#ff0058"/>
<circle cx="1110.6" cy="1052.8" r="6.3" fill="#0079f3"/>
<circle cx="1005.2" cy="1047.5" r="6.3" fill="#e00086"/>
<circle cx="1008.0" cy="1040.4" r="6.3" fill="#ab15a7"/>
<circle cx="992.7" cy="1053.2" r="6.3" fill="#972bb2"/>
<circle cx="1010.0" cy="1047.5" r="6.3" fill="#d5008f"/>
<circle cx="1003.0" cy="1056.4" r="6.3" fill="#d5008f"/>
<circle cx="1000.2" cy="1057.2" r="6.3" fill="#d5008f"/>
<circle cx="1007.7" cy="1062.1" r="6.3" fill="#ff0058"/>
<circle cx="948.3" cy="1052.2" r="6.3" fill="#9c23ad"/>
<circle cx="992.2" cy="1049.4" r="6.3" fill="#d20091"/>
<circle cx="1083.6" cy="1051.2" r="6.3" fill="#0076f2"/>
<circle cx="1089.6" cy="1054.1" r="6.3" fill="#007cf5"/>
<circle cx="964.6" cy="1054.9" r="6.3" fill="#7d49cb"/>
<circle cx="1002.3" cy="1062.6" r="6.3" fill="#ff0058"/>
<circle cx="1050.3" cy="1055.4" r="6.3" fill="#0080f7"/>
<circle cx="994.7" cy="1049.4" r="6.3" fill="#fe005c"/>
<circle cx="992.2" cy="1057.3" r="6.3" fill="#008bfb"/>
<circle cx="1014.0" cy="1048.3" r="6.3" fill="#e00086"/>
<circle cx="1104.2" cy="1054.3" r="6.3" fill="#0079f3"/>
<circle cx="955.5" cy="1055.3" r="6.3" fill="#9b24ad"/>
<circle cx="1068.9" cy="1050.8" r="6.3" fill="#0077f2"/>
<circle cx="987.8" cy="1054.0" r="6.3" fill="#b802a1"/>
<circle cx="1106.9" cy="1054.0" r="6.3" fill="#007ff7"/>
<circle cx="1037.0" cy="1055.0" r="6.3" fill="#0077f2"/>
<circle cx="1021.2" cy="1054.2" r="6.3" fill="#ff0055"/>
<circle cx="1042.1" cy="1051.1" r="6.3" fill="#007af4"/>
<circle cx="971.2" cy="1055.2" r="6.3" fill="#7b4acd"/>
<circle cx="989.9" cy="1051.0" r="6.3" fill="#b20da4"/>
<circle cx="1086.7" cy="1050.8" r="6.3" fill="#0079f3"/>
<circle cx="1012.7" cy="1051.6" r="6.3" fill="#fe005c"/>
<circle cx="1000.4" cy="1053.1" r="6.3" fill="#d5008f"/>
<circle cx="994.3" cy="1060.1" r="6.3" fill="#fe005c"/>
<circle cx="1101.5" cy="1052.4" r="6.3" fill="#0072ef"/>
<circle cx="1018.5" cy="1055.5" r="6.3" fill="#ff0051"/>
<circle cx="1000.8" cy="1063.1" r="6.3" fill="#bb00a0"/>
<circle cx="998.3" cy="1064.6" r="6.3" fill="#bb00a0"/>
<circle cx="978.8" cy="1054.7" r="6.3" fill="#ba00a0"/>
<circle cx="1005.7" cy="1061.8" r="6.3" fill="#ff0058"/>
<circle cx="1013.9" cy="1058.3" r="6.3" fill="#e00086"/>
<circle cx="965.8" cy="1054.6" r="6.3" fill="#784dcf"/>
<circle cx="990.2" cy="1055.5" r="6.3" fill="#b506a2"/>
<circle cx="963.6" cy="1052.2" r="6.3" fill="#794cce"/>
<circle cx="1005.7" cy="1051.7" r="6.3" fill="#e00086"/>
<circle cx="984.3" cy="1054.2" r="6.3" fill="#bf009d"/>
<circle cx="997.1" cy="1041.9" r="6.3" fill="#ff0051"/>
<circle cx="998.0" cy="1053.6" r="6.3" fill="#fe005c"/>
<circle cx="1002.6" cy="1059.9" r="6.3" fill="#e00086"/>
<circle cx="1097.1" cy="1051.0" r="6.3" fill="#0070ed"/>
<circle cx="1067.4" cy="1054.5" r="6.3" fill="#0078f3"/>
<circle cx="1070.8" cy="1054.3" r="6.3" fill="#007af4"/>
<circle cx="1005.5" cy="1058.5" r="6.3" fill="#d5008f"/>
<circle cx="1088.8" cy="1051.7" r="6.3" fill="#007df5"/>
<circle cx="1075.3" cy="1050.6" r="6.3" fill="#0079f3"/>
<circle cx="1052.7" cy="1055.2" r="6.3" fill="#0075f0"/>
<circle cx="1047.6" cy="1054.7" r="6.3" fill="#0080f7"/>
<circle cx="1073.7" cy="1050.9" r="6.3" fill="#007ef6"/>
<circle cx="1000.8" cy="1068.0" r="6.3" fill="#ff0058"/>
<circle cx="1058.2" cy="1051.1" r="6.3" fill="#007af4"/>
<circle cx="1065.0" cy="1050.4" r="6.3" fill="#0075f1"/>
<circle cx="995.1" cy="1046.3" r="6.3" fill="#fe005c"/>
<circle cx="955.6" cy="1051.1" r="6.3" fill="#9927af"/>
<circle cx="1036.3" cy="1051.8" r="6.3" fill="#007cf5"/>
<circle cx="1055.5" cy="1054.7" r="6.3" fill="#007df5"/>
<circle cx="1039.6" cy="1054.1" r="6.3" fill="#0075f0"/>
<circle cx="1000.2" cy="1059.5" r="6.3" fill="#d5008f"/>
<circle cx="974.0" cy="1052.4" r="6.3" fill="#7151d3"/>
<circle cx="1065.9" cy="1055.8" r="6.3" fill="#007ef6"/>
<circle cx="1002.3" cy="1070.6" r="6.3" fill="#bb00a0"/>
<circle cx="1078.0" cy="1051.2" r="6.3" fill="#0074f0"/>
<circle cx="959.3" cy="1054.6" r="6.3" fill="#a51ca9"/>
<circle cx="982.5" cy="1051.8" r="6.3" fill="#a020ab"/>
<circle cx="945.1" cy="1051.1" r="6.3" fill="#9f20ab"/>
<circle cx="961.5" cy="1054.0" r="6.3" fill="#9926af"/>
<circle cx="1008.9" cy="1058.1" r="6.3" fill="#d5008f"/>
<circle cx="1073.4" cy="1054.8" r="6.3" fill="#007bf4"/>
<circle cx="974.1" cy="1055.4" r="6.3" fill="#6e53d5"/>
<circle cx="984.7" cy="1051.3" r="6.3" fill="#c2009c"/>
<circle cx="1010.4" cy="1058.4" r="6.3" fill="#d5008f"/>
<circle cx="948.0" cy="1055.3" r="6.3" fill="#a11fab"/>
<circle cx="1045.2" cy="1055.4" r="6.3" fill="#0073ef"/>
<circle cx="998.2" cy="1060.7" r="6.3" fill="#e00086"/>
<circle cx="953.2" cy="1054.8" r="6.3" fill="#9927b0"/>
<circle cx="1005.0" cy="1055.3" r="6.3" fill="#e00086"/>
<circle cx="1054.5" cy="1051.3" r="6.3" fill="#007af4"/>
<circle cx="1002.2" cy="1053.1" r="6.3" fill="#e00086"/>
<circle cx="1061.0" cy="1054.5" r="6.3" fill="#007cf5"/>
<circle cx="1006.3" cy="1041.0" r="6.3" fill="#ff0051"/>
<circle cx="1011.2" cy="1055.2" r="6.3" fill="#fe005c"/>
<circle cx="1085.6" cy="1054.3" r="6.3" fill="#0076f1"/>
<circle cx="1094.4" cy="1051.9" r="6.3" fill="#007df5"/>
<circle cx="1092.1" cy="1052.1" r="6.3" fill="#007ef6"/>
<circle cx="1006.3" cy="1043.9" r="6.3" fill="#fe005c"/>
<circle cx="1011.2" cy="1052.0" r="6.3" fill="#d5008f"/>
<circle cx="1107.7" cy="1051.2" r="6.3" fill="#0080f7"/>
<circle cx="1093.5" cy="1054.6" r="6.3" fill="#0078f3"/>
<circle cx="1016.3" cy="1055.9" r="6.3" fill="#ff0054"/>
<circle cx="1010.1" cy="1044.2" r="6.3" fill="#d5008f"/>
<circle cx="1076.1" cy="1055.7" r="6.3" fill="#007bf4"/>
<circle cx="1007.7" cy="1065.6" r="6.3" fill="#ff0058"/>
<circle cx="1008.5" cy="1039.5" r="5.3" fill="#008bfb"/>
<circle cx="1003.2" cy="1041.2" r="5.2" fill="#ff0051"/>
<circle cx="1003" cy="1064.2" r="6.6" fill="#008bfb"/>
<path d="M998.0,1079.6 C996.2,1079.8 995.4,1080.1 994.5,1081.0 C993.6,1081.9 993.1,1082.4 992.4,1085.0 C991.7,1087.6 991.0,1093.9 990.1,1096.7 C989.2,1099.5 987.8,1100.2 987.3,1102.0 C986.8,1103.8 987.0,1105.8 987.3,1107.5 C987.6,1109.2 988.5,1109.9 989.3,1112.2 C990.1,1114.5 991.1,1118.9 992.0,1121.5 C992.9,1124.1 993.6,1126.4 994.7,1127.7 C995.8,1129.0 996.9,1129.3 998.5,1129.6 C1000.1,1129.9 1003.0,1129.9 1004.5,1129.6 C1006.0,1129.3 1006.9,1129.0 1007.5,1127.7 C1008.1,1126.4 1007.8,1124.1 1007.9,1121.5 C1008.0,1118.9 1007.9,1114.5 1007.9,1112.2 C1007.9,1109.9 1007.9,1109.2 1007.9,1107.5 C1007.9,1105.8 1007.9,1103.8 1007.9,1102.0 C1007.9,1100.2 1007.9,1099.5 1007.9,1096.7 C1007.9,1093.9 1007.9,1087.6 1007.8,1085.0 C1007.7,1082.4 1007.9,1081.9 1007.5,1081.0 C1007.1,1080.1 1007.1,1079.8 1005.5,1079.6 C1003.9,1079.4 999.8,1079.4 998.0,1079.6 Z" fill="#008bfb"/>
<path d="M1180.9,1103.0 C1181.2,1101.7 1181.0,1100.2 1182.5,1099.5 C1184.0,1098.8 1182.9,1099.1 1190.0,1099.0 C1197.1,1098.9 1213.7,1099.0 1225.0,1099.0 C1236.3,1099.0 1251.6,1098.9 1258.0,1099.0 C1264.4,1099.1 1262.3,1099.1 1263.5,1099.8 C1264.7,1100.5 1264.8,1101.7 1265.1,1103.0 C1265.4,1104.3 1265.4,1106.3 1265.1,1107.6 C1264.8,1108.9 1264.7,1110.0 1263.5,1110.6 C1262.3,1111.2 1264.4,1111.2 1258.0,1111.4 C1251.6,1111.6 1236.3,1111.8 1225.0,1111.8 C1213.7,1111.8 1197.1,1111.7 1190.0,1111.6 C1182.9,1111.5 1184.0,1111.9 1182.5,1111.2 C1181.0,1110.5 1181.2,1109.0 1180.9,1107.6 C1180.6,1106.2 1180.6,1104.3 1180.9,1103.0 Z" fill="#ff0051"/>
<path d="M998.5,1132.3 C996.8,1132.6 996.1,1133.2 995.5,1134.0 C994.9,1134.8 995.1,1135.2 994.7,1137.0 C994.3,1138.8 993.6,1142.1 993.2,1144.7 C992.8,1147.3 992.4,1149.8 992.2,1152.4 C992.0,1155.0 992.0,1157.6 992.2,1160.2 C992.4,1162.8 993.0,1165.4 993.5,1168.0 C994.0,1170.6 994.5,1173.6 995.0,1175.7 C995.5,1177.8 995.8,1179.5 996.5,1180.5 C997.2,1181.5 997.6,1181.7 999.0,1181.9 C1000.4,1182.1 1003.6,1182.1 1005.0,1181.9 C1006.4,1181.7 1006.8,1181.5 1007.5,1180.5 C1008.2,1179.5 1008.6,1177.8 1009.0,1175.7 C1009.4,1173.6 1009.6,1170.6 1009.8,1168.0 C1010.0,1165.4 1010.1,1162.8 1010.2,1160.2 C1010.3,1157.6 1010.3,1155.0 1010.2,1152.4 C1010.1,1149.8 1009.9,1147.3 1009.8,1144.7 C1009.7,1142.1 1009.8,1138.8 1009.5,1137.0 C1009.2,1135.2 1008.9,1134.8 1008.2,1134.0 C1007.5,1133.2 1007.1,1132.6 1005.5,1132.3 C1003.9,1132.0 1000.2,1132.0 998.5,1132.3 Z" fill="#008bfb"/>
<path d="M1009.8,1150.0 C1010.2,1147.6 1008.6,1149.2 1012.0,1149.0 C1015.4,1148.8 1025.6,1148.8 1030.0,1149.0 C1034.4,1149.2 1036.7,1149.2 1038.5,1150.0 C1040.3,1150.8 1040.4,1151.8 1040.8,1153.5 C1041.2,1155.2 1041.2,1158.4 1040.8,1160.0 C1040.4,1161.6 1040.3,1162.3 1038.5,1163.0 C1036.7,1163.7 1034.4,1164.2 1030.0,1164.4 C1025.6,1164.6 1015.4,1164.6 1012.0,1164.4 C1008.6,1164.2 1010.2,1165.8 1009.8,1163.4 C1009.4,1161.0 1009.4,1152.4 1009.8,1150.0 Z" fill="#ff0051"/>
<path d="M1002.0,1183.9 C1000.2,1184.2 1000.1,1184.7 999.5,1185.5 C998.9,1186.3 998.4,1185.7 998.1,1189.0 C997.8,1192.3 997.8,1202.3 997.5,1205.5 C997.2,1208.7 996.1,1207.1 996.1,1208.0 C996.1,1208.9 997.2,1207.9 997.5,1211.0 C997.8,1214.1 997.7,1223.1 998.1,1226.5 C998.5,1229.9 999.1,1230.2 999.8,1231.3 C1000.5,1232.4 1000.9,1232.8 1002.5,1233.1 C1004.1,1233.4 1008.0,1233.4 1009.5,1233.1 C1011.0,1232.8 1011.2,1232.4 1011.8,1231.3 C1012.4,1230.2 1012.7,1229.9 1012.9,1226.5 C1013.1,1223.1 1012.9,1214.1 1012.9,1211.0 C1012.9,1207.9 1012.9,1208.9 1012.9,1208.0 C1012.9,1207.1 1012.9,1208.7 1012.9,1205.5 C1012.9,1202.3 1013.0,1192.3 1012.9,1189.0 C1012.8,1185.7 1012.5,1186.3 1012.0,1185.5 C1011.5,1184.7 1011.7,1184.2 1010.0,1183.9 C1008.3,1183.6 1003.8,1183.6 1002.0,1183.9 Z" fill="#008bfb"/>
<path d="M1002.1,1209.5 C1002.3,1208.8 1002.5,1208.7 1003.5,1208.0 C1004.5,1207.3 1006.5,1206.6 1008.0,1205.5 C1009.5,1204.4 1010.5,1202.2 1012.5,1201.5 C1014.5,1200.8 1018.0,1200.8 1020.0,1201.0 C1022.0,1201.2 1023.3,1201.7 1024.2,1202.5 C1025.1,1203.3 1025.1,1204.6 1025.3,1206.0 C1025.5,1207.4 1025.5,1209.6 1025.3,1211.0 C1025.1,1212.4 1025.1,1213.4 1024.2,1214.2 C1023.3,1215.0 1022.0,1215.4 1020.0,1215.6 C1018.0,1215.8 1014.5,1215.6 1012.5,1215.6 C1010.5,1215.5 1009.5,1215.5 1008.0,1215.3 C1006.5,1215.1 1004.5,1214.7 1003.5,1214.2 C1002.5,1213.7 1002.3,1213.3 1002.1,1212.5 C1001.9,1211.7 1001.9,1210.2 1002.1,1209.5 Z" fill="#ff0051"/>
<path d="M1002.0,1236.1 C1000.2,1236.4 1000.9,1237.0 1000.5,1238.0 C1000.1,1239.0 999.9,1239.2 999.8,1242.0 C999.7,1244.8 999.8,1251.9 999.8,1255.0 C999.8,1258.1 999.8,1258.7 999.8,1260.5 C999.8,1262.3 999.8,1262.8 999.8,1266.0 C999.8,1269.2 999.6,1277.1 999.8,1280.0 C1000.0,1282.9 1000.5,1282.7 1001.0,1283.5 C1001.5,1284.3 1001.4,1284.7 1003.0,1284.9 C1004.6,1285.1 1008.9,1285.1 1010.5,1284.9 C1012.1,1284.7 1012.0,1284.3 1012.5,1283.5 C1013.0,1282.7 1013.3,1282.9 1013.5,1280.0 C1013.7,1277.1 1013.6,1269.2 1013.9,1266.0 C1014.2,1262.8 1015.3,1262.3 1015.3,1260.5 C1015.3,1258.7 1014.0,1258.1 1013.7,1255.0 C1013.4,1251.9 1013.5,1244.8 1013.3,1242.0 C1013.1,1239.2 1013.0,1239.0 1012.6,1238.0 C1012.2,1237.0 1012.8,1236.4 1011.0,1236.1 C1009.2,1235.8 1003.8,1235.8 1002.0,1236.1 Z" fill="#008bfb"/>
<path d="M987.0,1257.5 C987.2,1256.0 987.7,1254.9 988.5,1254.2 C989.3,1253.5 989.2,1253.4 992.0,1253.2 C994.8,1253.0 1002.1,1253.0 1005.0,1253.2 C1007.9,1253.4 1008.4,1253.7 1009.5,1254.5 C1010.6,1255.3 1011.1,1256.6 1011.4,1258.0 C1011.7,1259.4 1011.7,1261.7 1011.4,1263.0 C1011.1,1264.3 1010.6,1265.2 1009.5,1266.0 C1008.4,1266.8 1007.9,1267.6 1005.0,1267.9 C1002.1,1268.2 994.8,1268.1 992.0,1267.9 C989.2,1267.7 989.3,1267.5 988.5,1266.8 C987.7,1266.1 987.2,1265.0 987.0,1263.5 C986.8,1262.0 986.8,1259.0 987.0,1257.5 Z" fill="#ff0051"/>
<rect x="765.00" y="1311.20" width="570.00" height="2.50" fill="#151515"/>
<rect x="766.05" y="1313.60" width="2.50" height="9.30" fill="#444444"/>
<text transform="translate(736.45,1360.30) scale(0.9500,1.0000)" font-size="35.3" font-weight="normal" fill="#333333">−0.2</text>
<rect x="885.45" y="1313.60" width="2.50" height="9.30" fill="#444444"/>
<text transform="translate(855.93,1360.30) scale(0.9500,1.0000)" font-size="35.3" font-weight="normal" fill="#333333">−0.1</text>
<rect x="1004.85" y="1313.60" width="2.50" height="9.30" fill="#444444"/>
<text transform="translate(984.64,1360.30) scale(0.9500,1.0000)" font-size="35.3" font-weight="normal" fill="#333333">0.0</text>
<rect x="1124.25" y="1313.60" width="2.50" height="9.30" fill="#444444"/>
<text transform="translate(1104.38,1360.30) scale(0.9500,1.0000)" font-size="35.3" font-weight="normal" fill="#333333">0.1</text>
<rect x="1243.65" y="1313.60" width="2.50" height="9.30" fill="#444444"/>
<text transform="translate(1223.69,1360.30) scale(0.9500,1.0000)" font-size="35.3" font-weight="normal" fill="#333333">0.2</text>
<text transform="translate(732.22,1410.50) scale(0.9363,1.0000)" font-size="44" font-weight="normal" fill="#000">SHAP value (impact on model output)</text>
<rect x="1369.00" y="793.00" width="10.00" height="519.00" fill="url(#cb)"/>
<text transform="translate(1388.95,806.70) scale(0.9391,1.0000)" font-size="37.2" font-weight="normal" fill="#000">High</text>
<text transform="translate(1390.05,1325.60) scale(0.9364,1.0000)" font-size="37.2" font-weight="normal" fill="#000">Low</text>
<text transform="translate(1485.8,1158.45) rotate(-90) scale(0.9993,0.97)" font-size="38.4" fill="#000">Feature value</text>
</svg>
</body></html>
